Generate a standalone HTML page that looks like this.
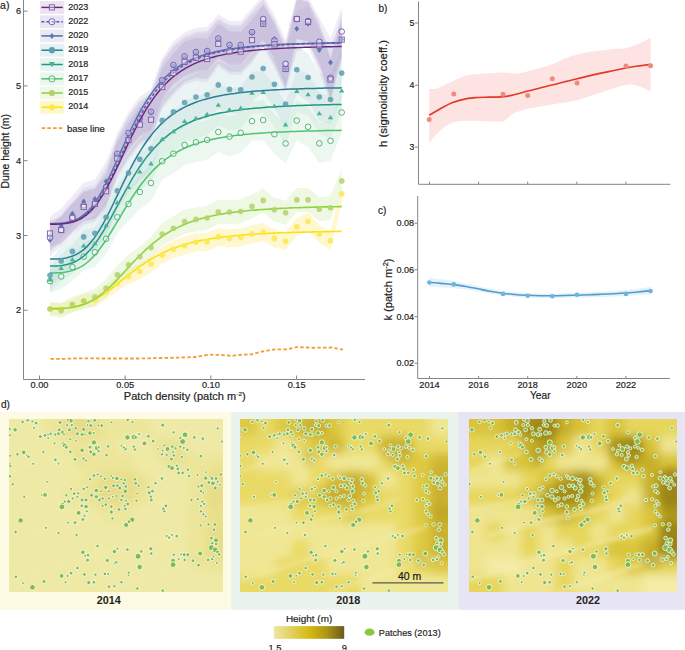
<!DOCTYPE html><html><head><meta charset="utf-8"><style>html,body{margin:0;padding:0;background:#fff;overflow:hidden;}svg{display:block}text{font-family:"Liberation Sans", sans-serif;stroke:#222;stroke-width:0.18px;}</style></head><body>
<svg width="685" height="650" viewBox="0 0 685 650">
<defs><filter id="bl" x="-5%" y="-5%" width="110%" height="110%"><feGaussianBlur stdDeviation="1.2"/></filter></defs>
<path d="M50,216.5 L61.2,208.4 L72.4,195.6 L83.7,182.8 L94.9,179.7 L106.1,161.6 L117.3,133.3 L128.5,111.9 L139.8,96.8 L151,89.5 L162.2,57.5 L173.4,41.6 L184.6,32.4 L195.9,28 L207.1,27 L218.3,14.5 L229.5,21 L240.7,21 L252,8.2 L263.2,-5 L274.4,15 L285.6,39.8 L296.8,-5 L308.1,-3 L319.3,17.8 L330.5,38.6 L341.7,7.6 L341.7,62.6 L330.5,102.5 L319.3,73 L308.1,46.7 L296.8,51.8 L285.6,92 L274.4,67.3 L263.2,46.7 L252,63.1 L240.7,74.7 L229.5,74.5 L218.3,66.8 L207.1,82 L195.9,80.7 L184.6,84.8 L173.4,95.3 L162.2,108.8 L151,140.9 L139.8,145.3 L128.5,160.1 L117.3,178 L106.1,210.1 L94.9,222.1 L83.7,224.8 L72.4,234.9 L61.2,246.6 L50,256Z" fill="#b8a8d0" fill-opacity="0.22"/>
<path d="M50,303 L61.2,302.8 L72.4,299.5 L83.7,294.2 L94.9,293 L106.1,284.8 L117.3,275.9 L128.5,268.6 L139.8,263.5 L151,255.9 L162.2,246.8 L173.4,240.4 L184.6,236.7 L195.9,233.2 L207.1,232.9 L218.3,227.9 L229.5,229.4 L240.7,228.5 L252,225 L263.2,223 L274.4,229.4 L285.6,232.3 L296.8,217.7 L308.1,212.5 L319.3,225 L330.5,231.7 L341.7,184.7 L341.7,202.7 L330.5,249.7 L319.3,243 L308.1,230.5 L296.8,235.7 L285.6,250.3 L274.4,247.4 L263.2,241 L252,243 L240.7,246.5 L229.5,247.4 L218.3,245.9 L207.1,250.9 L195.9,251.2 L184.6,254.7 L173.4,257.9 L162.2,263.8 L151,272.4 L139.8,279.5 L128.5,284.1 L117.3,290.9 L106.1,299.2 L94.9,307 L83.7,307.8 L72.4,312.5 L61.2,315.2 L50,315Z" fill="#fdf0a0" fill-opacity="0.5"/>
<path d="M50,302 L61.2,303.2 L72.4,296.7 L83.7,292.8 L94.9,288.4 L106.1,279.1 L117.3,265.2 L128.5,254.8 L139.8,246.5 L151,236.8 L162.2,222.8 L173.4,216.6 L184.6,209.5 L195.9,207.4 L207.1,206 L218.3,200.1 L229.5,200.1 L240.7,199.5 L252,194.3 L263.2,188.4 L274.4,197.8 L285.6,200.7 L296.8,187.9 L308.1,187.9 L319.3,197.2 L330.5,195.7 L341.7,168.9 L341.7,192.9 L330.5,219.7 L319.3,221.2 L308.1,211.9 L296.8,211.9 L285.6,224.7 L274.4,221.8 L263.2,212.4 L252,218.3 L240.7,223.5 L229.5,224.1 L218.3,224.1 L207.1,230 L195.9,231.4 L184.6,233.5 L173.4,239.8 L162.2,245.2 L151,258.4 L139.8,267.1 L128.5,274.6 L117.3,284.2 L106.1,297.3 L94.9,305.8 L83.7,309.2 L72.4,312.3 L61.2,318 L50,316Z" fill="#d8eeb8" fill-opacity="0.4"/>
<path d="M50,269.2 L61.2,263.7 L72.4,253.8 L83.7,242.6 L94.9,237.6 L106.1,223.5 L117.3,201.2 L128.5,187.3 L139.8,174.7 L151,165 L162.2,142.5 L173.4,134.4 L184.6,125 L195.9,122.3 L207.1,119.9 L218.3,112 L229.5,116.6 L240.7,112.9 L252,101.1 L263.2,100.1 L274.4,114.2 L285.6,123.5 L296.8,100.6 L308.1,106.8 L319.3,123.3 L330.5,120.8 L341.7,92.5 L341.7,132.5 L330.5,160.8 L319.3,163.3 L308.1,146.8 L296.8,140.6 L285.6,163.5 L274.4,154.2 L263.2,140.1 L252,141.1 L240.7,152.9 L229.5,156.6 L218.3,152 L207.1,159.9 L195.9,162.3 L184.6,165 L173.4,173 L162.2,179.9 L151,201 L139.8,209.3 L128.5,220.7 L117.3,233.2 L106.1,254.1 L94.9,267 L83.7,270.6 L72.4,280.4 L61.2,289.1 L50,293.2Z" fill="#b4e4c0" fill-opacity="0.25"/>
<path d="M50,266.4 L61.2,254.3 L72.4,244.8 L83.7,230.5 L94.9,227.4 L106.1,208.9 L117.3,185.3 L128.5,169.2 L139.8,153.2 L151,144.3 L162.2,119.1 L173.4,110.9 L184.6,100 L195.9,97 L207.1,93 L218.3,83.7 L229.5,88.5 L240.7,86.8 L252,71.7 L263.2,71 L274.4,84.8 L285.6,103.3 L296.8,69.8 L308.1,73.2 L319.3,92.2 L330.5,96.2 L341.7,69.4 L341.7,111.4 L330.5,138.2 L319.3,134.2 L308.1,115.2 L296.8,111.8 L285.6,145.3 L274.4,126.8 L263.2,113 L252,113.7 L240.7,128.8 L229.5,130.5 L218.3,125.7 L207.1,135 L195.9,139 L184.6,142 L173.4,151.5 L162.2,158.5 L151,182.3 L139.8,189.8 L128.5,204.6 L117.3,219.3 L106.1,241.5 L94.9,258.8 L83.7,260.5 L72.4,273.4 L61.2,281.7 L50,292.4Z" fill="#9cd4c4" fill-opacity="0.18"/>
<path d="M50,261.2 L61.2,246.1 L72.4,235.7 L83.7,220.4 L94.9,215.9 L106.1,199 L117.3,171.8 L128.5,153.2 L139.8,138.5 L151,127.3 L162.2,98.1 L173.4,88.6 L184.6,78.5 L195.9,73 L207.1,70.7 L218.3,60.9 L229.5,65.4 L240.7,65.7 L252,53 L263.2,44.5 L274.4,60.3 L285.6,80 L296.8,45.7 L308.1,53.5 L319.3,73 L330.5,75.5 L341.7,49.1 L341.7,97.1 L330.5,123.5 L319.3,121 L308.1,101.5 L296.8,93.7 L285.6,128 L274.4,108.3 L263.2,92.5 L252,101 L240.7,113.7 L229.5,113.4 L218.3,108.9 L207.1,118.7 L195.9,121 L184.6,126.5 L173.4,135 L162.2,142.7 L151,170.3 L139.8,179.9 L128.5,192.8 L117.3,209.8 L106.1,235.4 L94.9,250.5 L83.7,253.4 L72.4,267.1 L61.2,275.7 L50,289.2Z" fill="#9cc4cc" fill-opacity="0.2"/>
<path d="M50,228 L61.2,213.5 L72.4,200.8 L83.7,188 L94.9,185 L106.1,167 L117.3,139.3 L128.5,118 L139.8,103 L151,95.8 L162.2,63.8 L173.4,48 L184.6,38.9 L195.9,34.5 L207.1,33.5 L218.3,21 L229.5,27.5 L240.7,27.5 L252,14.7 L263.2,5.7 L274.4,21 L285.6,51 L296.8,10.8 L308.1,5.7 L319.3,32 L330.5,44.6 L341.7,21.6 L341.7,57.6 L330.5,80.6 L319.3,68 L308.1,41.7 L296.8,46.8 L285.6,87 L274.4,57 L263.2,41.7 L252,50.7 L240.7,63.5 L229.5,63.5 L218.3,57 L207.1,69.5 L195.9,70.5 L184.6,74.9 L173.4,83 L162.2,97.8 L151,128.8 L139.8,135 L128.5,149 L117.3,169.3 L106.1,196 L94.9,213 L83.7,215 L72.4,226.8 L61.2,238.5 L50,252Z" fill="#8898c4" fill-opacity="0.12"/>
<path d="M50,224.7 L61.2,216.4 L72.4,203.5 L83.7,190.7 L94.9,188.5 L106.1,171.1 L117.3,137.3 L128.5,115.9 L139.8,100.8 L151,93.5 L162.2,61.5 L173.4,45.6 L184.6,36.4 L195.9,32 L207.1,31 L218.3,18.5 L229.5,25 L240.7,25 L252,12.2 L263.2,-1 L274.4,20.3 L285.6,43.8 L296.8,-1 L308.1,1 L319.3,21.8 L330.5,57.8 L341.7,11.6 L341.7,51.6 L330.5,97.8 L319.3,61.8 L308.1,41 L296.8,39 L285.6,83.8 L274.4,60.3 L263.2,39 L252,52.2 L240.7,65 L229.5,65 L218.3,58.5 L207.1,71 L195.9,72 L184.6,76.4 L173.4,84.4 L162.2,99.1 L151,130.1 L139.8,136.2 L128.5,150.1 L117.3,170.3 L106.1,202.9 L94.9,219.1 L83.7,220.2 L72.4,231.9 L61.2,243.6 L50,250.7Z" fill="#8a78b8" fill-opacity="0.14"/>
<path d="M50,220.5 L61.2,216.4 L72.4,203.5 L83.7,192.2 L94.9,188.5 L106.1,175.3 L117.3,142 L128.5,122.9 L139.8,106.9 L151,101.5 L162.2,68.2 L173.4,53.5 L184.6,41.8 L195.9,37.7 L207.1,39 L218.3,23.8 L229.5,31.5 L240.7,31.7 L252,20.1 L263.2,3.7 L274.4,24.3 L285.6,49 L296.8,-1 L308.1,2 L319.3,25.7 L330.5,59.5 L341.7,19.6 L341.7,59.6 L330.5,99.5 L319.3,65.7 L308.1,42 L296.8,39 L285.6,89 L274.4,64.3 L263.2,43.7 L252,60.1 L240.7,71.7 L229.5,71.5 L218.3,63.8 L207.1,79 L195.9,77.7 L184.6,81.8 L173.4,92.3 L162.2,105.8 L151,137.9 L139.8,142.3 L128.5,157.1 L117.3,175 L106.1,207.1 L94.9,219.1 L83.7,221.8 L72.4,231.9 L61.2,243.6 L50,246.5Z" fill="#8e6aa8" fill-opacity="0.15"/>
<polyline points="50.5,358.9 65,358.8 80,358.3 100,358.5 120,358.5 138,358.5 157,358.1 176,357.7 195,357 204.4,355.4 210,354.7 221.4,355 231,355.8 242.3,354.7 251.8,354.3 263.2,351.3 274.6,349.4 286,349.4 297.3,347.1 312.5,347.8 331.5,347.5 342.9,349.7" fill="none" stroke="#f39b34" stroke-width="1.8" stroke-dasharray="3.5,2.2"/>
<polyline points="50,308.6 52.4,308.5 54.9,308.5 57.3,308.4 59.7,308.3 62.2,308.2 64.6,308 67,307.8 69.4,307.5 71.9,307.2 74.3,306.7 76.7,306.2 79.2,305.6 81.6,305 84,304.2 86.5,303.3 88.9,302.3 91.3,301.2 93.8,300 96.2,298.8 98.6,297.4 101,295.9 103.5,294.3 105.9,292.6 108.3,290.9 110.8,289.1 113.2,287.2 115.6,285.3 118.1,283.4 120.5,281.5 122.9,279.5 125.4,277.6 127.8,275.7 130.2,273.8 132.6,271.9 135.1,270 137.5,268.2 139.9,266.5 142.4,264.8 144.8,263.1 147.2,261.6 149.7,260 152.1,258.6 154.5,257.2 157,255.9 159.4,254.6 161.8,253.4 164.2,252.2 166.7,251.1 169.1,250.1 171.5,249.1 174,248.1 176.4,247.2 178.8,246.4 181.3,245.6 183.7,244.9 186.1,244.1 188.6,243.5 191,242.8 193.4,242.2 195.8,241.6 198.3,241.1 200.7,240.6 203.1,240.1 205.6,239.7 208,239.2 210.4,238.8 212.9,238.4 215.3,238.1 217.7,237.7 220.2,237.4 222.6,237.1 225,236.8 227.5,236.5 229.9,236.2 232.3,236 234.7,235.7 237.2,235.5 239.6,235.3 242,235.1 244.5,234.9 246.9,234.7 249.3,234.5 251.8,234.4 254.2,234.2 256.6,234 259.1,233.9 261.5,233.8 263.9,233.6 266.3,233.5 268.8,233.4 271.2,233.3 273.6,233.1 276.1,233 278.5,232.9 280.9,232.8 283.4,232.8 285.8,232.7 288.2,232.6 290.7,232.5 293.1,232.4 295.5,232.3 297.9,232.3 300.4,232.2 302.8,232.1 305.2,232.1 307.7,232 310.1,232 312.5,231.9 315,231.9 317.4,231.8 319.8,231.7 322.3,231.7 324.7,231.7 327.1,231.6 329.5,231.6 332,231.5 334.4,231.5 336.8,231.5 339.3,231.4 341.7,231.4" fill="none" stroke="#fde10e" stroke-width="1.6"/>
<circle cx="50" cy="309" r="2.8" fill="#fde84c" fill-opacity="0.85"/>
<circle cx="61.2" cy="309" r="2.8" fill="#fde84c" fill-opacity="0.85"/>
<circle cx="72.4" cy="306" r="2.8" fill="#fde84c" fill-opacity="0.85"/>
<circle cx="83.7" cy="301" r="2.8" fill="#fde84c" fill-opacity="0.85"/>
<circle cx="94.9" cy="300" r="2.8" fill="#fde84c" fill-opacity="0.85"/>
<circle cx="106.1" cy="292" r="2.8" fill="#fde84c" fill-opacity="0.85"/>
<circle cx="117.3" cy="283.4" r="2.8" fill="#fde84c" fill-opacity="0.85"/>
<circle cx="128.5" cy="276.4" r="2.8" fill="#fde84c" fill-opacity="0.85"/>
<circle cx="139.8" cy="271.5" r="2.8" fill="#fde84c" fill-opacity="0.85"/>
<circle cx="151" cy="264.1" r="2.8" fill="#fde84c" fill-opacity="0.85"/>
<circle cx="162.2" cy="255.3" r="2.8" fill="#fde84c" fill-opacity="0.85"/>
<circle cx="173.4" cy="249.2" r="2.8" fill="#fde84c" fill-opacity="0.85"/>
<circle cx="184.6" cy="245.7" r="2.8" fill="#fde84c" fill-opacity="0.85"/>
<circle cx="195.9" cy="242.2" r="2.8" fill="#fde84c" fill-opacity="0.85"/>
<circle cx="207.1" cy="241.9" r="2.8" fill="#fde84c" fill-opacity="0.85"/>
<circle cx="218.3" cy="236.9" r="2.8" fill="#fde84c" fill-opacity="0.85"/>
<circle cx="229.5" cy="238.4" r="2.8" fill="#fde84c" fill-opacity="0.85"/>
<circle cx="240.7" cy="237.5" r="2.8" fill="#fde84c" fill-opacity="0.85"/>
<circle cx="252" cy="234" r="2.8" fill="#fde84c" fill-opacity="0.85"/>
<circle cx="263.2" cy="232" r="2.8" fill="#fde84c" fill-opacity="0.85"/>
<circle cx="274.4" cy="238.4" r="2.8" fill="#fde84c" fill-opacity="0.85"/>
<circle cx="285.6" cy="241.3" r="2.8" fill="#fde84c" fill-opacity="0.85"/>
<circle cx="296.8" cy="226.7" r="2.8" fill="#fde84c" fill-opacity="0.85"/>
<circle cx="308.1" cy="221.5" r="2.8" fill="#fde84c" fill-opacity="0.85"/>
<circle cx="319.3" cy="234" r="2.8" fill="#fde84c" fill-opacity="0.85"/>
<circle cx="330.5" cy="240.7" r="2.8" fill="#fde84c" fill-opacity="0.85"/>
<circle cx="341.7" cy="193.7" r="2.8" fill="#fde84c" fill-opacity="0.85"/>
<polyline points="50,308.7 52.4,308.6 54.9,308.6 57.3,308.6 59.7,308.5 62.2,308.3 64.6,308.2 67,308 69.4,307.7 71.9,307.3 74.3,306.9 76.7,306.4 79.2,305.8 81.6,305 84,304.2 86.5,303.2 88.9,302.1 91.3,300.9 93.8,299.5 96.2,298 98.6,296.3 101,294.5 103.5,292.5 105.9,290.5 108.3,288.3 110.8,286 113.2,283.6 115.6,281.1 118.1,278.6 120.5,276 122.9,273.4 125.4,270.8 127.8,268.1 130.2,265.5 132.6,262.9 135.1,260.3 137.5,257.8 139.9,255.4 142.4,253 144.8,250.7 147.2,248.4 149.7,246.3 152.1,244.2 154.5,242.2 157,240.3 159.4,238.5 161.8,236.7 164.2,235.1 166.7,233.5 169.1,232 171.5,230.6 174,229.3 176.4,228.1 178.8,226.9 181.3,225.7 183.7,224.7 186.1,223.7 188.6,222.7 191,221.8 193.4,221 195.8,220.2 198.3,219.4 200.7,218.7 203.1,218.1 205.6,217.4 208,216.8 210.4,216.3 212.9,215.8 215.3,215.3 217.7,214.8 220.2,214.3 222.6,213.9 225,213.5 227.5,213.1 229.9,212.8 232.3,212.5 234.7,212.1 237.2,211.8 239.6,211.5 242,211.3 244.5,211 246.9,210.8 249.3,210.5 251.8,210.3 254.2,210.1 256.6,209.9 259.1,209.7 261.5,209.5 263.9,209.4 266.3,209.2 268.8,209.1 271.2,208.9 273.6,208.8 276.1,208.6 278.5,208.5 280.9,208.4 283.4,208.3 285.8,208.2 288.2,208 290.7,207.9 293.1,207.8 295.5,207.8 297.9,207.7 300.4,207.6 302.8,207.5 305.2,207.4 307.7,207.4 310.1,207.3 312.5,207.2 315,207.1 317.4,207.1 319.8,207 322.3,207 324.7,206.9 327.1,206.9 329.5,206.8 332,206.8 334.4,206.7 336.8,206.7 339.3,206.6 341.7,206.6" fill="none" stroke="#8cd642" stroke-width="1.6"/>
<circle cx="50" cy="309" r="2.8" fill="#b5d16a" fill-opacity="0.85"/>
<circle cx="61.2" cy="310.6" r="2.8" fill="#b5d16a" fill-opacity="0.85"/>
<circle cx="72.4" cy="304.5" r="2.8" fill="#b5d16a" fill-opacity="0.85"/>
<circle cx="83.7" cy="301" r="2.8" fill="#b5d16a" fill-opacity="0.85"/>
<circle cx="94.9" cy="297.1" r="2.8" fill="#b5d16a" fill-opacity="0.85"/>
<circle cx="106.1" cy="288.2" r="2.8" fill="#b5d16a" fill-opacity="0.85"/>
<circle cx="117.3" cy="274.7" r="2.8" fill="#b5d16a" fill-opacity="0.85"/>
<circle cx="128.5" cy="264.7" r="2.8" fill="#b5d16a" fill-opacity="0.85"/>
<circle cx="139.8" cy="256.8" r="2.8" fill="#b5d16a" fill-opacity="0.85"/>
<circle cx="151" cy="247.6" r="2.8" fill="#b5d16a" fill-opacity="0.85"/>
<circle cx="162.2" cy="234" r="2.8" fill="#b5d16a" fill-opacity="0.85"/>
<circle cx="173.4" cy="228.2" r="2.8" fill="#b5d16a" fill-opacity="0.85"/>
<circle cx="184.6" cy="221.5" r="2.8" fill="#b5d16a" fill-opacity="0.85"/>
<circle cx="195.9" cy="219.4" r="2.8" fill="#b5d16a" fill-opacity="0.85"/>
<circle cx="207.1" cy="218" r="2.8" fill="#b5d16a" fill-opacity="0.85"/>
<circle cx="218.3" cy="212.1" r="2.8" fill="#b5d16a" fill-opacity="0.85"/>
<circle cx="229.5" cy="212.1" r="2.8" fill="#b5d16a" fill-opacity="0.85"/>
<circle cx="240.7" cy="211.5" r="2.8" fill="#b5d16a" fill-opacity="0.85"/>
<circle cx="252" cy="206.3" r="2.8" fill="#b5d16a" fill-opacity="0.85"/>
<circle cx="263.2" cy="200.4" r="2.8" fill="#b5d16a" fill-opacity="0.85"/>
<circle cx="274.4" cy="209.8" r="2.8" fill="#b5d16a" fill-opacity="0.85"/>
<circle cx="285.6" cy="212.7" r="2.8" fill="#b5d16a" fill-opacity="0.85"/>
<circle cx="296.8" cy="199.9" r="2.8" fill="#b5d16a" fill-opacity="0.85"/>
<circle cx="308.1" cy="199.9" r="2.8" fill="#b5d16a" fill-opacity="0.85"/>
<circle cx="319.3" cy="209.2" r="2.8" fill="#b5d16a" fill-opacity="0.85"/>
<circle cx="330.5" cy="207.7" r="2.8" fill="#b5d16a" fill-opacity="0.85"/>
<circle cx="341.7" cy="180.9" r="2.8" fill="#b5d16a" fill-opacity="0.85"/>
<polyline points="50,273.1 52.4,273 54.9,272.9 57.3,272.8 59.7,272.7 62.2,272.5 64.6,272.2 67,271.8 69.4,271.3 71.9,270.6 74.3,269.8 76.7,268.9 79.2,267.7 81.6,266.4 84,264.8 86.5,263 88.9,261 91.3,258.7 93.8,256.1 96.2,253.4 98.6,250.4 101,247.1 103.5,243.7 105.9,240.1 108.3,236.4 110.8,232.5 113.2,228.5 115.6,224.4 118.1,220.4 120.5,216.3 122.9,212.2 125.4,208.2 127.8,204.2 130.2,200.3 132.6,196.6 135.1,192.9 137.5,189.4 139.9,186 142.4,182.8 144.8,179.7 147.2,176.8 149.7,174 152.1,171.4 154.5,168.9 157,166.6 159.4,164.4 161.8,162.3 164.2,160.4 166.7,158.5 169.1,156.8 171.5,155.2 174,153.7 176.4,152.3 178.8,151 181.3,149.7 183.7,148.6 186.1,147.5 188.6,146.5 191,145.5 193.4,144.6 195.8,143.8 198.3,143 200.7,142.3 203.1,141.6 205.6,140.9 208,140.3 210.4,139.8 212.9,139.2 215.3,138.7 217.7,138.2 220.2,137.8 222.6,137.4 225,137 227.5,136.6 229.9,136.3 232.3,135.9 234.7,135.6 237.2,135.3 239.6,135 242,134.8 244.5,134.5 246.9,134.3 249.3,134.1 251.8,133.8 254.2,133.6 256.6,133.5 259.1,133.3 261.5,133.1 263.9,132.9 266.3,132.8 268.8,132.6 271.2,132.5 273.6,132.4 276.1,132.2 278.5,132.1 280.9,132 283.4,131.9 285.8,131.8 288.2,131.7 290.7,131.6 293.1,131.5 295.5,131.4 297.9,131.3 300.4,131.3 302.8,131.2 305.2,131.1 307.7,131 310.1,131 312.5,130.9 315,130.9 317.4,130.8 319.8,130.7 322.3,130.7 324.7,130.6 327.1,130.6 329.5,130.5 332,130.5 334.4,130.5 336.8,130.4 339.3,130.4 341.7,130.3" fill="none" stroke="#4dc470" stroke-width="1.5"/>
<circle cx="50" cy="281.2" r="2.8" fill="#fff" fill-opacity="0.4" stroke="#4aaa6a" stroke-width="0.9"/>
<circle cx="61.2" cy="276.4" r="2.8" fill="#fff" fill-opacity="0.4" stroke="#4aaa6a" stroke-width="0.9"/>
<circle cx="72.4" cy="267.1" r="2.8" fill="#fff" fill-opacity="0.4" stroke="#4aaa6a" stroke-width="0.9"/>
<circle cx="83.7" cy="256.6" r="2.8" fill="#fff" fill-opacity="0.4" stroke="#4aaa6a" stroke-width="0.9"/>
<circle cx="94.9" cy="252.3" r="2.8" fill="#fff" fill-opacity="0.4" stroke="#4aaa6a" stroke-width="0.9"/>
<circle cx="106.1" cy="238.8" r="2.8" fill="#fff" fill-opacity="0.4" stroke="#4aaa6a" stroke-width="0.9"/>
<circle cx="117.3" cy="217.2" r="2.8" fill="#fff" fill-opacity="0.4" stroke="#4aaa6a" stroke-width="0.9"/>
<circle cx="128.5" cy="204" r="2.8" fill="#fff" fill-opacity="0.4" stroke="#4aaa6a" stroke-width="0.9"/>
<circle cx="139.8" cy="192" r="2.8" fill="#fff" fill-opacity="0.4" stroke="#4aaa6a" stroke-width="0.9"/>
<circle cx="151" cy="183" r="2.8" fill="#fff" fill-opacity="0.4" stroke="#4aaa6a" stroke-width="0.9"/>
<circle cx="162.2" cy="161.2" r="2.8" fill="#fff" fill-opacity="0.4" stroke="#4aaa6a" stroke-width="0.9"/>
<circle cx="173.4" cy="153.7" r="2.8" fill="#fff" fill-opacity="0.4" stroke="#4aaa6a" stroke-width="0.9"/>
<circle cx="184.6" cy="145" r="2.8" fill="#fff" fill-opacity="0.4" stroke="#4aaa6a" stroke-width="0.9"/>
<circle cx="195.9" cy="142.3" r="2.8" fill="#fff" fill-opacity="0.4" stroke="#4aaa6a" stroke-width="0.9"/>
<circle cx="207.1" cy="139.9" r="2.8" fill="#fff" fill-opacity="0.4" stroke="#4aaa6a" stroke-width="0.9"/>
<circle cx="218.3" cy="132" r="2.8" fill="#fff" fill-opacity="0.4" stroke="#4aaa6a" stroke-width="0.9"/>
<circle cx="229.5" cy="136.6" r="2.8" fill="#fff" fill-opacity="0.4" stroke="#4aaa6a" stroke-width="0.9"/>
<circle cx="240.7" cy="132.9" r="2.8" fill="#fff" fill-opacity="0.4" stroke="#4aaa6a" stroke-width="0.9"/>
<circle cx="252" cy="121.1" r="2.8" fill="#fff" fill-opacity="0.4" stroke="#4aaa6a" stroke-width="0.9"/>
<circle cx="263.2" cy="120.1" r="2.8" fill="#fff" fill-opacity="0.4" stroke="#4aaa6a" stroke-width="0.9"/>
<circle cx="274.4" cy="134.2" r="2.8" fill="#fff" fill-opacity="0.4" stroke="#4aaa6a" stroke-width="0.9"/>
<circle cx="285.6" cy="143.5" r="2.8" fill="#fff" fill-opacity="0.4" stroke="#4aaa6a" stroke-width="0.9"/>
<circle cx="296.8" cy="120.6" r="2.8" fill="#fff" fill-opacity="0.4" stroke="#4aaa6a" stroke-width="0.9"/>
<circle cx="308.1" cy="126.8" r="2.8" fill="#fff" fill-opacity="0.4" stroke="#4aaa6a" stroke-width="0.9"/>
<circle cx="319.3" cy="143.3" r="2.8" fill="#fff" fill-opacity="0.4" stroke="#4aaa6a" stroke-width="0.9"/>
<circle cx="330.5" cy="140.8" r="2.8" fill="#fff" fill-opacity="0.4" stroke="#4aaa6a" stroke-width="0.9"/>
<circle cx="341.7" cy="112.5" r="2.8" fill="#fff" fill-opacity="0.4" stroke="#4aaa6a" stroke-width="0.9"/>
<polyline points="50,266.1 52.4,266.1 54.9,266 57.3,265.9 59.7,265.7 62.2,265.4 64.6,265 67,264.5 69.4,263.8 71.9,263 74.3,262 76.7,260.8 79.2,259.4 81.6,257.7 84,255.8 86.5,253.6 88.9,251.1 91.3,248.4 93.8,245.4 96.2,242.1 98.6,238.6 101,234.9 103.5,230.9 105.9,226.8 108.3,222.5 110.8,218.1 113.2,213.6 115.6,209.1 118.1,204.5 120.5,199.9 122.9,195.4 125.4,190.9 127.8,186.5 130.2,182.3 132.6,178.1 135.1,174.1 137.5,170.2 139.9,166.5 142.4,163 144.8,159.6 147.2,156.4 149.7,153.4 152.1,150.5 154.5,147.8 157,145.2 159.4,142.8 161.8,140.5 164.2,138.3 166.7,136.3 169.1,134.4 171.5,132.6 174,131 176.4,129.4 178.8,127.9 181.3,126.5 183.7,125.2 186.1,124 188.6,122.9 191,121.8 193.4,120.8 195.8,119.9 198.3,119 200.7,118.2 203.1,117.4 205.6,116.7 208,116 210.4,115.3 212.9,114.7 215.3,114.1 217.7,113.6 220.2,113.1 222.6,112.6 225,112.2 227.5,111.7 229.9,111.3 232.3,111 234.7,110.6 237.2,110.3 239.6,109.9 242,109.6 244.5,109.3 246.9,109.1 249.3,108.8 251.8,108.6 254.2,108.3 256.6,108.1 259.1,107.9 261.5,107.7 263.9,107.5 266.3,107.3 268.8,107.1 271.2,107 273.6,106.8 276.1,106.7 278.5,106.5 280.9,106.4 283.4,106.3 285.8,106.2 288.2,106 290.7,105.9 293.1,105.8 295.5,105.7 297.9,105.6 300.4,105.5 302.8,105.4 305.2,105.3 307.7,105.3 310.1,105.2 312.5,105.1 315,105 317.4,105 319.8,104.9 322.3,104.8 324.7,104.8 327.1,104.7 329.5,104.7 332,104.6 334.4,104.6 336.8,104.5 339.3,104.5 341.7,104.4" fill="none" stroke="#1f9a82" stroke-width="1.5"/>
<path d="M47.3,281.5 l5.4,0 l-2.7,-4.3z" fill="#4ab490"/>
<path d="M58.5,270.1 l5.4,0 l-2.7,-4.3z" fill="#4ab490"/>
<path d="M69.7,261.2 l5.4,0 l-2.7,-4.3z" fill="#4ab490"/>
<path d="M81,247.6 l5.4,0 l-2.7,-4.3z" fill="#4ab490"/>
<path d="M92.2,245.2 l5.4,0 l-2.7,-4.3z" fill="#4ab490"/>
<path d="M103.4,227.3 l5.4,0 l-2.7,-4.3z" fill="#4ab490"/>
<path d="M114.6,204.4 l5.4,0 l-2.7,-4.3z" fill="#4ab490"/>
<path d="M125.8,189 l5.4,0 l-2.7,-4.3z" fill="#4ab490"/>
<path d="M137.1,173.6 l5.4,0 l-2.7,-4.3z" fill="#4ab490"/>
<path d="M148.3,165.4 l5.4,0 l-2.7,-4.3z" fill="#4ab490"/>
<path d="M159.5,140.9 l5.4,0 l-2.7,-4.3z" fill="#4ab490"/>
<path d="M170.7,133.3 l5.4,0 l-2.7,-4.3z" fill="#4ab490"/>
<path d="M181.9,123.1 l5.4,0 l-2.7,-4.3z" fill="#4ab490"/>
<path d="M193.2,120.1 l5.4,0 l-2.7,-4.3z" fill="#4ab490"/>
<path d="M204.4,116.1 l5.4,0 l-2.7,-4.3z" fill="#4ab490"/>
<path d="M215.6,106.8 l5.4,0 l-2.7,-4.3z" fill="#4ab490"/>
<path d="M226.8,111.6 l5.4,0 l-2.7,-4.3z" fill="#4ab490"/>
<path d="M238,109.9 l5.4,0 l-2.7,-4.3z" fill="#4ab490"/>
<path d="M249.3,94.8 l5.4,0 l-2.7,-4.3z" fill="#4ab490"/>
<path d="M260.5,94.1 l5.4,0 l-2.7,-4.3z" fill="#4ab490"/>
<path d="M271.7,107.9 l5.4,0 l-2.7,-4.3z" fill="#4ab490"/>
<path d="M282.9,126.4 l5.4,0 l-2.7,-4.3z" fill="#4ab490"/>
<path d="M294.1,92.9 l5.4,0 l-2.7,-4.3z" fill="#4ab490"/>
<path d="M305.4,96.3 l5.4,0 l-2.7,-4.3z" fill="#4ab490"/>
<path d="M316.6,115.3 l5.4,0 l-2.7,-4.3z" fill="#4ab490"/>
<path d="M327.8,119.3 l5.4,0 l-2.7,-4.3z" fill="#4ab490"/>
<path d="M339,92.5 l5.4,0 l-2.7,-4.3z" fill="#4ab490"/>
<polyline points="50,259.1 52.4,259.1 54.9,259 57.3,258.9 59.7,258.7 62.2,258.5 64.6,258.2 67,257.7 69.4,257.1 71.9,256.3 74.3,255.4 76.7,254.2 79.2,252.9 81.6,251.2 84,249.3 86.5,247.1 88.9,244.6 91.3,241.7 93.8,238.6 96.2,235.1 98.6,231.4 101,227.3 103.5,223.1 105.9,218.5 108.3,213.8 110.8,208.9 113.2,204 115.6,198.9 118.1,193.8 120.5,188.7 122.9,183.6 125.4,178.6 127.8,173.7 130.2,169 132.6,164.4 135.1,159.9 137.5,155.7 139.9,151.6 142.4,147.7 144.8,144 147.2,140.5 149.7,137.2 152.1,134.1 154.5,131.2 157,128.4 159.4,125.8 161.8,123.4 164.2,121.2 166.7,119 169.1,117.1 171.5,115.2 174,113.5 176.4,111.9 178.8,110.4 181.3,109 183.7,107.7 186.1,106.4 188.6,105.3 191,104.2 193.4,103.2 195.8,102.3 198.3,101.4 200.7,100.6 203.1,99.9 205.6,99.2 208,98.5 210.4,97.9 212.9,97.3 215.3,96.7 217.7,96.2 220.2,95.7 222.6,95.3 225,94.8 227.5,94.4 229.9,94.1 232.3,93.7 234.7,93.4 237.2,93 239.6,92.7 242,92.5 244.5,92.2 246.9,91.9 249.3,91.7 251.8,91.5 254.2,91.3 256.6,91.1 259.1,90.9 261.5,90.7 263.9,90.5 266.3,90.4 268.8,90.2 271.2,90.1 273.6,89.9 276.1,89.8 278.5,89.7 280.9,89.6 283.4,89.4 285.8,89.3 288.2,89.2 290.7,89.1 293.1,89 295.5,88.9 297.9,88.9 300.4,88.8 302.8,88.7 305.2,88.6 307.7,88.6 310.1,88.5 312.5,88.4 315,88.4 317.4,88.3 319.8,88.2 322.3,88.2 324.7,88.1 327.1,88.1 329.5,88 332,88 334.4,88 336.8,87.9 339.3,87.9 341.7,87.8" fill="none" stroke="#2a7f96" stroke-width="1.5"/>
<circle cx="50" cy="275.2" r="2.8" fill="#5a9fae" fill-opacity="0.85"/>
<circle cx="61.2" cy="260.9" r="2.8" fill="#5a9fae" fill-opacity="0.85"/>
<circle cx="72.4" cy="251.4" r="2.8" fill="#5a9fae" fill-opacity="0.85"/>
<circle cx="83.7" cy="236.9" r="2.8" fill="#5a9fae" fill-opacity="0.85"/>
<circle cx="94.9" cy="233.2" r="2.8" fill="#5a9fae" fill-opacity="0.85"/>
<circle cx="106.1" cy="217.2" r="2.8" fill="#5a9fae" fill-opacity="0.85"/>
<circle cx="117.3" cy="190.8" r="2.8" fill="#5a9fae" fill-opacity="0.85"/>
<circle cx="128.5" cy="173" r="2.8" fill="#5a9fae" fill-opacity="0.85"/>
<circle cx="139.8" cy="159.2" r="2.8" fill="#5a9fae" fill-opacity="0.85"/>
<circle cx="151" cy="148.8" r="2.8" fill="#5a9fae" fill-opacity="0.85"/>
<circle cx="162.2" cy="120.4" r="2.8" fill="#5a9fae" fill-opacity="0.85"/>
<circle cx="173.4" cy="111.8" r="2.8" fill="#5a9fae" fill-opacity="0.85"/>
<circle cx="184.6" cy="102.5" r="2.8" fill="#5a9fae" fill-opacity="0.85"/>
<circle cx="195.9" cy="97" r="2.8" fill="#5a9fae" fill-opacity="0.85"/>
<circle cx="207.1" cy="94.7" r="2.8" fill="#5a9fae" fill-opacity="0.85"/>
<circle cx="218.3" cy="84.9" r="2.8" fill="#5a9fae" fill-opacity="0.85"/>
<circle cx="229.5" cy="89.4" r="2.8" fill="#5a9fae" fill-opacity="0.85"/>
<circle cx="240.7" cy="89.7" r="2.8" fill="#5a9fae" fill-opacity="0.85"/>
<circle cx="252" cy="77" r="2.8" fill="#5a9fae" fill-opacity="0.85"/>
<circle cx="263.2" cy="68.5" r="2.8" fill="#5a9fae" fill-opacity="0.85"/>
<circle cx="274.4" cy="84.3" r="2.8" fill="#5a9fae" fill-opacity="0.85"/>
<circle cx="285.6" cy="104" r="2.8" fill="#5a9fae" fill-opacity="0.85"/>
<circle cx="296.8" cy="69.7" r="2.8" fill="#5a9fae" fill-opacity="0.85"/>
<circle cx="308.1" cy="77.5" r="2.8" fill="#5a9fae" fill-opacity="0.85"/>
<circle cx="319.3" cy="97" r="2.8" fill="#5a9fae" fill-opacity="0.85"/>
<circle cx="330.5" cy="99.5" r="2.8" fill="#5a9fae" fill-opacity="0.85"/>
<circle cx="341.7" cy="73.1" r="2.8" fill="#5a9fae" fill-opacity="0.85"/>
<polyline points="50,223.6 52.4,223.6 54.9,223.6 57.3,223.5 59.7,223.3 62.2,223.1 64.6,222.8 67,222.4 69.4,221.9 71.9,221.2 74.3,220.4 76.7,219.3 79.2,218.1 81.6,216.5 84,214.7 86.5,212.6 88.9,210.2 91.3,207.4 93.8,204.3 96.2,200.9 98.6,197.1 101,193 103.5,188.7 105.9,184 108.3,179.1 110.8,174 113.2,168.7 115.6,163.4 118.1,157.9 120.5,152.4 122.9,147 125.4,141.6 127.8,136.2 130.2,131 132.6,126 135.1,121.1 137.5,116.4 139.9,111.9 142.4,107.6 144.8,103.5 147.2,99.7 149.7,96 152.1,92.6 154.5,89.3 157,86.3 159.4,83.5 161.8,80.8 164.2,78.3 166.7,76 169.1,73.8 171.5,71.8 174,69.9 176.4,68.2 178.8,66.5 181.3,65 183.7,63.6 186.1,62.3 188.6,61 191,59.9 193.4,58.8 195.8,57.8 198.3,56.9 200.7,56 203.1,55.2 205.6,54.5 208,53.7 210.4,53.1 212.9,52.5 215.3,51.9 217.7,51.3 220.2,50.8 222.6,50.4 225,49.9 227.5,49.5 229.9,49.1 232.3,48.7 234.7,48.4 237.2,48 239.6,47.7 242,47.4 244.5,47.2 246.9,46.9 249.3,46.7 251.8,46.4 254.2,46.2 256.6,46 259.1,45.8 261.5,45.6 263.9,45.5 266.3,45.3 268.8,45.1 271.2,45 273.6,44.9 276.1,44.7 278.5,44.6 280.9,44.5 283.4,44.4 285.8,44.3 288.2,44.1 290.7,44 293.1,44 295.5,43.9 297.9,43.8 300.4,43.7 302.8,43.6 305.2,43.6 307.7,43.5 310.1,43.4 312.5,43.4 315,43.3 317.4,43.2 319.8,43.2 322.3,43.1 324.7,43.1 327.1,43 329.5,43 332,42.9 334.4,42.9 336.8,42.8 339.3,42.8 341.7,42.8" fill="none" stroke="#5a74ae" stroke-width="1.6"/>
<path d="M50,237 l2.4,3 l-2.4,3 l-2.4,-3z" fill="#5e78b4"/>
<path d="M61.2,223 l2.4,3 l-2.4,3 l-2.4,-3z" fill="#5e78b4"/>
<path d="M72.4,210.8 l2.4,3 l-2.4,3 l-2.4,-3z" fill="#5e78b4"/>
<path d="M83.7,198.5 l2.4,3 l-2.4,3 l-2.4,-3z" fill="#5e78b4"/>
<path d="M94.9,196 l2.4,3 l-2.4,3 l-2.4,-3z" fill="#5e78b4"/>
<path d="M106.1,178.5 l2.4,3 l-2.4,3 l-2.4,-3z" fill="#5e78b4"/>
<path d="M117.3,151.3 l2.4,3 l-2.4,3 l-2.4,-3z" fill="#5e78b4"/>
<path d="M128.5,130.5 l2.4,3 l-2.4,3 l-2.4,-3z" fill="#5e78b4"/>
<path d="M139.8,116 l2.4,3 l-2.4,3 l-2.4,-3z" fill="#5e78b4"/>
<path d="M151,109.3 l2.4,3 l-2.4,3 l-2.4,-3z" fill="#5e78b4"/>
<path d="M162.2,77.8 l2.4,3 l-2.4,3 l-2.4,-3z" fill="#5e78b4"/>
<path d="M173.4,62.5 l2.4,3 l-2.4,3 l-2.4,-3z" fill="#5e78b4"/>
<path d="M184.6,53.9 l2.4,3 l-2.4,3 l-2.4,-3z" fill="#5e78b4"/>
<path d="M195.9,49.5 l2.4,3 l-2.4,3 l-2.4,-3z" fill="#5e78b4"/>
<path d="M207.1,48.5 l2.4,3 l-2.4,3 l-2.4,-3z" fill="#5e78b4"/>
<path d="M218.3,36 l2.4,3 l-2.4,3 l-2.4,-3z" fill="#5e78b4"/>
<path d="M229.5,42.5 l2.4,3 l-2.4,3 l-2.4,-3z" fill="#5e78b4"/>
<path d="M240.7,42.5 l2.4,3 l-2.4,3 l-2.4,-3z" fill="#5e78b4"/>
<path d="M252,29.7 l2.4,3 l-2.4,3 l-2.4,-3z" fill="#5e78b4"/>
<path d="M263.2,20.7 l2.4,3 l-2.4,3 l-2.4,-3z" fill="#5e78b4"/>
<path d="M274.4,36 l2.4,3 l-2.4,3 l-2.4,-3z" fill="#5e78b4"/>
<path d="M285.6,66 l2.4,3 l-2.4,3 l-2.4,-3z" fill="#5e78b4"/>
<path d="M296.8,25.8 l2.4,3 l-2.4,3 l-2.4,-3z" fill="#5e78b4"/>
<path d="M308.1,20.7 l2.4,3 l-2.4,3 l-2.4,-3z" fill="#5e78b4"/>
<path d="M319.3,47 l2.4,3 l-2.4,3 l-2.4,-3z" fill="#5e78b4"/>
<path d="M330.5,59.6 l2.4,3 l-2.4,3 l-2.4,-3z" fill="#5e78b4"/>
<path d="M341.7,36.6 l2.4,3 l-2.4,3 l-2.4,-3z" fill="#5e78b4"/>
<polyline points="50,224.2 52.4,224.2 54.9,224.1 57.3,224 59.7,223.9 62.2,223.7 64.6,223.5 67,223.1 69.4,222.7 71.9,222.1 74.3,221.3 76.7,220.4 79.2,219.2 81.6,217.9 84,216.2 86.5,214.3 88.9,212.1 91.3,209.6 93.8,206.8 96.2,203.6 98.6,200.1 101,196.3 103.5,192.2 105.9,187.8 108.3,183.1 110.8,178.2 113.2,173.2 115.6,167.9 118.1,162.6 120.5,157.2 122.9,151.8 125.4,146.4 127.8,141.1 130.2,135.9 132.6,130.7 135.1,125.8 137.5,121 139.9,116.3 142.4,111.9 144.8,107.7 147.2,103.6 149.7,99.8 152.1,96.2 154.5,92.8 157,89.6 159.4,86.6 161.8,83.8 164.2,81.2 166.7,78.7 169.1,76.4 171.5,74.2 174,72.2 176.4,70.4 178.8,68.6 181.3,67 183.7,65.5 186.1,64 188.6,62.7 191,61.5 193.4,60.3 195.8,59.3 198.3,58.3 200.7,57.3 203.1,56.4 205.6,55.6 208,54.9 210.4,54.1 212.9,53.5 215.3,52.9 217.7,52.3 220.2,51.7 222.6,51.2 225,50.7 227.5,50.3 229.9,49.8 232.3,49.4 234.7,49.1 237.2,48.7 239.6,48.4 242,48.1 244.5,47.8 246.9,47.5 249.3,47.2 251.8,47 254.2,46.8 256.6,46.5 259.1,46.3 261.5,46.1 263.9,45.9 266.3,45.8 268.8,45.6 271.2,45.4 273.6,45.3 276.1,45.1 278.5,45 280.9,44.9 283.4,44.8 285.8,44.6 288.2,44.5 290.7,44.4 293.1,44.3 295.5,44.2 297.9,44.1 300.4,44.1 302.8,44 305.2,43.9 307.7,43.8 310.1,43.7 312.5,43.7 315,43.6 317.4,43.5 319.8,43.5 322.3,43.4 324.7,43.4 327.1,43.3 329.5,43.3 332,43.2 334.4,43.2 336.8,43.1 339.3,43.1 341.7,43.1" fill="none" stroke="#6552aa" stroke-width="1.45" stroke-dasharray="3,2"/>
<circle cx="50" cy="237.7" r="2.8" fill="#fff" fill-opacity="0.4" stroke="#6a50b0" stroke-width="0.9"/>
<circle cx="61.2" cy="230" r="2.8" fill="#fff" fill-opacity="0.4" stroke="#6a50b0" stroke-width="0.9"/>
<circle cx="72.4" cy="217.7" r="2.8" fill="#fff" fill-opacity="0.4" stroke="#6a50b0" stroke-width="0.9"/>
<circle cx="83.7" cy="205.4" r="2.8" fill="#fff" fill-opacity="0.4" stroke="#6a50b0" stroke-width="0.9"/>
<circle cx="94.9" cy="203.8" r="2.8" fill="#fff" fill-opacity="0.4" stroke="#6a50b0" stroke-width="0.9"/>
<circle cx="106.1" cy="187" r="2.8" fill="#fff" fill-opacity="0.4" stroke="#6a50b0" stroke-width="0.9"/>
<circle cx="117.3" cy="153.8" r="2.8" fill="#fff" fill-opacity="0.4" stroke="#6a50b0" stroke-width="0.9"/>
<circle cx="128.5" cy="133" r="2.8" fill="#fff" fill-opacity="0.4" stroke="#6a50b0" stroke-width="0.9"/>
<circle cx="139.8" cy="118.5" r="2.8" fill="#fff" fill-opacity="0.4" stroke="#6a50b0" stroke-width="0.9"/>
<circle cx="151" cy="111.8" r="2.8" fill="#fff" fill-opacity="0.4" stroke="#6a50b0" stroke-width="0.9"/>
<circle cx="162.2" cy="80.3" r="2.8" fill="#fff" fill-opacity="0.4" stroke="#6a50b0" stroke-width="0.9"/>
<circle cx="173.4" cy="65" r="2.8" fill="#fff" fill-opacity="0.4" stroke="#6a50b0" stroke-width="0.9"/>
<circle cx="184.6" cy="56.4" r="2.8" fill="#fff" fill-opacity="0.4" stroke="#6a50b0" stroke-width="0.9"/>
<circle cx="195.9" cy="52" r="2.8" fill="#fff" fill-opacity="0.4" stroke="#6a50b0" stroke-width="0.9"/>
<circle cx="207.1" cy="51" r="2.8" fill="#fff" fill-opacity="0.4" stroke="#6a50b0" stroke-width="0.9"/>
<circle cx="218.3" cy="38.5" r="2.8" fill="#fff" fill-opacity="0.4" stroke="#6a50b0" stroke-width="0.9"/>
<circle cx="229.5" cy="45" r="2.8" fill="#fff" fill-opacity="0.4" stroke="#6a50b0" stroke-width="0.9"/>
<circle cx="240.7" cy="45" r="2.8" fill="#fff" fill-opacity="0.4" stroke="#6a50b0" stroke-width="0.9"/>
<circle cx="252" cy="32.2" r="2.8" fill="#fff" fill-opacity="0.4" stroke="#6a50b0" stroke-width="0.9"/>
<circle cx="263.2" cy="19" r="2.8" fill="#fff" fill-opacity="0.4" stroke="#6a50b0" stroke-width="0.9"/>
<circle cx="274.4" cy="40.3" r="2.8" fill="#fff" fill-opacity="0.4" stroke="#6a50b0" stroke-width="0.9"/>
<circle cx="285.6" cy="63.8" r="2.8" fill="#fff" fill-opacity="0.4" stroke="#6a50b0" stroke-width="0.9"/>
<circle cx="296.8" cy="19" r="2.8" fill="#fff" fill-opacity="0.4" stroke="#6a50b0" stroke-width="0.9"/>
<circle cx="308.1" cy="21" r="2.8" fill="#fff" fill-opacity="0.4" stroke="#6a50b0" stroke-width="0.9"/>
<circle cx="319.3" cy="41.8" r="2.8" fill="#fff" fill-opacity="0.4" stroke="#6a50b0" stroke-width="0.9"/>
<circle cx="330.5" cy="77.8" r="2.8" fill="#fff" fill-opacity="0.4" stroke="#6a50b0" stroke-width="0.9"/>
<circle cx="341.7" cy="31.6" r="2.8" fill="#fff" fill-opacity="0.4" stroke="#6a50b0" stroke-width="0.9"/>
<polyline points="50,224.3 52.4,224.2 54.9,224.2 57.3,224.1 59.7,224 62.2,223.8 64.6,223.6 67,223.3 69.4,222.8 71.9,222.3 74.3,221.5 76.7,220.6 79.2,219.6 81.6,218.3 84,216.7 86.5,214.9 88.9,212.8 91.3,210.4 93.8,207.7 96.2,204.7 98.6,201.4 101,197.7 103.5,193.8 105.9,189.6 108.3,185.1 110.8,180.5 113.2,175.6 115.6,170.6 118.1,165.4 120.5,160.2 122.9,155 125.4,149.7 127.8,144.5 130.2,139.4 132.6,134.4 135.1,129.5 137.5,124.8 139.9,120.2 142.4,115.9 144.8,111.7 147.2,107.7 149.7,103.9 152.1,100.3 154.5,96.9 157,93.7 159.4,90.7 161.8,87.9 164.2,85.2 166.7,82.8 169.1,80.4 171.5,78.3 174,76.2 176.4,74.3 178.8,72.6 181.3,70.9 183.7,69.4 186.1,67.9 188.6,66.6 191,65.3 193.4,64.2 195.8,63.1 198.3,62.1 200.7,61.1 203.1,60.2 205.6,59.4 208,58.6 210.4,57.9 212.9,57.2 215.3,56.5 217.7,55.9 220.2,55.4 222.6,54.9 225,54.4 227.5,53.9 229.9,53.5 232.3,53.1 234.7,52.7 237.2,52.3 239.6,52 242,51.6 244.5,51.3 246.9,51.1 249.3,50.8 251.8,50.5 254.2,50.3 256.6,50.1 259.1,49.8 261.5,49.6 263.9,49.5 266.3,49.3 268.8,49.1 271.2,48.9 273.6,48.8 276.1,48.6 278.5,48.5 280.9,48.4 283.4,48.2 285.8,48.1 288.2,48 290.7,47.9 293.1,47.8 295.5,47.7 297.9,47.6 300.4,47.5 302.8,47.4 305.2,47.3 307.7,47.3 310.1,47.2 312.5,47.1 315,47.1 317.4,47 319.8,46.9 322.3,46.9 324.7,46.8 327.1,46.8 329.5,46.7 332,46.7 334.4,46.6 336.8,46.6 339.3,46.5 341.7,46.5" fill="none" stroke="#67287c" stroke-width="1.45"/>
<rect x="47.4" y="230.9" width="5.2" height="5.2" fill="#fff" fill-opacity="0.35" stroke="#7b5aab" stroke-width="0.9"/>
<rect x="58.6" y="227.4" width="5.2" height="5.2" fill="#fff" fill-opacity="0.35" stroke="#7b5aab" stroke-width="0.9"/>
<rect x="69.8" y="215.1" width="5.2" height="5.2" fill="#fff" fill-opacity="0.35" stroke="#7b5aab" stroke-width="0.9"/>
<rect x="81.1" y="204.4" width="5.2" height="5.2" fill="#fff" fill-opacity="0.35" stroke="#7b5aab" stroke-width="0.9"/>
<rect x="92.3" y="201.2" width="5.2" height="5.2" fill="#fff" fill-opacity="0.35" stroke="#7b5aab" stroke-width="0.9"/>
<rect x="103.5" y="188.6" width="5.2" height="5.2" fill="#fff" fill-opacity="0.35" stroke="#7b5aab" stroke-width="0.9"/>
<rect x="114.7" y="155.9" width="5.2" height="5.2" fill="#fff" fill-opacity="0.35" stroke="#7b5aab" stroke-width="0.9"/>
<rect x="125.9" y="137.4" width="5.2" height="5.2" fill="#fff" fill-opacity="0.35" stroke="#7b5aab" stroke-width="0.9"/>
<rect x="137.2" y="122" width="5.2" height="5.2" fill="#fff" fill-opacity="0.35" stroke="#7b5aab" stroke-width="0.9"/>
<rect x="148.4" y="117.1" width="5.2" height="5.2" fill="#fff" fill-opacity="0.35" stroke="#7b5aab" stroke-width="0.9"/>
<rect x="159.6" y="84.4" width="5.2" height="5.2" fill="#fff" fill-opacity="0.35" stroke="#7b5aab" stroke-width="0.9"/>
<rect x="170.8" y="70.3" width="5.2" height="5.2" fill="#fff" fill-opacity="0.35" stroke="#7b5aab" stroke-width="0.9"/>
<rect x="182" y="59.2" width="5.2" height="5.2" fill="#fff" fill-opacity="0.35" stroke="#7b5aab" stroke-width="0.9"/>
<rect x="193.3" y="55.1" width="5.2" height="5.2" fill="#fff" fill-opacity="0.35" stroke="#7b5aab" stroke-width="0.9"/>
<rect x="204.5" y="56.4" width="5.2" height="5.2" fill="#fff" fill-opacity="0.35" stroke="#7b5aab" stroke-width="0.9"/>
<rect x="215.7" y="41.2" width="5.2" height="5.2" fill="#fff" fill-opacity="0.35" stroke="#7b5aab" stroke-width="0.9"/>
<rect x="226.9" y="48.9" width="5.2" height="5.2" fill="#fff" fill-opacity="0.35" stroke="#7b5aab" stroke-width="0.9"/>
<rect x="238.1" y="49.1" width="5.2" height="5.2" fill="#fff" fill-opacity="0.35" stroke="#7b5aab" stroke-width="0.9"/>
<rect x="249.4" y="37.5" width="5.2" height="5.2" fill="#fff" fill-opacity="0.35" stroke="#7b5aab" stroke-width="0.9"/>
<rect x="260.6" y="21.1" width="5.2" height="5.2" fill="#fff" fill-opacity="0.35" stroke="#7b5aab" stroke-width="0.9"/>
<rect x="271.8" y="41.7" width="5.2" height="5.2" fill="#fff" fill-opacity="0.35" stroke="#7b5aab" stroke-width="0.9"/>
<rect x="283" y="66.4" width="5.2" height="5.2" fill="#fff" fill-opacity="0.35" stroke="#7b5aab" stroke-width="0.9"/>
<rect x="294.2" y="16.4" width="5.2" height="5.2" fill="#fff" fill-opacity="0.35" stroke="#7b5aab" stroke-width="0.9"/>
<rect x="305.5" y="19.4" width="5.2" height="5.2" fill="#fff" fill-opacity="0.35" stroke="#7b5aab" stroke-width="0.9"/>
<rect x="316.7" y="43.1" width="5.2" height="5.2" fill="#fff" fill-opacity="0.35" stroke="#7b5aab" stroke-width="0.9"/>
<rect x="327.9" y="76.9" width="5.2" height="5.2" fill="#fff" fill-opacity="0.35" stroke="#7b5aab" stroke-width="0.9"/>
<rect x="339.1" y="37" width="5.2" height="5.2" fill="#fff" fill-opacity="0.35" stroke="#7b5aab" stroke-width="0.9"/>
<g stroke="#858585" stroke-width="1" fill="none">
<path d="M23.5,0 V379.5 H365"/>
<path d="M23.5,310.3 h4"/>
<path d="M23.5,235.5 h4"/>
<path d="M23.5,160.7 h4"/>
<path d="M23.5,85.9 h4"/>
<path d="M23.5,11.1 h4"/>
<path d="M39.5,379.5 v-4"/>
<path d="M125.2,379.5 v-4"/>
<path d="M210.9,379.5 v-4"/>
<path d="M296.6,379.5 v-4"/>
</g>
<g font-size="9.2" fill="#222" text-anchor="end">
<text x="21" y="313.3">2</text>
<text x="21" y="238.5">3</text>
<text x="21" y="163.7">4</text>
<text x="21" y="88.9">5</text>
<text x="21" y="14.1">6</text>
</g>
<g font-size="9.2" fill="#222" text-anchor="middle">
<text x="39.5" y="387.8">0.00</text>
<text x="125.2" y="387.8">0.05</text>
<text x="210.9" y="387.8">0.10</text>
<text x="296.6" y="387.8">0.15</text>
</g>
<text x="0" y="8.6" font-size="10.6" fill="#222">a)</text>
<text transform="translate(9.4,151.3) rotate(-90)" font-size="10.2" fill="#222" text-anchor="middle" textLength="74.6" lengthAdjust="spacingAndGlyphs">Dune height (m)</text>
<text x="123.8" y="400.2" font-size="10.5" fill="#222" textLength="121.8" lengthAdjust="spacingAndGlyphs">Patch density (patch m<tspan font-size="6" dy="-3.8">-2</tspan><tspan dy="3.8">)</tspan></text>
<rect x="39.9" y="1.1" width="24.2" height="12.7" fill="#ede4ef"/>
<path d="M41.4,7.4 H62.8" stroke="#67287c" stroke-width="1.45"/>
<rect x="49.3" y="4.8" width="5.2" height="5.2" fill="#fff" fill-opacity="0.35" stroke="#7b5aab" stroke-width="0.9"/>
<text x="68.2" y="9.5" font-size="9.1" fill="#222" textLength="20.1" lengthAdjust="spacingAndGlyphs">2023</text>
<rect x="39.9" y="15.4" width="24.2" height="12.7" fill="#e8e6f3"/>
<path d="M41.4,21.7 H62.8" stroke="#6552aa" stroke-width="1.45" stroke-dasharray="3,2"/>
<circle cx="51.9" cy="21.7" r="3.1" fill="#fff" fill-opacity="0.4" stroke="#6a50b0" stroke-width="0.9"/>
<text x="68.2" y="23.8" font-size="9.1" fill="#222" textLength="20.1" lengthAdjust="spacingAndGlyphs">2022</text>
<rect x="39.9" y="29.6" width="24.2" height="12.7" fill="#e9ebf3"/>
<path d="M41.4,35.9 H62.8" stroke="#5a74ae" stroke-width="1.6"/>
<path d="M51.9,32.9 l2.4,3 l-2.4,3 l-2.4,-3z" fill="#5e78b4"/>
<text x="68.2" y="38" font-size="9.1" fill="#222" textLength="20.1" lengthAdjust="spacingAndGlyphs">2020</text>
<rect x="39.9" y="43.9" width="24.2" height="12.7" fill="#e6f1f3"/>
<path d="M41.4,50.2 H62.8" stroke="#2a7f96" stroke-width="1.5"/>
<circle cx="51.9" cy="50.2" r="3.1" fill="#5a9fae" fill-opacity="1.0"/>
<text x="68.2" y="52.3" font-size="9.1" fill="#222" textLength="20.1" lengthAdjust="spacingAndGlyphs">2019</text>
<rect x="39.9" y="58.2" width="24.2" height="12.7" fill="#e6f3f1"/>
<path d="M41.4,64.5 H62.8" stroke="#1f9a82" stroke-width="1.5"/>
<path d="M48.9,62 l6,0 l-3,5.2z" fill="#4ab490"/>
<text x="68.2" y="66.6" font-size="9.1" fill="#222" textLength="20.1" lengthAdjust="spacingAndGlyphs">2018</text>
<rect x="39.9" y="72.5" width="24.2" height="12.7" fill="#ebf6ee"/>
<path d="M41.4,78.8 H62.8" stroke="#4dc470" stroke-width="1.5"/>
<circle cx="51.9" cy="78.8" r="3.1" fill="#fff" fill-opacity="0.4" stroke="#4aaa6a" stroke-width="0.9"/>
<text x="68.2" y="80.8" font-size="9.1" fill="#222" textLength="20.1" lengthAdjust="spacingAndGlyphs">2017</text>
<rect x="39.9" y="86.7" width="24.2" height="12.7" fill="#f2f8e9"/>
<path d="M41.4,93 H62.8" stroke="#8cd642" stroke-width="1.6"/>
<circle cx="51.9" cy="93" r="3.1" fill="#b5d16a" fill-opacity="1.0"/>
<text x="68.2" y="95.1" font-size="9.1" fill="#222" textLength="20.1" lengthAdjust="spacingAndGlyphs">2015</text>
<rect x="39.9" y="101" width="24.2" height="12.7" fill="#fdf8c8"/>
<path d="M41.4,107.3 H62.8" stroke="#fde10e" stroke-width="1.6"/>
<circle cx="51.9" cy="107.3" r="3.1" fill="#fde84c" fill-opacity="1.0"/>
<text x="68.2" y="109.4" font-size="9.1" fill="#222" textLength="20.1" lengthAdjust="spacingAndGlyphs">2014</text>
<path d="M41.7,128.2 H63" stroke="#f39b34" stroke-width="1.8" stroke-dasharray="3.5,2.2"/>
<text x="66.9" y="131.5" font-size="9.3" fill="#222" textLength="37.9" lengthAdjust="spacingAndGlyphs">base line</text>
<path d="M429.2,88.9 C430.5,88.8 433.2,89.6 437,88.4 C440.8,87.2 447.1,83.7 452,81.5 C456.9,79.3 460.6,76.8 466.7,75.4 C472.8,74 482.8,73.7 488.8,73.2 C494.9,72.7 498.4,72.5 503,72.5 C507.6,72.5 512.3,73.7 516.5,73.5 C520.7,73.3 524.1,72.1 528,71.2 C531.9,70.3 536,69.2 540,68 C544,66.8 547.8,65.9 552,64.3 C556.2,62.7 560.8,60.1 565,58.5 C569.2,56.9 573,55.7 577,54.6 C581,53.5 585,52.7 589,52 C593,51.3 596.8,51 601,50.5 C605.2,50 609.8,49.4 614,49 C618.2,48.6 622,49 626,48.2 C630,47.4 633.9,45.7 638,44 C642.1,42.3 648.5,39 650.6,38 L650.6,91.4 C648.5,90.5 642.1,87.1 638,86 C633.9,84.9 632.2,83.9 626,85 C619.8,86.1 609.2,90 601,92.6 C592.8,95.1 585.2,98.3 577,100.3 C568.8,102.3 559,103.3 552,104.5 C545,105.7 539,106.7 535,107.4 C531,108.1 531.7,107.5 528,108.6 C524.3,109.7 516.9,111.7 512.8,113.8 C508.7,115.9 507.6,120 503.6,121.2 C499.6,122.4 495.6,121.3 488.8,121.2 C482,121.1 469.1,120.4 463,120.7 C456.9,121 455.4,121.7 452,123 C448.6,124.3 445.8,126.1 442.7,128.6 C439.6,131.1 435.8,135.5 433.5,137.8 C431.2,140.1 429.9,141.7 429.2,142.5 Z" fill="#fde4e2"/>
<path d="M429.2,115.3 C431,114.2 436.2,111.1 440,109 C443.8,106.9 447.6,104.5 452,102.8 C456.4,101.1 462.4,99.6 466.7,98.7 C471,97.8 474.3,97.8 478,97.5 C481.7,97.2 484.5,97.3 488.8,97.2 C493.1,97.1 499.2,97.2 503.6,96.7 C508,96.2 510.9,95.5 515,94.5 C519.1,93.5 523.8,92.1 528,91 C532.2,89.9 536,89 540,88 C544,87 547.8,86 552,85 C556.2,84 560.8,82.8 565,81.7 C569.2,80.7 573,79.7 577,78.7 C581,77.7 585,76.7 589,75.8 C593,74.9 596.8,74.1 601,73.2 C605.2,72.3 609.8,71.4 614,70.5 C618.2,69.6 622,68.8 626,68 C630,67.2 633.9,66.6 638,66 C642.1,65.4 648.5,64.6 650.6,64.3" fill="none" stroke="#e2392b" stroke-width="1.7"/>
<circle cx="429.2" cy="119.4" r="2.5" fill="#ef8a80"/>
<circle cx="453.8" cy="93.9" r="2.5" fill="#ef8a80"/>
<circle cx="503" cy="94.3" r="2.5" fill="#ef8a80"/>
<circle cx="527.7" cy="95.6" r="2.5" fill="#ef8a80"/>
<circle cx="552.3" cy="78.7" r="2.5" fill="#ef8a80"/>
<circle cx="577" cy="82.9" r="2.5" fill="#ef8a80"/>
<circle cx="626" cy="66" r="2.5" fill="#ef8a80"/>
<circle cx="650.6" cy="65.7" r="2.5" fill="#ef8a80"/>
<g stroke="#858585" stroke-width="1" fill="none"><path d="M418.5,1.5 V184.3 H670.5"/>
<path d="M415,23 h3.5"/>
<path d="M415,85.2 h3.5"/>
<path d="M415,147.1 h3.5"/>
<path d="M429.5,184.3 v-2.6"/>
<path d="M478.6,184.3 v-2.6"/>
<path d="M527.7,184.3 v-2.6"/>
<path d="M576.8,184.3 v-2.6"/>
<path d="M625.9,184.3 v-2.6"/>
</g>
<g font-size="8.8" fill="#222" text-anchor="end">
<text x="414.5" y="26.1">5</text>
<text x="414.5" y="88.3">4</text>
<text x="414.5" y="150.2">3</text>
</g>
<text x="378.5" y="12" font-size="10" fill="#222">b)</text>
<text transform="translate(386.6,93.5) rotate(-90)" font-size="10" fill="#222" text-anchor="middle" textLength="107" lengthAdjust="spacingAndGlyphs">h (sigmoidicity coeff.)</text>
<path d="M429.3,277.9 C431.2,278.1 436.9,278.7 441,279.2 C445.1,279.7 449.6,280.3 453.8,281 C458,281.7 462,282.6 466,283.5 C470,284.4 474,285.3 478,286.2 C482,287.1 485.8,288 490,288.8 C494.2,289.6 498.8,290.3 503,290.9 C507.2,291.5 510.9,291.8 515,292.2 C519.1,292.6 523.5,292.8 527.7,293 C531.9,293.2 535.9,293.3 540,293.4 C544.1,293.5 548.1,293.4 552.3,293.4 C556.5,293.4 560.9,293.3 565,293.2 C569.1,293.1 573,292.9 577,292.8 C581,292.7 585,292.5 589,292.3 C593,292.1 596.8,291.9 601,291.7 C605.2,291.5 609.8,291.2 614,290.9 C618.2,290.6 622,290.4 626,290 C630,289.6 633.9,289.2 638,288.7 C642.1,288.2 648.5,287.3 650.6,287 L650.6,294.2 C648.5,294.4 642.1,295 638,295.3 C633.9,295.6 630,295.8 626,296 C622,296.2 618.2,296.4 614,296.5 C609.8,296.6 605.2,296.8 601,296.9 C596.8,297 593,297.2 589,297.3 C585,297.4 581,297.5 577,297.6 C573,297.7 569.1,297.7 565,297.8 C560.9,297.9 556.5,298 552.3,298 C548.1,298 544.1,298.1 540,298 C535.9,297.9 531.9,297.8 527.7,297.6 C523.5,297.4 519.1,297.2 515,296.8 C510.9,296.4 507.2,296 503,295.5 C498.8,295 494.2,294.3 490,293.6 C485.8,292.9 482,292.1 478,291.4 C474,290.7 470,290 466,289.5 C462,289 458,288.5 453.8,288.2 C449.6,287.9 445.1,287.8 441,287.6 C436.9,287.4 431.2,287.2 429.3,287.1 Z" fill="#e6f1fa"/>
<path d="M429.3,282.5 C431.2,282.6 436.9,283 441,283.4 C445.1,283.8 449.6,284.1 453.8,284.6 C458,285.1 462,285.8 466,286.5 C470,287.2 474,288 478,288.8 C482,289.6 485.8,290.5 490,291.2 C494.2,291.9 498.8,292.6 503,293.2 C507.2,293.8 510.9,294.1 515,294.5 C519.1,294.9 523.5,295.1 527.7,295.3 C531.9,295.5 535.9,295.6 540,295.7 C544.1,295.8 548.1,295.7 552.3,295.7 C556.5,295.7 560.9,295.6 565,295.5 C569.1,295.4 573,295.3 577,295.2 C581,295.1 585,294.9 589,294.8 C593,294.7 596.8,294.5 601,294.3 C605.2,294.1 609.8,293.9 614,293.7 C618.2,293.5 622,293.3 626,293 C630,292.7 633.9,292.4 638,292 C642.1,291.6 648.5,290.8 650.6,290.6" fill="none" stroke="#4f9dcd" stroke-width="1.6"/>
<circle cx="429.3" cy="282.5" r="2.3" fill="#6bb5e0"/>
<circle cx="453.8" cy="284.4" r="2.3" fill="#6bb5e0"/>
<circle cx="503" cy="293.9" r="2.3" fill="#6bb5e0"/>
<circle cx="527.7" cy="295.8" r="2.3" fill="#6bb5e0"/>
<circle cx="552.3" cy="296.3" r="2.3" fill="#6bb5e0"/>
<circle cx="577" cy="294.8" r="2.3" fill="#6bb5e0"/>
<circle cx="626" cy="293.9" r="2.3" fill="#6bb5e0"/>
<circle cx="650.6" cy="291" r="2.3" fill="#6bb5e0"/>
<g stroke="#858585" stroke-width="1" fill="none"><path d="M417.7,196 V378.5 H669.8"/>
<path d="M414.5,223.2 h3.2"/>
<path d="M414.5,269.7 h3.2"/>
<path d="M414.5,316.7 h3.2"/>
<path d="M414.5,363.2 h3.2"/>
<path d="M429.5,378.5 v-2.6"/>
<path d="M478.6,378.5 v-2.6"/>
<path d="M527.7,378.5 v-2.6"/>
<path d="M576.8,378.5 v-2.6"/>
<path d="M625.9,378.5 v-2.6"/>
</g>
<g font-size="9" fill="#222" text-anchor="end">
<text x="414" y="226.4" textLength="17.6" lengthAdjust="spacingAndGlyphs">0.08</text>
<text x="414" y="272.9" textLength="17.6" lengthAdjust="spacingAndGlyphs">0.06</text>
<text x="414" y="319.9" textLength="17.6" lengthAdjust="spacingAndGlyphs">0.04</text>
<text x="414" y="366.4" textLength="17.6" lengthAdjust="spacingAndGlyphs">0.02</text>
</g>
<g font-size="9.2" fill="#222" text-anchor="middle">
<text x="429.5" y="388.2">2014</text>
<text x="478.6" y="388.2">2016</text>
<text x="527.7" y="388.2">2018</text>
<text x="576.8" y="388.2">2020</text>
<text x="625.9" y="388.2">2022</text>
</g>
<text x="540.3" y="399" font-size="10.2" fill="#222" text-anchor="middle">Year</text>
<text x="378" y="213.5" font-size="10" fill="#222">c)</text>
<text transform="translate(391.5,289.6) rotate(-90)" font-size="10" fill="#222" text-anchor="middle" textLength="62" lengthAdjust="spacingAndGlyphs">k (patch m<tspan font-size="6.5" dy="-3.5">-2</tspan><tspan dy="3.5">)</tspan></text>
<rect x="0" y="411.9" width="231.1" height="197.9" fill="#fefbe4"/>
<rect x="231.1" y="411.9" width="227" height="197.9" fill="#eaf3ec"/>
<rect x="458.1" y="411.9" width="226.9" height="197.9" fill="#e7e4f4"/>
<defs><filter id="tb" x="0" y="0" width="1" height="1"><feGaussianBlur stdDeviation="5"/></filter><filter id="sb" x="-10%" y="-10%" width="120%" height="120%"><feGaussianBlur stdDeviation="2.2"/></filter><filter id="db" x="-20%" y="-20%" width="140%" height="140%"><feGaussianBlur stdDeviation="4"/></filter>
<clipPath id="cm14"><rect x="8.9" y="419" width="214.1" height="173"/></clipPath>
<clipPath id="cm18"><rect x="239.9" y="419" width="208.1" height="173"/></clipPath>
<clipPath id="cm22"><rect x="468.9" y="419" width="208.1" height="173"/></clipPath>
</defs>
<g clip-path="url(#cm14)"><g filter="url(#tb)">
<rect x="-26.78" y="384.4" width="18.44" height="17.9" fill="#eeeaa6"/>
<rect x="-8.94" y="384.4" width="18.44" height="17.9" fill="#eeeaa6"/>
<rect x="8.9" y="384.4" width="18.44" height="17.9" fill="#eeeaa6"/>
<rect x="26.74" y="384.4" width="18.44" height="17.9" fill="#eeeaa6"/>
<rect x="44.58" y="384.4" width="18.44" height="17.9" fill="#ece59a"/>
<rect x="62.42" y="384.4" width="18.44" height="17.9" fill="#e9e08c"/>
<rect x="80.27" y="384.4" width="18.44" height="17.9" fill="#e9e08c"/>
<rect x="98.11" y="384.4" width="18.44" height="17.9" fill="#ece59a"/>
<rect x="115.95" y="384.4" width="18.44" height="17.9" fill="#ece59a"/>
<rect x="133.79" y="384.4" width="18.44" height="17.9" fill="#ece59a"/>
<rect x="151.63" y="384.4" width="18.44" height="17.9" fill="#eeeaa6"/>
<rect x="169.47" y="384.4" width="18.44" height="17.9" fill="#eeeaa6"/>
<rect x="187.32" y="384.4" width="18.44" height="17.9" fill="#eeeaa6"/>
<rect x="205.16" y="384.4" width="18.44" height="17.9" fill="#eeeaa6"/>
<rect x="223" y="384.4" width="18.44" height="17.9" fill="#eeeaa6"/>
<rect x="240.84" y="384.4" width="18.44" height="17.9" fill="#eeeaa6"/>
<rect x="-26.78" y="401.7" width="18.44" height="17.9" fill="#eeeaa6"/>
<rect x="-8.94" y="401.7" width="18.44" height="17.9" fill="#eeeaa6"/>
<rect x="8.9" y="401.7" width="18.44" height="17.9" fill="#eeeaa6"/>
<rect x="26.74" y="401.7" width="18.44" height="17.9" fill="#eeeaa6"/>
<rect x="44.58" y="401.7" width="18.44" height="17.9" fill="#ece59a"/>
<rect x="62.42" y="401.7" width="18.44" height="17.9" fill="#e9e08c"/>
<rect x="80.27" y="401.7" width="18.44" height="17.9" fill="#e9e08c"/>
<rect x="98.11" y="401.7" width="18.44" height="17.9" fill="#ece59a"/>
<rect x="115.95" y="401.7" width="18.44" height="17.9" fill="#ece59a"/>
<rect x="133.79" y="401.7" width="18.44" height="17.9" fill="#ece59a"/>
<rect x="151.63" y="401.7" width="18.44" height="17.9" fill="#eeeaa6"/>
<rect x="169.47" y="401.7" width="18.44" height="17.9" fill="#eeeaa6"/>
<rect x="187.32" y="401.7" width="18.44" height="17.9" fill="#eeeaa6"/>
<rect x="205.16" y="401.7" width="18.44" height="17.9" fill="#eeeaa6"/>
<rect x="223" y="401.7" width="18.44" height="17.9" fill="#eeeaa6"/>
<rect x="240.84" y="401.7" width="18.44" height="17.9" fill="#eeeaa6"/>
<rect x="-26.78" y="419" width="18.44" height="17.9" fill="#eeeaa6"/>
<rect x="-8.94" y="419" width="18.44" height="17.9" fill="#eeeaa6"/>
<rect x="8.9" y="419" width="18.44" height="17.9" fill="#eeeaa6"/>
<rect x="26.74" y="419" width="18.44" height="17.9" fill="#eeeaa6"/>
<rect x="44.58" y="419" width="18.44" height="17.9" fill="#ece59a"/>
<rect x="62.42" y="419" width="18.44" height="17.9" fill="#e9e08c"/>
<rect x="80.27" y="419" width="18.44" height="17.9" fill="#e9e08c"/>
<rect x="98.11" y="419" width="18.44" height="17.9" fill="#ece59a"/>
<rect x="115.95" y="419" width="18.44" height="17.9" fill="#ece59a"/>
<rect x="133.79" y="419" width="18.44" height="17.9" fill="#ece59a"/>
<rect x="151.63" y="419" width="18.44" height="17.9" fill="#eeeaa6"/>
<rect x="169.47" y="419" width="18.44" height="17.9" fill="#eeeaa6"/>
<rect x="187.32" y="419" width="18.44" height="17.9" fill="#eeeaa6"/>
<rect x="205.16" y="419" width="18.44" height="17.9" fill="#eeeaa6"/>
<rect x="223" y="419" width="18.44" height="17.9" fill="#eeeaa6"/>
<rect x="240.84" y="419" width="18.44" height="17.9" fill="#eeeaa6"/>
<rect x="-26.78" y="436.3" width="18.44" height="17.9" fill="#eeeaa6"/>
<rect x="-8.94" y="436.3" width="18.44" height="17.9" fill="#eeeaa6"/>
<rect x="8.9" y="436.3" width="18.44" height="17.9" fill="#eeeaa6"/>
<rect x="26.74" y="436.3" width="18.44" height="17.9" fill="#eeeaa6"/>
<rect x="44.58" y="436.3" width="18.44" height="17.9" fill="#eeeaa6"/>
<rect x="62.42" y="436.3" width="18.44" height="17.9" fill="#ece59a"/>
<rect x="80.27" y="436.3" width="18.44" height="17.9" fill="#ece59a"/>
<rect x="98.11" y="436.3" width="18.44" height="17.9" fill="#ece59a"/>
<rect x="115.95" y="436.3" width="18.44" height="17.9" fill="#eeeaa6"/>
<rect x="133.79" y="436.3" width="18.44" height="17.9" fill="#eeeaa6"/>
<rect x="151.63" y="436.3" width="18.44" height="17.9" fill="#ece59a"/>
<rect x="169.47" y="436.3" width="18.44" height="17.9" fill="#ece59a"/>
<rect x="187.32" y="436.3" width="18.44" height="17.9" fill="#eeeaa6"/>
<rect x="205.16" y="436.3" width="18.44" height="17.9" fill="#eeeaa6"/>
<rect x="223" y="436.3" width="18.44" height="17.9" fill="#eeeaa6"/>
<rect x="240.84" y="436.3" width="18.44" height="17.9" fill="#eeeaa6"/>
<rect x="-26.78" y="453.6" width="18.44" height="17.9" fill="#eeeaa6"/>
<rect x="-8.94" y="453.6" width="18.44" height="17.9" fill="#eeeaa6"/>
<rect x="8.9" y="453.6" width="18.44" height="17.9" fill="#eeeaa6"/>
<rect x="26.74" y="453.6" width="18.44" height="17.9" fill="#eeeaa6"/>
<rect x="44.58" y="453.6" width="18.44" height="17.9" fill="#eeeaa6"/>
<rect x="62.42" y="453.6" width="18.44" height="17.9" fill="#eeeaa6"/>
<rect x="80.27" y="453.6" width="18.44" height="17.9" fill="#ece59a"/>
<rect x="98.11" y="453.6" width="18.44" height="17.9" fill="#ece59a"/>
<rect x="115.95" y="453.6" width="18.44" height="17.9" fill="#ece59a"/>
<rect x="133.79" y="453.6" width="18.44" height="17.9" fill="#eeeaa6"/>
<rect x="151.63" y="453.6" width="18.44" height="17.9" fill="#eeeaa6"/>
<rect x="169.47" y="453.6" width="18.44" height="17.9" fill="#ece59a"/>
<rect x="187.32" y="453.6" width="18.44" height="17.9" fill="#ece59a"/>
<rect x="205.16" y="453.6" width="18.44" height="17.9" fill="#ece59a"/>
<rect x="223" y="453.6" width="18.44" height="17.9" fill="#ece59a"/>
<rect x="240.84" y="453.6" width="18.44" height="17.9" fill="#ece59a"/>
<rect x="-26.78" y="470.9" width="18.44" height="17.9" fill="#eeeaa6"/>
<rect x="-8.94" y="470.9" width="18.44" height="17.9" fill="#eeeaa6"/>
<rect x="8.9" y="470.9" width="18.44" height="17.9" fill="#eeeaa6"/>
<rect x="26.74" y="470.9" width="18.44" height="17.9" fill="#eeeaa6"/>
<rect x="44.58" y="470.9" width="18.44" height="17.9" fill="#eeeaa6"/>
<rect x="62.42" y="470.9" width="18.44" height="17.9" fill="#eeeaa6"/>
<rect x="80.27" y="470.9" width="18.44" height="17.9" fill="#ece59a"/>
<rect x="98.11" y="470.9" width="18.44" height="17.9" fill="#e9e08c"/>
<rect x="115.95" y="470.9" width="18.44" height="17.9" fill="#e9e08c"/>
<rect x="133.79" y="470.9" width="18.44" height="17.9" fill="#ece59a"/>
<rect x="151.63" y="470.9" width="18.44" height="17.9" fill="#eeeaa6"/>
<rect x="169.47" y="470.9" width="18.44" height="17.9" fill="#eeeaa6"/>
<rect x="187.32" y="470.9" width="18.44" height="17.9" fill="#ece59a"/>
<rect x="205.16" y="470.9" width="18.44" height="17.9" fill="#e9e08c"/>
<rect x="223" y="470.9" width="18.44" height="17.9" fill="#e9e08c"/>
<rect x="240.84" y="470.9" width="18.44" height="17.9" fill="#e9e08c"/>
<rect x="-26.78" y="488.2" width="18.44" height="17.9" fill="#eeeaa6"/>
<rect x="-8.94" y="488.2" width="18.44" height="17.9" fill="#eeeaa6"/>
<rect x="8.9" y="488.2" width="18.44" height="17.9" fill="#eeeaa6"/>
<rect x="26.74" y="488.2" width="18.44" height="17.9" fill="#eeeaa6"/>
<rect x="44.58" y="488.2" width="18.44" height="17.9" fill="#eeeaa6"/>
<rect x="62.42" y="488.2" width="18.44" height="17.9" fill="#ece59a"/>
<rect x="80.27" y="488.2" width="18.44" height="17.9" fill="#ece59a"/>
<rect x="98.11" y="488.2" width="18.44" height="17.9" fill="#e9e08c"/>
<rect x="115.95" y="488.2" width="18.44" height="17.9" fill="#e9e08c"/>
<rect x="133.79" y="488.2" width="18.44" height="17.9" fill="#ece59a"/>
<rect x="151.63" y="488.2" width="18.44" height="17.9" fill="#eeeaa6"/>
<rect x="169.47" y="488.2" width="18.44" height="17.9" fill="#eeeaa6"/>
<rect x="187.32" y="488.2" width="18.44" height="17.9" fill="#ece59a"/>
<rect x="205.16" y="488.2" width="18.44" height="17.9" fill="#e9e08c"/>
<rect x="223" y="488.2" width="18.44" height="17.9" fill="#e9e08c"/>
<rect x="240.84" y="488.2" width="18.44" height="17.9" fill="#e9e08c"/>
<rect x="-26.78" y="505.5" width="18.44" height="17.9" fill="#eeeaa6"/>
<rect x="-8.94" y="505.5" width="18.44" height="17.9" fill="#eeeaa6"/>
<rect x="8.9" y="505.5" width="18.44" height="17.9" fill="#eeeaa6"/>
<rect x="26.74" y="505.5" width="18.44" height="17.9" fill="#eeeaa6"/>
<rect x="44.58" y="505.5" width="18.44" height="17.9" fill="#eeeaa6"/>
<rect x="62.42" y="505.5" width="18.44" height="17.9" fill="#eeeaa6"/>
<rect x="80.27" y="505.5" width="18.44" height="17.9" fill="#eeeaa6"/>
<rect x="98.11" y="505.5" width="18.44" height="17.9" fill="#ece59a"/>
<rect x="115.95" y="505.5" width="18.44" height="17.9" fill="#ece59a"/>
<rect x="133.79" y="505.5" width="18.44" height="17.9" fill="#eeeaa6"/>
<rect x="151.63" y="505.5" width="18.44" height="17.9" fill="#eeeaa6"/>
<rect x="169.47" y="505.5" width="18.44" height="17.9" fill="#eeeaa6"/>
<rect x="187.32" y="505.5" width="18.44" height="17.9" fill="#ece59a"/>
<rect x="205.16" y="505.5" width="18.44" height="17.9" fill="#e9e08c"/>
<rect x="223" y="505.5" width="18.44" height="17.9" fill="#e9e08c"/>
<rect x="240.84" y="505.5" width="18.44" height="17.9" fill="#e9e08c"/>
<rect x="-26.78" y="522.8" width="18.44" height="17.9" fill="#eeeaa6"/>
<rect x="-8.94" y="522.8" width="18.44" height="17.9" fill="#eeeaa6"/>
<rect x="8.9" y="522.8" width="18.44" height="17.9" fill="#eeeaa6"/>
<rect x="26.74" y="522.8" width="18.44" height="17.9" fill="#eeeaa6"/>
<rect x="44.58" y="522.8" width="18.44" height="17.9" fill="#eeeaa6"/>
<rect x="62.42" y="522.8" width="18.44" height="17.9" fill="#eeeaa6"/>
<rect x="80.27" y="522.8" width="18.44" height="17.9" fill="#eeeaa6"/>
<rect x="98.11" y="522.8" width="18.44" height="17.9" fill="#eeeaa6"/>
<rect x="115.95" y="522.8" width="18.44" height="17.9" fill="#eeeaa6"/>
<rect x="133.79" y="522.8" width="18.44" height="17.9" fill="#eeeaa6"/>
<rect x="151.63" y="522.8" width="18.44" height="17.9" fill="#eeeaa6"/>
<rect x="169.47" y="522.8" width="18.44" height="17.9" fill="#eeeaa6"/>
<rect x="187.32" y="522.8" width="18.44" height="17.9" fill="#ece59a"/>
<rect x="205.16" y="522.8" width="18.44" height="17.9" fill="#e9e08c"/>
<rect x="223" y="522.8" width="18.44" height="17.9" fill="#e9e08c"/>
<rect x="240.84" y="522.8" width="18.44" height="17.9" fill="#e9e08c"/>
<rect x="-26.78" y="540.1" width="18.44" height="17.9" fill="#eeeaa6"/>
<rect x="-8.94" y="540.1" width="18.44" height="17.9" fill="#eeeaa6"/>
<rect x="8.9" y="540.1" width="18.44" height="17.9" fill="#eeeaa6"/>
<rect x="26.74" y="540.1" width="18.44" height="17.9" fill="#eeeaa6"/>
<rect x="44.58" y="540.1" width="18.44" height="17.9" fill="#eeeaa6"/>
<rect x="62.42" y="540.1" width="18.44" height="17.9" fill="#eeeaa6"/>
<rect x="80.27" y="540.1" width="18.44" height="17.9" fill="#eeeaa6"/>
<rect x="98.11" y="540.1" width="18.44" height="17.9" fill="#eeeaa6"/>
<rect x="115.95" y="540.1" width="18.44" height="17.9" fill="#eeeaa6"/>
<rect x="133.79" y="540.1" width="18.44" height="17.9" fill="#eeeaa6"/>
<rect x="151.63" y="540.1" width="18.44" height="17.9" fill="#eeeaa6"/>
<rect x="169.47" y="540.1" width="18.44" height="17.9" fill="#eeeaa6"/>
<rect x="187.32" y="540.1" width="18.44" height="17.9" fill="#ece59a"/>
<rect x="205.16" y="540.1" width="18.44" height="17.9" fill="#e9e08c"/>
<rect x="223" y="540.1" width="18.44" height="17.9" fill="#e9e08c"/>
<rect x="240.84" y="540.1" width="18.44" height="17.9" fill="#e9e08c"/>
<rect x="-26.78" y="557.4" width="18.44" height="17.9" fill="#eeeaa6"/>
<rect x="-8.94" y="557.4" width="18.44" height="17.9" fill="#eeeaa6"/>
<rect x="8.9" y="557.4" width="18.44" height="17.9" fill="#eeeaa6"/>
<rect x="26.74" y="557.4" width="18.44" height="17.9" fill="#eeeaa6"/>
<rect x="44.58" y="557.4" width="18.44" height="17.9" fill="#eeeaa6"/>
<rect x="62.42" y="557.4" width="18.44" height="17.9" fill="#eeeaa6"/>
<rect x="80.27" y="557.4" width="18.44" height="17.9" fill="#eeeaa6"/>
<rect x="98.11" y="557.4" width="18.44" height="17.9" fill="#eeeaa6"/>
<rect x="115.95" y="557.4" width="18.44" height="17.9" fill="#eeeaa6"/>
<rect x="133.79" y="557.4" width="18.44" height="17.9" fill="#eeeaa6"/>
<rect x="151.63" y="557.4" width="18.44" height="17.9" fill="#eeeaa6"/>
<rect x="169.47" y="557.4" width="18.44" height="17.9" fill="#eeeaa6"/>
<rect x="187.32" y="557.4" width="18.44" height="17.9" fill="#eeeaa6"/>
<rect x="205.16" y="557.4" width="18.44" height="17.9" fill="#ece59a"/>
<rect x="223" y="557.4" width="18.44" height="17.9" fill="#ece59a"/>
<rect x="240.84" y="557.4" width="18.44" height="17.9" fill="#ece59a"/>
<rect x="-26.78" y="574.7" width="18.44" height="17.9" fill="#eeeaa6"/>
<rect x="-8.94" y="574.7" width="18.44" height="17.9" fill="#eeeaa6"/>
<rect x="8.9" y="574.7" width="18.44" height="17.9" fill="#eeeaa6"/>
<rect x="26.74" y="574.7" width="18.44" height="17.9" fill="#eeeaa6"/>
<rect x="44.58" y="574.7" width="18.44" height="17.9" fill="#eeeaa6"/>
<rect x="62.42" y="574.7" width="18.44" height="17.9" fill="#eeeaa6"/>
<rect x="80.27" y="574.7" width="18.44" height="17.9" fill="#eeeaa6"/>
<rect x="98.11" y="574.7" width="18.44" height="17.9" fill="#eeeaa6"/>
<rect x="115.95" y="574.7" width="18.44" height="17.9" fill="#eeeaa6"/>
<rect x="133.79" y="574.7" width="18.44" height="17.9" fill="#eeeaa6"/>
<rect x="151.63" y="574.7" width="18.44" height="17.9" fill="#eeeaa6"/>
<rect x="169.47" y="574.7" width="18.44" height="17.9" fill="#eeeaa6"/>
<rect x="187.32" y="574.7" width="18.44" height="17.9" fill="#eeeaa6"/>
<rect x="205.16" y="574.7" width="18.44" height="17.9" fill="#eeeaa6"/>
<rect x="223" y="574.7" width="18.44" height="17.9" fill="#eeeaa6"/>
<rect x="240.84" y="574.7" width="18.44" height="17.9" fill="#eeeaa6"/>
<rect x="-26.78" y="592" width="18.44" height="17.9" fill="#eeeaa6"/>
<rect x="-8.94" y="592" width="18.44" height="17.9" fill="#eeeaa6"/>
<rect x="8.9" y="592" width="18.44" height="17.9" fill="#eeeaa6"/>
<rect x="26.74" y="592" width="18.44" height="17.9" fill="#eeeaa6"/>
<rect x="44.58" y="592" width="18.44" height="17.9" fill="#eeeaa6"/>
<rect x="62.42" y="592" width="18.44" height="17.9" fill="#eeeaa6"/>
<rect x="80.27" y="592" width="18.44" height="17.9" fill="#eeeaa6"/>
<rect x="98.11" y="592" width="18.44" height="17.9" fill="#eeeaa6"/>
<rect x="115.95" y="592" width="18.44" height="17.9" fill="#eeeaa6"/>
<rect x="133.79" y="592" width="18.44" height="17.9" fill="#eeeaa6"/>
<rect x="151.63" y="592" width="18.44" height="17.9" fill="#eeeaa6"/>
<rect x="169.47" y="592" width="18.44" height="17.9" fill="#eeeaa6"/>
<rect x="187.32" y="592" width="18.44" height="17.9" fill="#eeeaa6"/>
<rect x="205.16" y="592" width="18.44" height="17.9" fill="#eeeaa6"/>
<rect x="223" y="592" width="18.44" height="17.9" fill="#eeeaa6"/>
<rect x="240.84" y="592" width="18.44" height="17.9" fill="#eeeaa6"/>
<rect x="-26.78" y="609.3" width="18.44" height="17.9" fill="#eeeaa6"/>
<rect x="-8.94" y="609.3" width="18.44" height="17.9" fill="#eeeaa6"/>
<rect x="8.9" y="609.3" width="18.44" height="17.9" fill="#eeeaa6"/>
<rect x="26.74" y="609.3" width="18.44" height="17.9" fill="#eeeaa6"/>
<rect x="44.58" y="609.3" width="18.44" height="17.9" fill="#eeeaa6"/>
<rect x="62.42" y="609.3" width="18.44" height="17.9" fill="#eeeaa6"/>
<rect x="80.27" y="609.3" width="18.44" height="17.9" fill="#eeeaa6"/>
<rect x="98.11" y="609.3" width="18.44" height="17.9" fill="#eeeaa6"/>
<rect x="115.95" y="609.3" width="18.44" height="17.9" fill="#eeeaa6"/>
<rect x="133.79" y="609.3" width="18.44" height="17.9" fill="#eeeaa6"/>
<rect x="151.63" y="609.3" width="18.44" height="17.9" fill="#eeeaa6"/>
<rect x="169.47" y="609.3" width="18.44" height="17.9" fill="#eeeaa6"/>
<rect x="187.32" y="609.3" width="18.44" height="17.9" fill="#eeeaa6"/>
<rect x="205.16" y="609.3" width="18.44" height="17.9" fill="#eeeaa6"/>
<rect x="223" y="609.3" width="18.44" height="17.9" fill="#eeeaa6"/>
<rect x="240.84" y="609.3" width="18.44" height="17.9" fill="#eeeaa6"/>
</g>
<g filter="url(#sb)" fill="none" stroke="#f4eca8" stroke-linecap="round" stroke-opacity="0.2">
<path d="M8.9,510.34 C13.18,509.54 26.74,507 34.59,505.5 C42.44,504 47.26,503.57 56,501.35 C64.74,499.13 81.87,493.71 87.05,492.18" stroke-width="4"/>
<path d="M30.31,534.91 C36.13,533.35 52.72,528.6 65.21,525.57 C77.7,522.54 92.76,519.37 105.25,516.75 C117.73,514.12 129.12,512.91 140.14,509.82 C151.17,506.74 166.19,500.17 171.4,498.23" stroke-width="5"/>
<path d="M8.9,579.89 C14.15,578.42 29.67,574.24 40.37,571.07 C51.08,567.9 62.75,563.89 73.13,560.86 C83.51,557.83 89.94,556.28 102.68,552.9 C115.41,549.53 133.93,544.68 149.56,540.62 C165.19,536.55 188.64,530.53 196.45,528.51" stroke-width="5"/>
<path d="M102.68,592 C108.46,589.98 126.94,583.38 137.36,579.89 C147.78,576.4 152.7,575.07 165.19,571.07 C177.68,567.06 204.44,558.38 212.29,555.84" stroke-width="5"/>
<path d="M13.18,470.9 C16.75,469.46 26.38,465.13 34.59,462.25 C42.8,459.37 57.79,455.04 62.42,453.6" stroke-width="3.5"/>
</g>
<g filter="url(#db)" fill="#e2d478" fill-opacity="0.35">
<ellipse cx="81.69" cy="427.65" rx="19.27" ry="10.38" transform="rotate(0 81.69 427.65)"/>
<ellipse cx="171.62" cy="453.6" rx="14.99" ry="12.11" transform="rotate(0 171.62 453.6)"/>
<ellipse cx="118.09" cy="489.93" rx="27.83" ry="12.97" transform="rotate(-15 118.09 489.93)"/>
<ellipse cx="216.58" cy="488.2" rx="8.56" ry="22.49" transform="rotate(0 216.58 488.2)"/>
<ellipse cx="216.58" cy="543.56" rx="8.56" ry="19.03" transform="rotate(0 216.58 543.56)"/>
<ellipse cx="79.55" cy="457.06" rx="6.42" ry="8.65" transform="rotate(0 79.55 457.06)"/>
<ellipse cx="197.31" cy="560.86" rx="10.71" ry="6.92" transform="rotate(0 197.31 560.86)"/>
</g>
<circle cx="22.66" cy="421.94" r="1.73" fill="#84ba4a" stroke="#fff" stroke-width="0.75"/>
<circle cx="27.71" cy="420.36" r="1.76" fill="#84ba4a" stroke="#fff" stroke-width="0.75"/>
<circle cx="32.44" cy="421.47" r="1.44" fill="#84ba4a" stroke="#fff" stroke-width="0.75"/>
<circle cx="36.06" cy="423.04" r="1.9" fill="#84ba4a" stroke="#fff" stroke-width="0.75"/>
<circle cx="34.01" cy="427.77" r="1.54" fill="#84ba4a" stroke="#fff" stroke-width="0.75"/>
<circle cx="15.09" cy="429.82" r="2.24" fill="#84ba4a" stroke="#fff" stroke-width="0.75"/>
<circle cx="9.58" cy="429.04" r="1.69" fill="#84ba4a" stroke="#fff" stroke-width="0.75"/>
<circle cx="9.89" cy="435.34" r="1.49" fill="#84ba4a" stroke="#fff" stroke-width="0.75"/>
<circle cx="40.32" cy="436.6" r="1.92" fill="#84ba4a" stroke="#fff" stroke-width="0.75"/>
<circle cx="45.05" cy="435.34" r="1.84" fill="#84ba4a" stroke="#fff" stroke-width="0.75"/>
<circle cx="48.2" cy="434.55" r="1.44" fill="#84ba4a" stroke="#fff" stroke-width="0.75"/>
<circle cx="50.57" cy="433.77" r="1.75" fill="#84ba4a" stroke="#fff" stroke-width="0.75"/>
<circle cx="48.2" cy="438.18" r="1.42" fill="#84ba4a" stroke="#fff" stroke-width="0.75"/>
<circle cx="55.3" cy="434.55" r="1.68" fill="#84ba4a" stroke="#fff" stroke-width="0.75"/>
<circle cx="58.45" cy="433.77" r="1.93" fill="#84ba4a" stroke="#fff" stroke-width="0.75"/>
<circle cx="60.03" cy="422.41" r="1.95" fill="#84ba4a" stroke="#fff" stroke-width="0.75"/>
<circle cx="59.24" cy="429.82" r="1.88" fill="#84ba4a" stroke="#fff" stroke-width="0.75"/>
<circle cx="62.39" cy="432.19" r="1.96" fill="#84ba4a" stroke="#fff" stroke-width="0.75"/>
<circle cx="63.97" cy="434.55" r="1.46" fill="#84ba4a" stroke="#fff" stroke-width="0.75"/>
<circle cx="67.91" cy="419.89" r="1.53" fill="#84ba4a" stroke="#fff" stroke-width="0.75"/>
<circle cx="71.06" cy="420.84" r="2.22" fill="#84ba4a" stroke="#fff" stroke-width="0.75"/>
<circle cx="67.12" cy="425.09" r="1.58" fill="#84ba4a" stroke="#fff" stroke-width="0.75"/>
<circle cx="71.85" cy="425.09" r="1.63" fill="#84ba4a" stroke="#fff" stroke-width="0.75"/>
<circle cx="75.79" cy="428.25" r="1.75" fill="#84ba4a" stroke="#fff" stroke-width="0.75"/>
<circle cx="69.49" cy="429.82" r="1.94" fill="#84ba4a" stroke="#fff" stroke-width="0.75"/>
<circle cx="77.37" cy="433.77" r="1.96" fill="#84ba4a" stroke="#fff" stroke-width="0.75"/>
<circle cx="83.67" cy="429.35" r="1.99" fill="#84ba4a" stroke="#fff" stroke-width="0.75"/>
<circle cx="84.46" cy="434.55" r="1.5" fill="#84ba4a" stroke="#fff" stroke-width="0.75"/>
<circle cx="82.1" cy="434.55" r="1.98" fill="#84ba4a" stroke="#fff" stroke-width="0.75"/>
<circle cx="89.98" cy="432.98" r="2.28" fill="#84ba4a" stroke="#fff" stroke-width="0.75"/>
<circle cx="93.92" cy="432.98" r="1.53" fill="#84ba4a" stroke="#fff" stroke-width="0.75"/>
<circle cx="88.4" cy="421.15" r="1.74" fill="#84ba4a" stroke="#fff" stroke-width="0.75"/>
<circle cx="87.62" cy="425.09" r="1.44" fill="#84ba4a" stroke="#fff" stroke-width="0.75"/>
<circle cx="90.77" cy="425.57" r="1.99" fill="#84ba4a" stroke="#fff" stroke-width="0.75"/>
<circle cx="94.71" cy="420.36" r="1.88" fill="#84ba4a" stroke="#fff" stroke-width="0.75"/>
<circle cx="98.65" cy="425.57" r="1.49" fill="#84ba4a" stroke="#fff" stroke-width="0.75"/>
<circle cx="101.8" cy="425.57" r="1.86" fill="#84ba4a" stroke="#fff" stroke-width="0.75"/>
<circle cx="111.26" cy="422.41" r="1.43" fill="#84ba4a" stroke="#fff" stroke-width="0.75"/>
<circle cx="54.51" cy="443.22" r="1.43" fill="#84ba4a" stroke="#fff" stroke-width="0.75"/>
<circle cx="63.18" cy="443.22" r="1.6" fill="#84ba4a" stroke="#fff" stroke-width="0.75"/>
<circle cx="64.76" cy="445.59" r="2.49" fill="#84ba4a" stroke="#fff" stroke-width="0.75"/>
<circle cx="66.33" cy="447.17" r="2" fill="#84ba4a" stroke="#fff" stroke-width="0.75"/>
<circle cx="70.27" cy="439.28" r="1.45" fill="#84ba4a" stroke="#fff" stroke-width="0.75"/>
<circle cx="75.79" cy="440.86" r="1.42" fill="#84ba4a" stroke="#fff" stroke-width="0.75"/>
<circle cx="93.92" cy="442.44" r="2.6" fill="#84ba4a" stroke="#fff" stroke-width="0.75"/>
<circle cx="97.07" cy="447.95" r="2.7" fill="#84ba4a" stroke="#fff" stroke-width="0.75"/>
<circle cx="98.65" cy="447.17" r="1.49" fill="#84ba4a" stroke="#fff" stroke-width="0.75"/>
<circle cx="89.98" cy="447.17" r="1.92" fill="#84ba4a" stroke="#fff" stroke-width="0.75"/>
<circle cx="90.77" cy="451.9" r="1.98" fill="#84ba4a" stroke="#fff" stroke-width="0.75"/>
<circle cx="93.92" cy="454.26" r="2.19" fill="#84ba4a" stroke="#fff" stroke-width="0.75"/>
<circle cx="98.65" cy="451.11" r="1.71" fill="#84ba4a" stroke="#fff" stroke-width="0.75"/>
<circle cx="108.11" cy="446.38" r="1.76" fill="#84ba4a" stroke="#fff" stroke-width="0.75"/>
<circle cx="106.53" cy="455.05" r="1.77" fill="#84ba4a" stroke="#fff" stroke-width="0.75"/>
<circle cx="82.1" cy="450.32" r="2.25" fill="#84ba4a" stroke="#fff" stroke-width="0.75"/>
<circle cx="70.27" cy="451.9" r="1.83" fill="#84ba4a" stroke="#fff" stroke-width="0.75"/>
<circle cx="43.47" cy="451.9" r="1.58" fill="#84ba4a" stroke="#fff" stroke-width="0.75"/>
<circle cx="23.77" cy="452.37" r="2.26" fill="#84ba4a" stroke="#fff" stroke-width="0.75"/>
<circle cx="26.92" cy="455.05" r="1.41" fill="#84ba4a" stroke="#fff" stroke-width="0.75"/>
<circle cx="28.5" cy="456.63" r="1.75" fill="#84ba4a" stroke="#fff" stroke-width="0.75"/>
<circle cx="17.46" cy="454.26" r="1.77" fill="#84ba4a" stroke="#fff" stroke-width="0.75"/>
<circle cx="10.36" cy="455.84" r="1.44" fill="#84ba4a" stroke="#fff" stroke-width="0.75"/>
<circle cx="9.89" cy="464.51" r="1.68" fill="#84ba4a" stroke="#fff" stroke-width="0.75"/>
<circle cx="10.36" cy="466.08" r="1.61" fill="#84ba4a" stroke="#fff" stroke-width="0.75"/>
<circle cx="55.3" cy="459.78" r="1.84" fill="#84ba4a" stroke="#fff" stroke-width="0.75"/>
<circle cx="58.45" cy="463.72" r="1.44" fill="#84ba4a" stroke="#fff" stroke-width="0.75"/>
<circle cx="75" cy="459.31" r="1.98" fill="#84ba4a" stroke="#fff" stroke-width="0.75"/>
<circle cx="83.67" cy="458.67" r="1.67" fill="#84ba4a" stroke="#fff" stroke-width="0.75"/>
<circle cx="86.04" cy="460.57" r="1.59" fill="#84ba4a" stroke="#fff" stroke-width="0.75"/>
<circle cx="33.22" cy="463.72" r="1.59" fill="#84ba4a" stroke="#fff" stroke-width="0.75"/>
<circle cx="9.89" cy="476.33" r="1.76" fill="#84ba4a" stroke="#fff" stroke-width="0.75"/>
<circle cx="12.73" cy="484.21" r="1.63" fill="#84ba4a" stroke="#fff" stroke-width="0.75"/>
<circle cx="47.1" cy="481.85" r="1.42" fill="#84ba4a" stroke="#fff" stroke-width="0.75"/>
<circle cx="93.92" cy="475.54" r="1.84" fill="#84ba4a" stroke="#fff" stroke-width="0.75"/>
<circle cx="97.86" cy="474.44" r="1.53" fill="#84ba4a" stroke="#fff" stroke-width="0.75"/>
<circle cx="101.02" cy="476.33" r="1.54" fill="#84ba4a" stroke="#fff" stroke-width="0.75"/>
<circle cx="104.96" cy="478.7" r="1.66" fill="#84ba4a" stroke="#fff" stroke-width="0.75"/>
<circle cx="111.26" cy="476.02" r="1.46" fill="#84ba4a" stroke="#fff" stroke-width="0.75"/>
<circle cx="112.84" cy="477.91" r="1.6" fill="#84ba4a" stroke="#fff" stroke-width="0.75"/>
<circle cx="89.98" cy="479.17" r="1.66" fill="#84ba4a" stroke="#fff" stroke-width="0.75"/>
<circle cx="86.83" cy="487.37" r="1.5" fill="#84ba4a" stroke="#fff" stroke-width="0.75"/>
<circle cx="83.67" cy="488.94" r="1.79" fill="#84ba4a" stroke="#fff" stroke-width="0.75"/>
<circle cx="105.75" cy="487.37" r="2.23" fill="#84ba4a" stroke="#fff" stroke-width="0.75"/>
<circle cx="101.02" cy="491.31" r="1.47" fill="#84ba4a" stroke="#fff" stroke-width="0.75"/>
<circle cx="108.9" cy="491.31" r="1.51" fill="#84ba4a" stroke="#fff" stroke-width="0.75"/>
<circle cx="113.63" cy="485.79" r="1.9" fill="#84ba4a" stroke="#fff" stroke-width="0.75"/>
<circle cx="71.06" cy="488.94" r="1.57" fill="#84ba4a" stroke="#fff" stroke-width="0.75"/>
<circle cx="74.21" cy="493.67" r="1.79" fill="#84ba4a" stroke="#fff" stroke-width="0.75"/>
<circle cx="78.16" cy="493.36" r="1.61" fill="#84ba4a" stroke="#fff" stroke-width="0.75"/>
<circle cx="77.37" cy="496.83" r="1.58" fill="#84ba4a" stroke="#fff" stroke-width="0.75"/>
<circle cx="72.64" cy="498.4" r="1.56" fill="#84ba4a" stroke="#fff" stroke-width="0.75"/>
<circle cx="66.33" cy="495.25" r="1.65" fill="#84ba4a" stroke="#fff" stroke-width="0.75"/>
<circle cx="64.76" cy="501.56" r="1.65" fill="#84ba4a" stroke="#fff" stroke-width="0.75"/>
<circle cx="68.7" cy="501.56" r="2.08" fill="#84ba4a" stroke="#fff" stroke-width="0.75"/>
<circle cx="82.1" cy="499.98" r="1.97" fill="#84ba4a" stroke="#fff" stroke-width="0.75"/>
<circle cx="86.04" cy="499.98" r="1.99" fill="#84ba4a" stroke="#fff" stroke-width="0.75"/>
<circle cx="91.56" cy="495.25" r="1.97" fill="#84ba4a" stroke="#fff" stroke-width="0.75"/>
<circle cx="96.29" cy="496.83" r="2.11" fill="#84ba4a" stroke="#fff" stroke-width="0.75"/>
<circle cx="99.44" cy="499.98" r="1.9" fill="#84ba4a" stroke="#fff" stroke-width="0.75"/>
<circle cx="102.59" cy="498.4" r="1.71" fill="#84ba4a" stroke="#fff" stroke-width="0.75"/>
<circle cx="108.9" cy="498.4" r="1.6" fill="#84ba4a" stroke="#fff" stroke-width="0.75"/>
<circle cx="112.84" cy="496.83" r="1.44" fill="#84ba4a" stroke="#fff" stroke-width="0.75"/>
<circle cx="24.24" cy="496.83" r="1.57" fill="#84ba4a" stroke="#fff" stroke-width="0.75"/>
<circle cx="41.9" cy="494.94" r="1.43" fill="#84ba4a" stroke="#fff" stroke-width="0.75"/>
<circle cx="45.05" cy="494.94" r="2.35" fill="#84ba4a" stroke="#fff" stroke-width="0.75"/>
<circle cx="62.39" cy="504.71" r="2.45" fill="#84ba4a" stroke="#fff" stroke-width="0.75"/>
<circle cx="96.29" cy="490.52" r="2.29" fill="#84ba4a" stroke="#fff" stroke-width="0.75"/>
<circle cx="105.75" cy="504.71" r="1.85" fill="#84ba4a" stroke="#fff" stroke-width="0.75"/>
<circle cx="132.5" cy="421.98" r="1.58" fill="#84ba4a" stroke="#fff" stroke-width="0.75"/>
<circle cx="127.73" cy="419.91" r="1.71" fill="#84ba4a" stroke="#fff" stroke-width="0.75"/>
<circle cx="162.74" cy="425.16" r="1.96" fill="#84ba4a" stroke="#fff" stroke-width="0.75"/>
<circle cx="217.64" cy="428.34" r="1.6" fill="#84ba4a" stroke="#fff" stroke-width="0.75"/>
<circle cx="127.41" cy="437.41" r="2.63" fill="#84ba4a" stroke="#fff" stroke-width="0.75"/>
<circle cx="134.1" cy="437.1" r="2.93" fill="#84ba4a" stroke="#fff" stroke-width="0.75"/>
<circle cx="135.69" cy="437.41" r="1.87" fill="#84ba4a" stroke="#fff" stroke-width="0.75"/>
<circle cx="139.19" cy="433.91" r="1.52" fill="#84ba4a" stroke="#fff" stroke-width="0.75"/>
<circle cx="148.42" cy="436.3" r="1.89" fill="#84ba4a" stroke="#fff" stroke-width="0.75"/>
<circle cx="153.19" cy="441.07" r="1.88" fill="#84ba4a" stroke="#fff" stroke-width="0.75"/>
<circle cx="144.44" cy="443.46" r="2.4" fill="#84ba4a" stroke="#fff" stroke-width="0.75"/>
<circle cx="121.37" cy="445.85" r="1.4" fill="#84ba4a" stroke="#fff" stroke-width="0.75"/>
<circle cx="125.34" cy="449.03" r="1.92" fill="#84ba4a" stroke="#fff" stroke-width="0.75"/>
<circle cx="123.75" cy="447.44" r="1.56" fill="#84ba4a" stroke="#fff" stroke-width="0.75"/>
<circle cx="133.78" cy="446.64" r="1.72" fill="#84ba4a" stroke="#fff" stroke-width="0.75"/>
<circle cx="134.89" cy="449.51" r="1.68" fill="#84ba4a" stroke="#fff" stroke-width="0.75"/>
<circle cx="157.97" cy="449.03" r="1.4" fill="#84ba4a" stroke="#fff" stroke-width="0.75"/>
<circle cx="164.33" cy="445.37" r="1.48" fill="#84ba4a" stroke="#fff" stroke-width="0.75"/>
<circle cx="162.74" cy="450.62" r="1.44" fill="#84ba4a" stroke="#fff" stroke-width="0.75"/>
<circle cx="167.51" cy="449.03" r="2.43" fill="#84ba4a" stroke="#fff" stroke-width="0.75"/>
<circle cx="161.94" cy="454.28" r="1.7" fill="#84ba4a" stroke="#fff" stroke-width="0.75"/>
<circle cx="166.72" cy="454.92" r="1.59" fill="#84ba4a" stroke="#fff" stroke-width="0.75"/>
<circle cx="172.29" cy="446.64" r="1.79" fill="#84ba4a" stroke="#fff" stroke-width="0.75"/>
<circle cx="175.47" cy="448.24" r="1.62" fill="#84ba4a" stroke="#fff" stroke-width="0.75"/>
<circle cx="173.08" cy="452.21" r="1.6" fill="#84ba4a" stroke="#fff" stroke-width="0.75"/>
<circle cx="173.88" cy="455.4" r="1.73" fill="#84ba4a" stroke="#fff" stroke-width="0.75"/>
<circle cx="180.25" cy="446.64" r="1.63" fill="#84ba4a" stroke="#fff" stroke-width="0.75"/>
<circle cx="183.75" cy="447.92" r="1.51" fill="#84ba4a" stroke="#fff" stroke-width="0.75"/>
<circle cx="187.41" cy="449.83" r="1.76" fill="#84ba4a" stroke="#fff" stroke-width="0.75"/>
<circle cx="180.25" cy="437.89" r="1.63" fill="#84ba4a" stroke="#fff" stroke-width="0.75"/>
<circle cx="182.63" cy="441.55" r="2.9" fill="#84ba4a" stroke="#fff" stroke-width="0.75"/>
<circle cx="185.02" cy="434.71" r="2.81" fill="#84ba4a" stroke="#fff" stroke-width="0.75"/>
<circle cx="173.56" cy="432.32" r="1.62" fill="#84ba4a" stroke="#fff" stroke-width="0.75"/>
<circle cx="194.25" cy="437.41" r="1.82" fill="#84ba4a" stroke="#fff" stroke-width="0.75"/>
<circle cx="202.84" cy="438.69" r="1.82" fill="#84ba4a" stroke="#fff" stroke-width="0.75"/>
<circle cx="221.94" cy="441.55" r="1.55" fill="#84ba4a" stroke="#fff" stroke-width="0.75"/>
<circle cx="200.93" cy="456.19" r="1.82" fill="#84ba4a" stroke="#fff" stroke-width="0.75"/>
<circle cx="181.84" cy="456.99" r="1.65" fill="#84ba4a" stroke="#fff" stroke-width="0.75"/>
<circle cx="171.49" cy="459.06" r="1.93" fill="#84ba4a" stroke="#fff" stroke-width="0.75"/>
<circle cx="169.11" cy="466.54" r="2.19" fill="#84ba4a" stroke="#fff" stroke-width="0.75"/>
<circle cx="171.97" cy="468.13" r="2.4" fill="#84ba4a" stroke="#fff" stroke-width="0.75"/>
<circle cx="177.06" cy="465.74" r="1.68" fill="#84ba4a" stroke="#fff" stroke-width="0.75"/>
<circle cx="177.86" cy="468.92" r="1.89" fill="#84ba4a" stroke="#fff" stroke-width="0.75"/>
<circle cx="178.65" cy="472.9" r="1.93" fill="#84ba4a" stroke="#fff" stroke-width="0.75"/>
<circle cx="182.63" cy="472.9" r="1.8" fill="#84ba4a" stroke="#fff" stroke-width="0.75"/>
<circle cx="187.88" cy="469.72" r="1.74" fill="#84ba4a" stroke="#fff" stroke-width="0.75"/>
<circle cx="189" cy="476.08" r="1.75" fill="#84ba4a" stroke="#fff" stroke-width="0.75"/>
<circle cx="197.43" cy="474.97" r="1.49" fill="#84ba4a" stroke="#fff" stroke-width="0.75"/>
<circle cx="206.02" cy="472.11" r="1.43" fill="#84ba4a" stroke="#fff" stroke-width="0.75"/>
<circle cx="210.48" cy="476.88" r="1.46" fill="#84ba4a" stroke="#fff" stroke-width="0.75"/>
<circle cx="205.71" cy="478.15" r="2.09" fill="#84ba4a" stroke="#fff" stroke-width="0.75"/>
<circle cx="212.07" cy="478.47" r="1.9" fill="#84ba4a" stroke="#fff" stroke-width="0.75"/>
<circle cx="216.05" cy="478.47" r="1.91" fill="#84ba4a" stroke="#fff" stroke-width="0.75"/>
<circle cx="208.89" cy="482.45" r="1.9" fill="#84ba4a" stroke="#fff" stroke-width="0.75"/>
<circle cx="212.87" cy="483.25" r="2.29" fill="#84ba4a" stroke="#fff" stroke-width="0.75"/>
<circle cx="217.64" cy="481.65" r="1.42" fill="#84ba4a" stroke="#fff" stroke-width="0.75"/>
<circle cx="220.82" cy="474.49" r="1.71" fill="#84ba4a" stroke="#fff" stroke-width="0.75"/>
<circle cx="220.03" cy="484.84" r="1.46" fill="#84ba4a" stroke="#fff" stroke-width="0.75"/>
<circle cx="215.25" cy="488.02" r="1.96" fill="#84ba4a" stroke="#fff" stroke-width="0.75"/>
<circle cx="198.55" cy="486.43" r="1.59" fill="#84ba4a" stroke="#fff" stroke-width="0.75"/>
<circle cx="201.73" cy="485.63" r="1.9" fill="#84ba4a" stroke="#fff" stroke-width="0.75"/>
<circle cx="203.32" cy="492.79" r="1.51" fill="#84ba4a" stroke="#fff" stroke-width="0.75"/>
<circle cx="200.93" cy="491.2" r="1.77" fill="#84ba4a" stroke="#fff" stroke-width="0.75"/>
<circle cx="197.75" cy="499.16" r="1.64" fill="#84ba4a" stroke="#fff" stroke-width="0.75"/>
<circle cx="202.21" cy="501.55" r="1.64" fill="#84ba4a" stroke="#fff" stroke-width="0.75"/>
<circle cx="204.12" cy="503.93" r="1.65" fill="#84ba4a" stroke="#fff" stroke-width="0.75"/>
<circle cx="191.38" cy="499.95" r="1.7" fill="#84ba4a" stroke="#fff" stroke-width="0.75"/>
<circle cx="116.91" cy="478.47" r="2.21" fill="#84ba4a" stroke="#fff" stroke-width="0.75"/>
<circle cx="121.37" cy="479.27" r="1.5" fill="#84ba4a" stroke="#fff" stroke-width="0.75"/>
<circle cx="124.87" cy="480.06" r="1.85" fill="#84ba4a" stroke="#fff" stroke-width="0.75"/>
<circle cx="123.75" cy="483.25" r="1.71" fill="#84ba4a" stroke="#fff" stroke-width="0.75"/>
<circle cx="117.39" cy="485.63" r="1.79" fill="#84ba4a" stroke="#fff" stroke-width="0.75"/>
<circle cx="119.77" cy="488.02" r="2.07" fill="#84ba4a" stroke="#fff" stroke-width="0.75"/>
<circle cx="125.82" cy="486.43" r="1.85" fill="#84ba4a" stroke="#fff" stroke-width="0.75"/>
<circle cx="125.34" cy="491.2" r="2.26" fill="#84ba4a" stroke="#fff" stroke-width="0.75"/>
<circle cx="122.64" cy="495.98" r="1.83" fill="#84ba4a" stroke="#fff" stroke-width="0.75"/>
<circle cx="116.59" cy="495.98" r="1.56" fill="#84ba4a" stroke="#fff" stroke-width="0.75"/>
<circle cx="121.37" cy="499.95" r="1.75" fill="#84ba4a" stroke="#fff" stroke-width="0.75"/>
<circle cx="126.14" cy="500.75" r="1.54" fill="#84ba4a" stroke="#fff" stroke-width="0.75"/>
<circle cx="127.73" cy="503.93" r="1.97" fill="#84ba4a" stroke="#fff" stroke-width="0.75"/>
<circle cx="134.89" cy="479.27" r="1.82" fill="#84ba4a" stroke="#fff" stroke-width="0.75"/>
<circle cx="135.69" cy="483.25" r="1.91" fill="#84ba4a" stroke="#fff" stroke-width="0.75"/>
<circle cx="138.55" cy="485.63" r="1.56" fill="#84ba4a" stroke="#fff" stroke-width="0.75"/>
<circle cx="137.28" cy="493.59" r="1.41" fill="#84ba4a" stroke="#fff" stroke-width="0.75"/>
<circle cx="136.48" cy="500.75" r="1.63" fill="#84ba4a" stroke="#fff" stroke-width="0.75"/>
<circle cx="148.42" cy="487.22" r="1.62" fill="#84ba4a" stroke="#fff" stroke-width="0.75"/>
<circle cx="152.4" cy="491.2" r="1.86" fill="#84ba4a" stroke="#fff" stroke-width="0.75"/>
<circle cx="149.21" cy="492.79" r="1.99" fill="#84ba4a" stroke="#fff" stroke-width="0.75"/>
<circle cx="150.81" cy="496.77" r="1.76" fill="#84ba4a" stroke="#fff" stroke-width="0.75"/>
<circle cx="151.28" cy="499.95" r="1.9" fill="#84ba4a" stroke="#fff" stroke-width="0.75"/>
<circle cx="155.58" cy="483.25" r="1.73" fill="#84ba4a" stroke="#fff" stroke-width="0.75"/>
<circle cx="161.94" cy="478.47" r="1.83" fill="#84ba4a" stroke="#fff" stroke-width="0.75"/>
<circle cx="61.92" cy="506.89" r="2.93" fill="#84ba4a" stroke="#fff" stroke-width="0.75"/>
<circle cx="81.78" cy="505.79" r="1.84" fill="#84ba4a" stroke="#fff" stroke-width="0.75"/>
<circle cx="86.04" cy="506.58" r="2.23" fill="#84ba4a" stroke="#fff" stroke-width="0.75"/>
<circle cx="102.59" cy="505.79" r="1.54" fill="#84ba4a" stroke="#fff" stroke-width="0.75"/>
<circle cx="111.26" cy="506.58" r="1.81" fill="#84ba4a" stroke="#fff" stroke-width="0.75"/>
<circle cx="78.63" cy="512.88" r="2.43" fill="#84ba4a" stroke="#fff" stroke-width="0.75"/>
<circle cx="84.46" cy="515.72" r="1.51" fill="#84ba4a" stroke="#fff" stroke-width="0.75"/>
<circle cx="86.83" cy="511.31" r="1.51" fill="#84ba4a" stroke="#fff" stroke-width="0.75"/>
<circle cx="82.89" cy="519.5" r="1.92" fill="#84ba4a" stroke="#fff" stroke-width="0.75"/>
<circle cx="111.26" cy="512.09" r="2.13" fill="#84ba4a" stroke="#fff" stroke-width="0.75"/>
<circle cx="112.37" cy="518.4" r="1.59" fill="#84ba4a" stroke="#fff" stroke-width="0.75"/>
<circle cx="20.61" cy="520.45" r="2.71" fill="#84ba4a" stroke="#fff" stroke-width="0.75"/>
<circle cx="67.91" cy="522.66" r="1.45" fill="#84ba4a" stroke="#fff" stroke-width="0.75"/>
<circle cx="75" cy="522.66" r="1.9" fill="#84ba4a" stroke="#fff" stroke-width="0.75"/>
<circle cx="45.84" cy="527.86" r="1.61" fill="#84ba4a" stroke="#fff" stroke-width="0.75"/>
<circle cx="15.57" cy="532.12" r="1.81" fill="#84ba4a" stroke="#fff" stroke-width="0.75"/>
<circle cx="58.45" cy="532.9" r="1.6" fill="#84ba4a" stroke="#fff" stroke-width="0.75"/>
<circle cx="76.58" cy="534.95" r="1.69" fill="#84ba4a" stroke="#fff" stroke-width="0.75"/>
<circle cx="97.55" cy="545.99" r="1.75" fill="#84ba4a" stroke="#fff" stroke-width="0.75"/>
<circle cx="82.89" cy="552.3" r="2.2" fill="#84ba4a" stroke="#fff" stroke-width="0.75"/>
<circle cx="85.25" cy="555.76" r="1.47" fill="#84ba4a" stroke="#fff" stroke-width="0.75"/>
<circle cx="88.09" cy="555.13" r="1.8" fill="#84ba4a" stroke="#fff" stroke-width="0.75"/>
<circle cx="87.62" cy="560.18" r="1.93" fill="#84ba4a" stroke="#fff" stroke-width="0.75"/>
<circle cx="107.32" cy="560.49" r="2.05" fill="#84ba4a" stroke="#fff" stroke-width="0.75"/>
<circle cx="114.42" cy="551.51" r="2.19" fill="#84ba4a" stroke="#fff" stroke-width="0.75"/>
<circle cx="114.89" cy="563.02" r="1.85" fill="#84ba4a" stroke="#fff" stroke-width="0.75"/>
<circle cx="77.37" cy="568.06" r="1.81" fill="#84ba4a" stroke="#fff" stroke-width="0.75"/>
<circle cx="71.06" cy="573.11" r="1.88" fill="#84ba4a" stroke="#fff" stroke-width="0.75"/>
<circle cx="84.46" cy="574.37" r="1.85" fill="#84ba4a" stroke="#fff" stroke-width="0.75"/>
<circle cx="61.6" cy="575.94" r="2.34" fill="#84ba4a" stroke="#fff" stroke-width="0.75"/>
<circle cx="67.59" cy="575.94" r="1.47" fill="#84ba4a" stroke="#fff" stroke-width="0.75"/>
<circle cx="95.5" cy="574.68" r="1.61" fill="#84ba4a" stroke="#fff" stroke-width="0.75"/>
<circle cx="104.96" cy="573.89" r="1.81" fill="#84ba4a" stroke="#fff" stroke-width="0.75"/>
<circle cx="108.11" cy="574.05" r="1.51" fill="#84ba4a" stroke="#fff" stroke-width="0.75"/>
<circle cx="15.88" cy="576.73" r="1.78" fill="#84ba4a" stroke="#fff" stroke-width="0.75"/>
<circle cx="43.95" cy="581.46" r="1.93" fill="#84ba4a" stroke="#fff" stroke-width="0.75"/>
<circle cx="22.98" cy="583.04" r="1.47" fill="#84ba4a" stroke="#fff" stroke-width="0.75"/>
<circle cx="88.72" cy="582.57" r="2.07" fill="#84ba4a" stroke="#fff" stroke-width="0.75"/>
<circle cx="93.92" cy="582.25" r="1.83" fill="#84ba4a" stroke="#fff" stroke-width="0.75"/>
<circle cx="32.44" cy="587.3" r="2.8" fill="#84ba4a" stroke="#fff" stroke-width="0.75"/>
<circle cx="108.9" cy="586.66" r="1.79" fill="#84ba4a" stroke="#fff" stroke-width="0.75"/>
<circle cx="114.42" cy="586.19" r="1.59" fill="#84ba4a" stroke="#fff" stroke-width="0.75"/>
<circle cx="65.54" cy="582.25" r="1.44" fill="#84ba4a" stroke="#fff" stroke-width="0.75"/>
<circle cx="118.98" cy="509.46" r="1.85" fill="#84ba4a" stroke="#fff" stroke-width="0.75"/>
<circle cx="125.34" cy="508.98" r="1.84" fill="#84ba4a" stroke="#fff" stroke-width="0.75"/>
<circle cx="124.55" cy="505.8" r="1.56" fill="#84ba4a" stroke="#fff" stroke-width="0.75"/>
<circle cx="163.54" cy="508.98" r="1.92" fill="#84ba4a" stroke="#fff" stroke-width="0.75"/>
<circle cx="164.33" cy="511.37" r="1.7" fill="#84ba4a" stroke="#fff" stroke-width="0.75"/>
<circle cx="165.92" cy="505.8" r="1.86" fill="#84ba4a" stroke="#fff" stroke-width="0.75"/>
<circle cx="200.93" cy="505.8" r="1.6" fill="#84ba4a" stroke="#fff" stroke-width="0.75"/>
<circle cx="200.93" cy="511.37" r="1.72" fill="#84ba4a" stroke="#fff" stroke-width="0.75"/>
<circle cx="203.32" cy="514.23" r="1.61" fill="#84ba4a" stroke="#fff" stroke-width="0.75"/>
<circle cx="205.71" cy="516.46" r="1.47" fill="#84ba4a" stroke="#fff" stroke-width="0.75"/>
<circle cx="132.19" cy="519.64" r="2.64" fill="#84ba4a" stroke="#fff" stroke-width="0.75"/>
<circle cx="126.14" cy="524.89" r="2.55" fill="#84ba4a" stroke="#fff" stroke-width="0.75"/>
<circle cx="129" cy="521.71" r="1.87" fill="#84ba4a" stroke="#fff" stroke-width="0.75"/>
<circle cx="200.61" cy="525.37" r="1.51" fill="#84ba4a" stroke="#fff" stroke-width="0.75"/>
<circle cx="208.57" cy="524.41" r="1.65" fill="#84ba4a" stroke="#fff" stroke-width="0.75"/>
<circle cx="214.94" cy="524.41" r="1.89" fill="#84ba4a" stroke="#fff" stroke-width="0.75"/>
<circle cx="213.98" cy="529.67" r="1.76" fill="#84ba4a" stroke="#fff" stroke-width="0.75"/>
<circle cx="166.72" cy="536.03" r="1.64" fill="#84ba4a" stroke="#fff" stroke-width="0.75"/>
<circle cx="169.11" cy="537.62" r="1.72" fill="#84ba4a" stroke="#fff" stroke-width="0.75"/>
<circle cx="171.97" cy="534.92" r="1.52" fill="#84ba4a" stroke="#fff" stroke-width="0.75"/>
<circle cx="176.74" cy="536.03" r="1.87" fill="#84ba4a" stroke="#fff" stroke-width="0.75"/>
<circle cx="211.28" cy="538.1" r="1.88" fill="#84ba4a" stroke="#fff" stroke-width="0.75"/>
<circle cx="216.05" cy="540.33" r="2.47" fill="#84ba4a" stroke="#fff" stroke-width="0.75"/>
<circle cx="212.39" cy="543.19" r="1.73" fill="#84ba4a" stroke="#fff" stroke-width="0.75"/>
<circle cx="216.05" cy="543.99" r="1.78" fill="#84ba4a" stroke="#fff" stroke-width="0.75"/>
<circle cx="211.28" cy="547.65" r="2.99" fill="#84ba4a" stroke="#fff" stroke-width="0.75"/>
<circle cx="215.25" cy="549.88" r="2.84" fill="#84ba4a" stroke="#fff" stroke-width="0.75"/>
<circle cx="217.64" cy="551.94" r="1.92" fill="#84ba4a" stroke="#fff" stroke-width="0.75"/>
<circle cx="219.23" cy="554.33" r="1.76" fill="#84ba4a" stroke="#fff" stroke-width="0.75"/>
<circle cx="213.66" cy="556.72" r="1.4" fill="#84ba4a" stroke="#fff" stroke-width="0.75"/>
<circle cx="208.09" cy="559.9" r="1.8" fill="#84ba4a" stroke="#fff" stroke-width="0.75"/>
<circle cx="212.07" cy="559.11" r="1.71" fill="#84ba4a" stroke="#fff" stroke-width="0.75"/>
<circle cx="216.85" cy="563.08" r="1.52" fill="#84ba4a" stroke="#fff" stroke-width="0.75"/>
<circle cx="117.39" cy="548.76" r="1.42" fill="#84ba4a" stroke="#fff" stroke-width="0.75"/>
<circle cx="127.41" cy="549.56" r="1.79" fill="#84ba4a" stroke="#fff" stroke-width="0.75"/>
<circle cx="141.26" cy="551.47" r="1.74" fill="#84ba4a" stroke="#fff" stroke-width="0.75"/>
<circle cx="138.07" cy="556.24" r="2.98" fill="#84ba4a" stroke="#fff" stroke-width="0.75"/>
<circle cx="150.81" cy="548.76" r="2.07" fill="#84ba4a" stroke="#fff" stroke-width="0.75"/>
<circle cx="151.28" cy="553.54" r="1.77" fill="#84ba4a" stroke="#fff" stroke-width="0.75"/>
<circle cx="173.88" cy="554.65" r="1.62" fill="#84ba4a" stroke="#fff" stroke-width="0.75"/>
<circle cx="181.04" cy="554.33" r="1.45" fill="#84ba4a" stroke="#fff" stroke-width="0.75"/>
<circle cx="184.22" cy="554.65" r="1.96" fill="#84ba4a" stroke="#fff" stroke-width="0.75"/>
<circle cx="187.88" cy="554.65" r="1.92" fill="#84ba4a" stroke="#fff" stroke-width="0.75"/>
<circle cx="178.65" cy="559.11" r="1.48" fill="#84ba4a" stroke="#fff" stroke-width="0.75"/>
<circle cx="184.7" cy="559.9" r="1.76" fill="#84ba4a" stroke="#fff" stroke-width="0.75"/>
<circle cx="173.08" cy="560.7" r="2.36" fill="#84ba4a" stroke="#fff" stroke-width="0.75"/>
<circle cx="173.08" cy="564.68" r="2.87" fill="#84ba4a" stroke="#fff" stroke-width="0.75"/>
<circle cx="192.98" cy="560.7" r="1.88" fill="#84ba4a" stroke="#fff" stroke-width="0.75"/>
<circle cx="200.14" cy="553.54" r="2.43" fill="#84ba4a" stroke="#fff" stroke-width="0.75"/>
<circle cx="198.55" cy="565.15" r="1.85" fill="#84ba4a" stroke="#fff" stroke-width="0.75"/>
<circle cx="139.67" cy="567.06" r="2.74" fill="#84ba4a" stroke="#fff" stroke-width="0.75"/>
<circle cx="128.53" cy="575.02" r="1.43" fill="#84ba4a" stroke="#fff" stroke-width="0.75"/>
<circle cx="129" cy="572.63" r="1.52" fill="#84ba4a" stroke="#fff" stroke-width="0.75"/>
<circle cx="121.37" cy="582.18" r="1.7" fill="#84ba4a" stroke="#fff" stroke-width="0.75"/>
<circle cx="137.28" cy="588.55" r="1.72" fill="#84ba4a" stroke="#fff" stroke-width="0.75"/>
<circle cx="162.74" cy="590.61" r="1.79" fill="#84ba4a" stroke="#fff" stroke-width="0.75"/>
<circle cx="116.27" cy="562.29" r="1.68" fill="#84ba4a" stroke="#fff" stroke-width="0.75"/>
</g>
<g clip-path="url(#cm18)"><g filter="url(#tb)">
<rect x="205.22" y="384.4" width="17.94" height="17.9" fill="#dec942"/>
<rect x="222.56" y="384.4" width="17.94" height="17.9" fill="#dec942"/>
<rect x="239.9" y="384.4" width="17.94" height="17.9" fill="#dec942"/>
<rect x="257.24" y="384.4" width="17.94" height="17.9" fill="#e9da66"/>
<rect x="274.58" y="384.4" width="17.94" height="17.9" fill="#dec942"/>
<rect x="291.93" y="384.4" width="17.94" height="17.9" fill="#dec942"/>
<rect x="309.27" y="384.4" width="17.94" height="17.9" fill="#d0b830"/>
<rect x="326.61" y="384.4" width="17.94" height="17.9" fill="#dec942"/>
<rect x="343.95" y="384.4" width="17.94" height="17.9" fill="#e9da66"/>
<rect x="361.29" y="384.4" width="17.94" height="17.9" fill="#e9da66"/>
<rect x="378.63" y="384.4" width="17.94" height="17.9" fill="#e9da66"/>
<rect x="395.98" y="384.4" width="17.94" height="17.9" fill="#e9da66"/>
<rect x="413.32" y="384.4" width="17.94" height="17.9" fill="#e9da66"/>
<rect x="430.66" y="384.4" width="17.94" height="17.9" fill="#f0e794"/>
<rect x="448" y="384.4" width="17.94" height="17.9" fill="#f0e794"/>
<rect x="465.34" y="384.4" width="17.94" height="17.9" fill="#f0e794"/>
<rect x="205.22" y="401.7" width="17.94" height="17.9" fill="#dec942"/>
<rect x="222.56" y="401.7" width="17.94" height="17.9" fill="#dec942"/>
<rect x="239.9" y="401.7" width="17.94" height="17.9" fill="#dec942"/>
<rect x="257.24" y="401.7" width="17.94" height="17.9" fill="#e9da66"/>
<rect x="274.58" y="401.7" width="17.94" height="17.9" fill="#dec942"/>
<rect x="291.93" y="401.7" width="17.94" height="17.9" fill="#dec942"/>
<rect x="309.27" y="401.7" width="17.94" height="17.9" fill="#d0b830"/>
<rect x="326.61" y="401.7" width="17.94" height="17.9" fill="#dec942"/>
<rect x="343.95" y="401.7" width="17.94" height="17.9" fill="#e9da66"/>
<rect x="361.29" y="401.7" width="17.94" height="17.9" fill="#e9da66"/>
<rect x="378.63" y="401.7" width="17.94" height="17.9" fill="#e9da66"/>
<rect x="395.98" y="401.7" width="17.94" height="17.9" fill="#e9da66"/>
<rect x="413.32" y="401.7" width="17.94" height="17.9" fill="#e9da66"/>
<rect x="430.66" y="401.7" width="17.94" height="17.9" fill="#f0e794"/>
<rect x="448" y="401.7" width="17.94" height="17.9" fill="#f0e794"/>
<rect x="465.34" y="401.7" width="17.94" height="17.9" fill="#f0e794"/>
<rect x="205.22" y="419" width="17.94" height="17.9" fill="#dec942"/>
<rect x="222.56" y="419" width="17.94" height="17.9" fill="#dec942"/>
<rect x="239.9" y="419" width="17.94" height="17.9" fill="#dec942"/>
<rect x="257.24" y="419" width="17.94" height="17.9" fill="#e9da66"/>
<rect x="274.58" y="419" width="17.94" height="17.9" fill="#dec942"/>
<rect x="291.93" y="419" width="17.94" height="17.9" fill="#dec942"/>
<rect x="309.27" y="419" width="17.94" height="17.9" fill="#d0b830"/>
<rect x="326.61" y="419" width="17.94" height="17.9" fill="#dec942"/>
<rect x="343.95" y="419" width="17.94" height="17.9" fill="#e9da66"/>
<rect x="361.29" y="419" width="17.94" height="17.9" fill="#e9da66"/>
<rect x="378.63" y="419" width="17.94" height="17.9" fill="#e9da66"/>
<rect x="395.98" y="419" width="17.94" height="17.9" fill="#e9da66"/>
<rect x="413.32" y="419" width="17.94" height="17.9" fill="#e9da66"/>
<rect x="430.66" y="419" width="17.94" height="17.9" fill="#f0e794"/>
<rect x="448" y="419" width="17.94" height="17.9" fill="#f0e794"/>
<rect x="465.34" y="419" width="17.94" height="17.9" fill="#f0e794"/>
<rect x="205.22" y="436.3" width="17.94" height="17.9" fill="#e9da66"/>
<rect x="222.56" y="436.3" width="17.94" height="17.9" fill="#e9da66"/>
<rect x="239.9" y="436.3" width="17.94" height="17.9" fill="#e9da66"/>
<rect x="257.24" y="436.3" width="17.94" height="17.9" fill="#e9da66"/>
<rect x="274.58" y="436.3" width="17.94" height="17.9" fill="#f0e794"/>
<rect x="291.93" y="436.3" width="17.94" height="17.9" fill="#e9da66"/>
<rect x="309.27" y="436.3" width="17.94" height="17.9" fill="#dec942"/>
<rect x="326.61" y="436.3" width="17.94" height="17.9" fill="#d0b830"/>
<rect x="343.95" y="436.3" width="17.94" height="17.9" fill="#e9da66"/>
<rect x="361.29" y="436.3" width="17.94" height="17.9" fill="#e9da66"/>
<rect x="378.63" y="436.3" width="17.94" height="17.9" fill="#d0b830"/>
<rect x="395.98" y="436.3" width="17.94" height="17.9" fill="#d0b830"/>
<rect x="413.32" y="436.3" width="17.94" height="17.9" fill="#e9da66"/>
<rect x="430.66" y="436.3" width="17.94" height="17.9" fill="#e9da66"/>
<rect x="448" y="436.3" width="17.94" height="17.9" fill="#e9da66"/>
<rect x="465.34" y="436.3" width="17.94" height="17.9" fill="#e9da66"/>
<rect x="205.22" y="453.6" width="17.94" height="17.9" fill="#e9da66"/>
<rect x="222.56" y="453.6" width="17.94" height="17.9" fill="#e9da66"/>
<rect x="239.9" y="453.6" width="17.94" height="17.9" fill="#e9da66"/>
<rect x="257.24" y="453.6" width="17.94" height="17.9" fill="#f0e794"/>
<rect x="274.58" y="453.6" width="17.94" height="17.9" fill="#f0e794"/>
<rect x="291.93" y="453.6" width="17.94" height="17.9" fill="#f0e794"/>
<rect x="309.27" y="453.6" width="17.94" height="17.9" fill="#e9da66"/>
<rect x="326.61" y="453.6" width="17.94" height="17.9" fill="#f0e794"/>
<rect x="343.95" y="453.6" width="17.94" height="17.9" fill="#f0e794"/>
<rect x="361.29" y="453.6" width="17.94" height="17.9" fill="#f0e794"/>
<rect x="378.63" y="453.6" width="17.94" height="17.9" fill="#e9da66"/>
<rect x="395.98" y="453.6" width="17.94" height="17.9" fill="#dec942"/>
<rect x="413.32" y="453.6" width="17.94" height="17.9" fill="#dec942"/>
<rect x="430.66" y="453.6" width="17.94" height="17.9" fill="#d0b830"/>
<rect x="448" y="453.6" width="17.94" height="17.9" fill="#d0b830"/>
<rect x="465.34" y="453.6" width="17.94" height="17.9" fill="#d0b830"/>
<rect x="205.22" y="470.9" width="17.94" height="17.9" fill="#e9da66"/>
<rect x="222.56" y="470.9" width="17.94" height="17.9" fill="#e9da66"/>
<rect x="239.9" y="470.9" width="17.94" height="17.9" fill="#e9da66"/>
<rect x="257.24" y="470.9" width="17.94" height="17.9" fill="#e9da66"/>
<rect x="274.58" y="470.9" width="17.94" height="17.9" fill="#e9da66"/>
<rect x="291.93" y="470.9" width="17.94" height="17.9" fill="#f0e794"/>
<rect x="309.27" y="470.9" width="17.94" height="17.9" fill="#e9da66"/>
<rect x="326.61" y="470.9" width="17.94" height="17.9" fill="#dec942"/>
<rect x="343.95" y="470.9" width="17.94" height="17.9" fill="#d0b830"/>
<rect x="361.29" y="470.9" width="17.94" height="17.9" fill="#dec942"/>
<rect x="378.63" y="470.9" width="17.94" height="17.9" fill="#f0e794"/>
<rect x="395.98" y="470.9" width="17.94" height="17.9" fill="#e9da66"/>
<rect x="413.32" y="470.9" width="17.94" height="17.9" fill="#dec942"/>
<rect x="430.66" y="470.9" width="17.94" height="17.9" fill="#d0b830"/>
<rect x="448" y="470.9" width="17.94" height="17.9" fill="#d0b830"/>
<rect x="465.34" y="470.9" width="17.94" height="17.9" fill="#d0b830"/>
<rect x="205.22" y="488.2" width="17.94" height="17.9" fill="#e9da66"/>
<rect x="222.56" y="488.2" width="17.94" height="17.9" fill="#e9da66"/>
<rect x="239.9" y="488.2" width="17.94" height="17.9" fill="#e9da66"/>
<rect x="257.24" y="488.2" width="17.94" height="17.9" fill="#e9da66"/>
<rect x="274.58" y="488.2" width="17.94" height="17.9" fill="#e9da66"/>
<rect x="291.93" y="488.2" width="17.94" height="17.9" fill="#dec942"/>
<rect x="309.27" y="488.2" width="17.94" height="17.9" fill="#dec942"/>
<rect x="326.61" y="488.2" width="17.94" height="17.9" fill="#d0b830"/>
<rect x="343.95" y="488.2" width="17.94" height="17.9" fill="#d0b830"/>
<rect x="361.29" y="488.2" width="17.94" height="17.9" fill="#dec942"/>
<rect x="378.63" y="488.2" width="17.94" height="17.9" fill="#e9da66"/>
<rect x="395.98" y="488.2" width="17.94" height="17.9" fill="#e9da66"/>
<rect x="413.32" y="488.2" width="17.94" height="17.9" fill="#dec942"/>
<rect x="430.66" y="488.2" width="17.94" height="17.9" fill="#d0b830"/>
<rect x="448" y="488.2" width="17.94" height="17.9" fill="#d0b830"/>
<rect x="465.34" y="488.2" width="17.94" height="17.9" fill="#d0b830"/>
<rect x="205.22" y="505.5" width="17.94" height="17.9" fill="#f0e794"/>
<rect x="222.56" y="505.5" width="17.94" height="17.9" fill="#f0e794"/>
<rect x="239.9" y="505.5" width="17.94" height="17.9" fill="#f0e794"/>
<rect x="257.24" y="505.5" width="17.94" height="17.9" fill="#f0e794"/>
<rect x="274.58" y="505.5" width="17.94" height="17.9" fill="#f0e794"/>
<rect x="291.93" y="505.5" width="17.94" height="17.9" fill="#e9da66"/>
<rect x="309.27" y="505.5" width="17.94" height="17.9" fill="#e9da66"/>
<rect x="326.61" y="505.5" width="17.94" height="17.9" fill="#e9da66"/>
<rect x="343.95" y="505.5" width="17.94" height="17.9" fill="#dec942"/>
<rect x="361.29" y="505.5" width="17.94" height="17.9" fill="#e9da66"/>
<rect x="378.63" y="505.5" width="17.94" height="17.9" fill="#e9da66"/>
<rect x="395.98" y="505.5" width="17.94" height="17.9" fill="#e9da66"/>
<rect x="413.32" y="505.5" width="17.94" height="17.9" fill="#dec942"/>
<rect x="430.66" y="505.5" width="17.94" height="17.9" fill="#c0a826"/>
<rect x="448" y="505.5" width="17.94" height="17.9" fill="#c0a826"/>
<rect x="465.34" y="505.5" width="17.94" height="17.9" fill="#c0a826"/>
<rect x="205.22" y="522.8" width="17.94" height="17.9" fill="#f0e794"/>
<rect x="222.56" y="522.8" width="17.94" height="17.9" fill="#f0e794"/>
<rect x="239.9" y="522.8" width="17.94" height="17.9" fill="#f0e794"/>
<rect x="257.24" y="522.8" width="17.94" height="17.9" fill="#f0e794"/>
<rect x="274.58" y="522.8" width="17.94" height="17.9" fill="#f0e794"/>
<rect x="291.93" y="522.8" width="17.94" height="17.9" fill="#f0e794"/>
<rect x="309.27" y="522.8" width="17.94" height="17.9" fill="#f0e794"/>
<rect x="326.61" y="522.8" width="17.94" height="17.9" fill="#f0e794"/>
<rect x="343.95" y="522.8" width="17.94" height="17.9" fill="#f0e794"/>
<rect x="361.29" y="522.8" width="17.94" height="17.9" fill="#f0e794"/>
<rect x="378.63" y="522.8" width="17.94" height="17.9" fill="#f0e794"/>
<rect x="395.98" y="522.8" width="17.94" height="17.9" fill="#e9da66"/>
<rect x="413.32" y="522.8" width="17.94" height="17.9" fill="#dec942"/>
<rect x="430.66" y="522.8" width="17.94" height="17.9" fill="#d0b830"/>
<rect x="448" y="522.8" width="17.94" height="17.9" fill="#d0b830"/>
<rect x="465.34" y="522.8" width="17.94" height="17.9" fill="#d0b830"/>
<rect x="205.22" y="540.1" width="17.94" height="17.9" fill="#f0e794"/>
<rect x="222.56" y="540.1" width="17.94" height="17.9" fill="#f0e794"/>
<rect x="239.9" y="540.1" width="17.94" height="17.9" fill="#f0e794"/>
<rect x="257.24" y="540.1" width="17.94" height="17.9" fill="#f0e794"/>
<rect x="274.58" y="540.1" width="17.94" height="17.9" fill="#f0e794"/>
<rect x="291.93" y="540.1" width="17.94" height="17.9" fill="#e9da66"/>
<rect x="309.27" y="540.1" width="17.94" height="17.9" fill="#f0e794"/>
<rect x="326.61" y="540.1" width="17.94" height="17.9" fill="#f0e794"/>
<rect x="343.95" y="540.1" width="17.94" height="17.9" fill="#f0e794"/>
<rect x="361.29" y="540.1" width="17.94" height="17.9" fill="#f0e794"/>
<rect x="378.63" y="540.1" width="17.94" height="17.9" fill="#f0e794"/>
<rect x="395.98" y="540.1" width="17.94" height="17.9" fill="#e9da66"/>
<rect x="413.32" y="540.1" width="17.94" height="17.9" fill="#dec942"/>
<rect x="430.66" y="540.1" width="17.94" height="17.9" fill="#d0b830"/>
<rect x="448" y="540.1" width="17.94" height="17.9" fill="#d0b830"/>
<rect x="465.34" y="540.1" width="17.94" height="17.9" fill="#d0b830"/>
<rect x="205.22" y="557.4" width="17.94" height="17.9" fill="#f0e794"/>
<rect x="222.56" y="557.4" width="17.94" height="17.9" fill="#f0e794"/>
<rect x="239.9" y="557.4" width="17.94" height="17.9" fill="#f0e794"/>
<rect x="257.24" y="557.4" width="17.94" height="17.9" fill="#f0e794"/>
<rect x="274.58" y="557.4" width="17.94" height="17.9" fill="#e9da66"/>
<rect x="291.93" y="557.4" width="17.94" height="17.9" fill="#e9da66"/>
<rect x="309.27" y="557.4" width="17.94" height="17.9" fill="#e9da66"/>
<rect x="326.61" y="557.4" width="17.94" height="17.9" fill="#f0e794"/>
<rect x="343.95" y="557.4" width="17.94" height="17.9" fill="#f0e794"/>
<rect x="361.29" y="557.4" width="17.94" height="17.9" fill="#f0e794"/>
<rect x="378.63" y="557.4" width="17.94" height="17.9" fill="#f0e794"/>
<rect x="395.98" y="557.4" width="17.94" height="17.9" fill="#e9da66"/>
<rect x="413.32" y="557.4" width="17.94" height="17.9" fill="#e9da66"/>
<rect x="430.66" y="557.4" width="17.94" height="17.9" fill="#dec942"/>
<rect x="448" y="557.4" width="17.94" height="17.9" fill="#dec942"/>
<rect x="465.34" y="557.4" width="17.94" height="17.9" fill="#dec942"/>
<rect x="205.22" y="574.7" width="17.94" height="17.9" fill="#e9da66"/>
<rect x="222.56" y="574.7" width="17.94" height="17.9" fill="#e9da66"/>
<rect x="239.9" y="574.7" width="17.94" height="17.9" fill="#e9da66"/>
<rect x="257.24" y="574.7" width="17.94" height="17.9" fill="#e9da66"/>
<rect x="274.58" y="574.7" width="17.94" height="17.9" fill="#e9da66"/>
<rect x="291.93" y="574.7" width="17.94" height="17.9" fill="#e9da66"/>
<rect x="309.27" y="574.7" width="17.94" height="17.9" fill="#e9da66"/>
<rect x="326.61" y="574.7" width="17.94" height="17.9" fill="#e9da66"/>
<rect x="343.95" y="574.7" width="17.94" height="17.9" fill="#e9da66"/>
<rect x="361.29" y="574.7" width="17.94" height="17.9" fill="#f0e794"/>
<rect x="378.63" y="574.7" width="17.94" height="17.9" fill="#f0e794"/>
<rect x="395.98" y="574.7" width="17.94" height="17.9" fill="#f0e794"/>
<rect x="413.32" y="574.7" width="17.94" height="17.9" fill="#f0e794"/>
<rect x="430.66" y="574.7" width="17.94" height="17.9" fill="#f0e794"/>
<rect x="448" y="574.7" width="17.94" height="17.9" fill="#f0e794"/>
<rect x="465.34" y="574.7" width="17.94" height="17.9" fill="#f0e794"/>
<rect x="205.22" y="592" width="17.94" height="17.9" fill="#e9da66"/>
<rect x="222.56" y="592" width="17.94" height="17.9" fill="#e9da66"/>
<rect x="239.9" y="592" width="17.94" height="17.9" fill="#e9da66"/>
<rect x="257.24" y="592" width="17.94" height="17.9" fill="#e9da66"/>
<rect x="274.58" y="592" width="17.94" height="17.9" fill="#e9da66"/>
<rect x="291.93" y="592" width="17.94" height="17.9" fill="#e9da66"/>
<rect x="309.27" y="592" width="17.94" height="17.9" fill="#e9da66"/>
<rect x="326.61" y="592" width="17.94" height="17.9" fill="#e9da66"/>
<rect x="343.95" y="592" width="17.94" height="17.9" fill="#e9da66"/>
<rect x="361.29" y="592" width="17.94" height="17.9" fill="#f0e794"/>
<rect x="378.63" y="592" width="17.94" height="17.9" fill="#f0e794"/>
<rect x="395.98" y="592" width="17.94" height="17.9" fill="#f0e794"/>
<rect x="413.32" y="592" width="17.94" height="17.9" fill="#f0e794"/>
<rect x="430.66" y="592" width="17.94" height="17.9" fill="#f0e794"/>
<rect x="448" y="592" width="17.94" height="17.9" fill="#f0e794"/>
<rect x="465.34" y="592" width="17.94" height="17.9" fill="#f0e794"/>
<rect x="205.22" y="609.3" width="17.94" height="17.9" fill="#e9da66"/>
<rect x="222.56" y="609.3" width="17.94" height="17.9" fill="#e9da66"/>
<rect x="239.9" y="609.3" width="17.94" height="17.9" fill="#e9da66"/>
<rect x="257.24" y="609.3" width="17.94" height="17.9" fill="#e9da66"/>
<rect x="274.58" y="609.3" width="17.94" height="17.9" fill="#e9da66"/>
<rect x="291.93" y="609.3" width="17.94" height="17.9" fill="#e9da66"/>
<rect x="309.27" y="609.3" width="17.94" height="17.9" fill="#e9da66"/>
<rect x="326.61" y="609.3" width="17.94" height="17.9" fill="#e9da66"/>
<rect x="343.95" y="609.3" width="17.94" height="17.9" fill="#e9da66"/>
<rect x="361.29" y="609.3" width="17.94" height="17.9" fill="#f0e794"/>
<rect x="378.63" y="609.3" width="17.94" height="17.9" fill="#f0e794"/>
<rect x="395.98" y="609.3" width="17.94" height="17.9" fill="#f0e794"/>
<rect x="413.32" y="609.3" width="17.94" height="17.9" fill="#f0e794"/>
<rect x="430.66" y="609.3" width="17.94" height="17.9" fill="#f0e794"/>
<rect x="448" y="609.3" width="17.94" height="17.9" fill="#f0e794"/>
<rect x="465.34" y="609.3" width="17.94" height="17.9" fill="#f0e794"/>
</g>
<g filter="url(#sb)" fill="none" stroke="#f4eca8" stroke-linecap="round" stroke-opacity="0.45">
<path d="M239.9,510.34 C244.06,509.54 257.24,507 264.87,505.5 C272.5,504 277.18,503.57 285.68,501.35 C294.18,499.13 310.83,493.71 315.86,492.18" stroke-width="4"/>
<path d="M260.71,534.91 C266.36,533.35 282.49,528.6 294.63,525.57 C306.77,522.54 321.41,519.37 333.55,516.75 C345.68,514.12 356.75,512.91 367.47,509.82 C378.18,506.74 392.78,500.17 397.85,498.23" stroke-width="5"/>
<path d="M239.9,579.89 C245,578.42 260.09,574.24 270.49,571.07 C280.9,567.9 292.24,563.89 302.33,560.86 C312.42,557.83 318.67,556.28 331.05,552.9 C343.43,549.53 361.43,544.68 376.62,540.62 C391.81,536.55 414.6,530.53 422.2,528.51" stroke-width="5"/>
<path d="M331.05,592 C336.67,589.98 354.63,583.38 364.76,579.89 C374.89,576.4 379.67,575.07 391.81,571.07 C403.95,567.06 429.96,558.38 437.6,555.84" stroke-width="5"/>
<path d="M244.06,470.9 C247.53,469.46 256.89,465.13 264.87,462.25 C272.85,459.37 287.42,455.04 291.93,453.6" stroke-width="3.5"/>
</g>
<g filter="url(#db)" fill="#bfa52a" fill-opacity="0.45">
<ellipse cx="310.65" cy="427.65" rx="18.73" ry="10.38" transform="rotate(0 310.65 427.65)"/>
<ellipse cx="398.06" cy="453.6" rx="14.57" ry="12.11" transform="rotate(0 398.06 453.6)"/>
<ellipse cx="346.03" cy="489.93" rx="27.05" ry="12.97" transform="rotate(-15 346.03 489.93)"/>
<ellipse cx="441.76" cy="488.2" rx="8.32" ry="22.49" transform="rotate(0 441.76 488.2)"/>
<ellipse cx="441.76" cy="543.56" rx="8.32" ry="19.03" transform="rotate(0 441.76 543.56)"/>
<ellipse cx="308.57" cy="457.06" rx="6.24" ry="8.65" transform="rotate(0 308.57 457.06)"/>
<ellipse cx="423.03" cy="560.86" rx="10.41" ry="6.92" transform="rotate(0 423.03 560.86)"/>
</g>
<circle cx="252.41" cy="421.94" r="1.73" fill="#84ba4a" stroke="#fff" stroke-width="0.75"/>
<circle cx="257.32" cy="420.36" r="1.76" fill="#84ba4a" stroke="#fff" stroke-width="0.75"/>
<circle cx="261.93" cy="421.47" r="1.44" fill="#84ba4a" stroke="#fff" stroke-width="0.75"/>
<circle cx="265.46" cy="423.04" r="1.9" fill="#84ba4a" stroke="#fff" stroke-width="0.75"/>
<circle cx="263.47" cy="427.77" r="1.54" fill="#84ba4a" stroke="#fff" stroke-width="0.75"/>
<circle cx="245.04" cy="429.82" r="2.24" fill="#84ba4a" stroke="#fff" stroke-width="0.75"/>
<circle cx="239.66" cy="429.04" r="1.69" fill="#84ba4a" stroke="#fff" stroke-width="0.75"/>
<circle cx="239.97" cy="435.34" r="1.49" fill="#84ba4a" stroke="#fff" stroke-width="0.75"/>
<circle cx="269.61" cy="436.6" r="1.92" fill="#84ba4a" stroke="#fff" stroke-width="0.75"/>
<circle cx="274.22" cy="435.34" r="1.84" fill="#84ba4a" stroke="#fff" stroke-width="0.75"/>
<circle cx="277.29" cy="434.55" r="1.44" fill="#84ba4a" stroke="#fff" stroke-width="0.75"/>
<circle cx="279.6" cy="433.77" r="1.75" fill="#84ba4a" stroke="#fff" stroke-width="0.75"/>
<circle cx="277.29" cy="438.18" r="1.42" fill="#84ba4a" stroke="#fff" stroke-width="0.75"/>
<circle cx="284.2" cy="434.55" r="1.68" fill="#84ba4a" stroke="#fff" stroke-width="0.75"/>
<circle cx="287.28" cy="433.77" r="1.93" fill="#84ba4a" stroke="#fff" stroke-width="0.75"/>
<circle cx="288.81" cy="422.41" r="1.95" fill="#84ba4a" stroke="#fff" stroke-width="0.75"/>
<circle cx="288.04" cy="429.82" r="1.88" fill="#84ba4a" stroke="#fff" stroke-width="0.75"/>
<circle cx="291.12" cy="432.19" r="1.96" fill="#84ba4a" stroke="#fff" stroke-width="0.75"/>
<circle cx="292.65" cy="434.55" r="1.46" fill="#84ba4a" stroke="#fff" stroke-width="0.75"/>
<circle cx="296.49" cy="419.89" r="1.53" fill="#84ba4a" stroke="#fff" stroke-width="0.75"/>
<circle cx="299.56" cy="420.84" r="2.22" fill="#84ba4a" stroke="#fff" stroke-width="0.75"/>
<circle cx="295.72" cy="425.09" r="1.58" fill="#84ba4a" stroke="#fff" stroke-width="0.75"/>
<circle cx="300.33" cy="425.09" r="1.63" fill="#84ba4a" stroke="#fff" stroke-width="0.75"/>
<circle cx="304.17" cy="428.25" r="1.75" fill="#84ba4a" stroke="#fff" stroke-width="0.75"/>
<circle cx="298.03" cy="429.82" r="1.94" fill="#84ba4a" stroke="#fff" stroke-width="0.75"/>
<circle cx="305.71" cy="433.77" r="1.96" fill="#84ba4a" stroke="#fff" stroke-width="0.75"/>
<circle cx="311.85" cy="429.35" r="1.99" fill="#84ba4a" stroke="#fff" stroke-width="0.75"/>
<circle cx="312.62" cy="434.55" r="1.5" fill="#84ba4a" stroke="#fff" stroke-width="0.75"/>
<circle cx="310.32" cy="434.55" r="1.98" fill="#84ba4a" stroke="#fff" stroke-width="0.75"/>
<circle cx="318" cy="432.98" r="2.28" fill="#84ba4a" stroke="#fff" stroke-width="0.75"/>
<circle cx="321.84" cy="432.98" r="1.53" fill="#84ba4a" stroke="#fff" stroke-width="0.75"/>
<circle cx="316.46" cy="421.15" r="1.74" fill="#84ba4a" stroke="#fff" stroke-width="0.75"/>
<circle cx="315.69" cy="425.09" r="1.44" fill="#84ba4a" stroke="#fff" stroke-width="0.75"/>
<circle cx="318.77" cy="425.57" r="1.99" fill="#84ba4a" stroke="#fff" stroke-width="0.75"/>
<circle cx="322.61" cy="420.36" r="1.88" fill="#84ba4a" stroke="#fff" stroke-width="0.75"/>
<circle cx="326.45" cy="425.57" r="1.49" fill="#84ba4a" stroke="#fff" stroke-width="0.75"/>
<circle cx="329.52" cy="425.57" r="1.86" fill="#84ba4a" stroke="#fff" stroke-width="0.75"/>
<circle cx="338.73" cy="422.41" r="1.43" fill="#84ba4a" stroke="#fff" stroke-width="0.75"/>
<circle cx="283.44" cy="443.22" r="1.43" fill="#84ba4a" stroke="#fff" stroke-width="0.75"/>
<circle cx="291.88" cy="443.22" r="1.6" fill="#84ba4a" stroke="#fff" stroke-width="0.75"/>
<circle cx="293.42" cy="445.59" r="2.49" fill="#84ba4a" stroke="#fff" stroke-width="0.75"/>
<circle cx="294.96" cy="447.17" r="2" fill="#84ba4a" stroke="#fff" stroke-width="0.75"/>
<circle cx="298.8" cy="439.28" r="1.45" fill="#84ba4a" stroke="#fff" stroke-width="0.75"/>
<circle cx="304.17" cy="440.86" r="1.42" fill="#84ba4a" stroke="#fff" stroke-width="0.75"/>
<circle cx="321.84" cy="442.44" r="2.6" fill="#84ba4a" stroke="#fff" stroke-width="0.75"/>
<circle cx="324.91" cy="447.95" r="2.7" fill="#84ba4a" stroke="#fff" stroke-width="0.75"/>
<circle cx="326.45" cy="447.17" r="1.49" fill="#84ba4a" stroke="#fff" stroke-width="0.75"/>
<circle cx="318" cy="447.17" r="1.92" fill="#84ba4a" stroke="#fff" stroke-width="0.75"/>
<circle cx="318.77" cy="451.9" r="1.98" fill="#84ba4a" stroke="#fff" stroke-width="0.75"/>
<circle cx="321.84" cy="454.26" r="2.19" fill="#84ba4a" stroke="#fff" stroke-width="0.75"/>
<circle cx="326.45" cy="451.11" r="1.71" fill="#84ba4a" stroke="#fff" stroke-width="0.75"/>
<circle cx="335.66" cy="446.38" r="1.76" fill="#84ba4a" stroke="#fff" stroke-width="0.75"/>
<circle cx="334.13" cy="455.05" r="1.77" fill="#84ba4a" stroke="#fff" stroke-width="0.75"/>
<circle cx="310.32" cy="450.32" r="2.25" fill="#84ba4a" stroke="#fff" stroke-width="0.75"/>
<circle cx="298.8" cy="451.9" r="1.83" fill="#84ba4a" stroke="#fff" stroke-width="0.75"/>
<circle cx="272.68" cy="451.9" r="1.58" fill="#84ba4a" stroke="#fff" stroke-width="0.75"/>
<circle cx="253.48" cy="452.37" r="2.26" fill="#84ba4a" stroke="#fff" stroke-width="0.75"/>
<circle cx="256.56" cy="455.05" r="1.41" fill="#84ba4a" stroke="#fff" stroke-width="0.75"/>
<circle cx="258.09" cy="456.63" r="1.75" fill="#84ba4a" stroke="#fff" stroke-width="0.75"/>
<circle cx="247.34" cy="454.26" r="1.77" fill="#84ba4a" stroke="#fff" stroke-width="0.75"/>
<circle cx="240.43" cy="455.84" r="1.44" fill="#84ba4a" stroke="#fff" stroke-width="0.75"/>
<circle cx="239.97" cy="464.51" r="1.68" fill="#84ba4a" stroke="#fff" stroke-width="0.75"/>
<circle cx="240.43" cy="466.08" r="1.61" fill="#84ba4a" stroke="#fff" stroke-width="0.75"/>
<circle cx="284.2" cy="459.78" r="1.84" fill="#84ba4a" stroke="#fff" stroke-width="0.75"/>
<circle cx="287.28" cy="463.72" r="1.44" fill="#84ba4a" stroke="#fff" stroke-width="0.75"/>
<circle cx="303.4" cy="459.31" r="1.98" fill="#84ba4a" stroke="#fff" stroke-width="0.75"/>
<circle cx="311.85" cy="458.67" r="1.67" fill="#84ba4a" stroke="#fff" stroke-width="0.75"/>
<circle cx="314.16" cy="460.57" r="1.59" fill="#84ba4a" stroke="#fff" stroke-width="0.75"/>
<circle cx="262.7" cy="463.72" r="1.59" fill="#84ba4a" stroke="#fff" stroke-width="0.75"/>
<circle cx="239.97" cy="476.33" r="1.76" fill="#84ba4a" stroke="#fff" stroke-width="0.75"/>
<circle cx="242.73" cy="484.21" r="1.63" fill="#84ba4a" stroke="#fff" stroke-width="0.75"/>
<circle cx="276.22" cy="481.85" r="1.42" fill="#84ba4a" stroke="#fff" stroke-width="0.75"/>
<circle cx="321.84" cy="475.54" r="1.84" fill="#84ba4a" stroke="#fff" stroke-width="0.75"/>
<circle cx="325.68" cy="474.44" r="1.53" fill="#84ba4a" stroke="#fff" stroke-width="0.75"/>
<circle cx="328.75" cy="476.33" r="1.54" fill="#84ba4a" stroke="#fff" stroke-width="0.75"/>
<circle cx="332.59" cy="478.7" r="1.66" fill="#84ba4a" stroke="#fff" stroke-width="0.75"/>
<circle cx="338.73" cy="476.02" r="1.46" fill="#84ba4a" stroke="#fff" stroke-width="0.75"/>
<circle cx="340.27" cy="477.91" r="1.6" fill="#84ba4a" stroke="#fff" stroke-width="0.75"/>
<circle cx="318" cy="479.17" r="1.66" fill="#84ba4a" stroke="#fff" stroke-width="0.75"/>
<circle cx="314.93" cy="487.37" r="1.5" fill="#84ba4a" stroke="#fff" stroke-width="0.75"/>
<circle cx="311.85" cy="488.94" r="1.79" fill="#84ba4a" stroke="#fff" stroke-width="0.75"/>
<circle cx="333.36" cy="487.37" r="2.23" fill="#84ba4a" stroke="#fff" stroke-width="0.75"/>
<circle cx="328.75" cy="491.31" r="1.47" fill="#84ba4a" stroke="#fff" stroke-width="0.75"/>
<circle cx="336.43" cy="491.31" r="1.51" fill="#84ba4a" stroke="#fff" stroke-width="0.75"/>
<circle cx="341.04" cy="485.79" r="1.9" fill="#84ba4a" stroke="#fff" stroke-width="0.75"/>
<circle cx="299.56" cy="488.94" r="1.57" fill="#84ba4a" stroke="#fff" stroke-width="0.75"/>
<circle cx="302.64" cy="493.67" r="1.79" fill="#84ba4a" stroke="#fff" stroke-width="0.75"/>
<circle cx="306.48" cy="493.36" r="1.61" fill="#84ba4a" stroke="#fff" stroke-width="0.75"/>
<circle cx="305.71" cy="496.83" r="1.58" fill="#84ba4a" stroke="#fff" stroke-width="0.75"/>
<circle cx="301.1" cy="498.4" r="1.56" fill="#84ba4a" stroke="#fff" stroke-width="0.75"/>
<circle cx="294.96" cy="495.25" r="1.65" fill="#84ba4a" stroke="#fff" stroke-width="0.75"/>
<circle cx="293.42" cy="501.56" r="1.65" fill="#84ba4a" stroke="#fff" stroke-width="0.75"/>
<circle cx="297.26" cy="501.56" r="2.08" fill="#84ba4a" stroke="#fff" stroke-width="0.75"/>
<circle cx="310.32" cy="499.98" r="1.97" fill="#84ba4a" stroke="#fff" stroke-width="0.75"/>
<circle cx="314.16" cy="499.98" r="1.99" fill="#84ba4a" stroke="#fff" stroke-width="0.75"/>
<circle cx="319.53" cy="495.25" r="1.97" fill="#84ba4a" stroke="#fff" stroke-width="0.75"/>
<circle cx="324.14" cy="496.83" r="2.11" fill="#84ba4a" stroke="#fff" stroke-width="0.75"/>
<circle cx="327.21" cy="499.98" r="1.9" fill="#84ba4a" stroke="#fff" stroke-width="0.75"/>
<circle cx="330.29" cy="498.4" r="1.71" fill="#84ba4a" stroke="#fff" stroke-width="0.75"/>
<circle cx="336.43" cy="498.4" r="1.6" fill="#84ba4a" stroke="#fff" stroke-width="0.75"/>
<circle cx="340.27" cy="496.83" r="1.44" fill="#84ba4a" stroke="#fff" stroke-width="0.75"/>
<circle cx="253.94" cy="496.83" r="1.57" fill="#84ba4a" stroke="#fff" stroke-width="0.75"/>
<circle cx="271.15" cy="494.94" r="1.43" fill="#84ba4a" stroke="#fff" stroke-width="0.75"/>
<circle cx="274.22" cy="494.94" r="2.35" fill="#84ba4a" stroke="#fff" stroke-width="0.75"/>
<circle cx="291.12" cy="504.71" r="2.45" fill="#84ba4a" stroke="#fff" stroke-width="0.75"/>
<circle cx="324.14" cy="490.52" r="2.29" fill="#84ba4a" stroke="#fff" stroke-width="0.75"/>
<circle cx="333.36" cy="504.71" r="1.85" fill="#84ba4a" stroke="#fff" stroke-width="0.75"/>
<circle cx="359.43" cy="421.98" r="1.58" fill="#84ba4a" stroke="#fff" stroke-width="0.75"/>
<circle cx="354.78" cy="419.91" r="1.71" fill="#84ba4a" stroke="#fff" stroke-width="0.75"/>
<circle cx="388.89" cy="425.16" r="1.96" fill="#84ba4a" stroke="#fff" stroke-width="0.75"/>
<circle cx="442.38" cy="428.34" r="1.6" fill="#84ba4a" stroke="#fff" stroke-width="0.75"/>
<circle cx="354.47" cy="437.41" r="2.63" fill="#84ba4a" stroke="#fff" stroke-width="0.75"/>
<circle cx="360.98" cy="437.1" r="2.93" fill="#84ba4a" stroke="#fff" stroke-width="0.75"/>
<circle cx="362.53" cy="437.41" r="1.87" fill="#84ba4a" stroke="#fff" stroke-width="0.75"/>
<circle cx="365.94" cy="433.91" r="1.52" fill="#84ba4a" stroke="#fff" stroke-width="0.75"/>
<circle cx="374.93" cy="436.3" r="1.89" fill="#84ba4a" stroke="#fff" stroke-width="0.75"/>
<circle cx="379.59" cy="441.07" r="1.88" fill="#84ba4a" stroke="#fff" stroke-width="0.75"/>
<circle cx="371.06" cy="443.46" r="2.4" fill="#84ba4a" stroke="#fff" stroke-width="0.75"/>
<circle cx="348.58" cy="445.85" r="1.4" fill="#84ba4a" stroke="#fff" stroke-width="0.75"/>
<circle cx="352.45" cy="449.03" r="1.92" fill="#84ba4a" stroke="#fff" stroke-width="0.75"/>
<circle cx="350.9" cy="447.44" r="1.56" fill="#84ba4a" stroke="#fff" stroke-width="0.75"/>
<circle cx="360.67" cy="446.64" r="1.72" fill="#84ba4a" stroke="#fff" stroke-width="0.75"/>
<circle cx="361.76" cy="449.51" r="1.68" fill="#84ba4a" stroke="#fff" stroke-width="0.75"/>
<circle cx="384.24" cy="449.03" r="1.4" fill="#84ba4a" stroke="#fff" stroke-width="0.75"/>
<circle cx="390.44" cy="445.37" r="1.48" fill="#84ba4a" stroke="#fff" stroke-width="0.75"/>
<circle cx="388.89" cy="450.62" r="1.44" fill="#84ba4a" stroke="#fff" stroke-width="0.75"/>
<circle cx="393.54" cy="449.03" r="2.43" fill="#84ba4a" stroke="#fff" stroke-width="0.75"/>
<circle cx="388.11" cy="454.28" r="1.7" fill="#84ba4a" stroke="#fff" stroke-width="0.75"/>
<circle cx="392.76" cy="454.92" r="1.59" fill="#84ba4a" stroke="#fff" stroke-width="0.75"/>
<circle cx="398.19" cy="446.64" r="1.79" fill="#84ba4a" stroke="#fff" stroke-width="0.75"/>
<circle cx="401.29" cy="448.24" r="1.62" fill="#84ba4a" stroke="#fff" stroke-width="0.75"/>
<circle cx="398.97" cy="452.21" r="1.6" fill="#84ba4a" stroke="#fff" stroke-width="0.75"/>
<circle cx="399.74" cy="455.4" r="1.73" fill="#84ba4a" stroke="#fff" stroke-width="0.75"/>
<circle cx="405.94" cy="446.64" r="1.63" fill="#84ba4a" stroke="#fff" stroke-width="0.75"/>
<circle cx="409.35" cy="447.92" r="1.51" fill="#84ba4a" stroke="#fff" stroke-width="0.75"/>
<circle cx="412.92" cy="449.83" r="1.76" fill="#84ba4a" stroke="#fff" stroke-width="0.75"/>
<circle cx="405.94" cy="437.89" r="1.63" fill="#84ba4a" stroke="#fff" stroke-width="0.75"/>
<circle cx="408.27" cy="441.55" r="2.9" fill="#84ba4a" stroke="#fff" stroke-width="0.75"/>
<circle cx="410.59" cy="434.71" r="2.81" fill="#84ba4a" stroke="#fff" stroke-width="0.75"/>
<circle cx="399.43" cy="432.32" r="1.62" fill="#84ba4a" stroke="#fff" stroke-width="0.75"/>
<circle cx="419.59" cy="437.41" r="1.82" fill="#84ba4a" stroke="#fff" stroke-width="0.75"/>
<circle cx="427.96" cy="438.69" r="1.82" fill="#84ba4a" stroke="#fff" stroke-width="0.75"/>
<circle cx="446.57" cy="441.55" r="1.55" fill="#84ba4a" stroke="#fff" stroke-width="0.75"/>
<circle cx="426.1" cy="456.19" r="1.82" fill="#84ba4a" stroke="#fff" stroke-width="0.75"/>
<circle cx="407.49" cy="456.99" r="1.65" fill="#84ba4a" stroke="#fff" stroke-width="0.75"/>
<circle cx="397.42" cy="459.06" r="1.93" fill="#84ba4a" stroke="#fff" stroke-width="0.75"/>
<circle cx="395.09" cy="466.54" r="2.19" fill="#84ba4a" stroke="#fff" stroke-width="0.75"/>
<circle cx="397.88" cy="468.13" r="2.4" fill="#84ba4a" stroke="#fff" stroke-width="0.75"/>
<circle cx="402.84" cy="465.74" r="1.68" fill="#84ba4a" stroke="#fff" stroke-width="0.75"/>
<circle cx="403.62" cy="468.92" r="1.89" fill="#84ba4a" stroke="#fff" stroke-width="0.75"/>
<circle cx="404.39" cy="472.9" r="1.93" fill="#84ba4a" stroke="#fff" stroke-width="0.75"/>
<circle cx="408.27" cy="472.9" r="1.8" fill="#84ba4a" stroke="#fff" stroke-width="0.75"/>
<circle cx="413.39" cy="469.72" r="1.74" fill="#84ba4a" stroke="#fff" stroke-width="0.75"/>
<circle cx="414.47" cy="476.08" r="1.75" fill="#84ba4a" stroke="#fff" stroke-width="0.75"/>
<circle cx="422.69" cy="474.97" r="1.49" fill="#84ba4a" stroke="#fff" stroke-width="0.75"/>
<circle cx="431.06" cy="472.11" r="1.43" fill="#84ba4a" stroke="#fff" stroke-width="0.75"/>
<circle cx="435.4" cy="476.88" r="1.46" fill="#84ba4a" stroke="#fff" stroke-width="0.75"/>
<circle cx="430.75" cy="478.15" r="2.09" fill="#84ba4a" stroke="#fff" stroke-width="0.75"/>
<circle cx="436.95" cy="478.47" r="1.9" fill="#84ba4a" stroke="#fff" stroke-width="0.75"/>
<circle cx="440.83" cy="478.47" r="1.91" fill="#84ba4a" stroke="#fff" stroke-width="0.75"/>
<circle cx="433.85" cy="482.45" r="1.9" fill="#84ba4a" stroke="#fff" stroke-width="0.75"/>
<circle cx="437.73" cy="483.25" r="2.29" fill="#84ba4a" stroke="#fff" stroke-width="0.75"/>
<circle cx="442.38" cy="481.65" r="1.42" fill="#84ba4a" stroke="#fff" stroke-width="0.75"/>
<circle cx="445.48" cy="474.49" r="1.71" fill="#84ba4a" stroke="#fff" stroke-width="0.75"/>
<circle cx="444.7" cy="484.84" r="1.46" fill="#84ba4a" stroke="#fff" stroke-width="0.75"/>
<circle cx="440.05" cy="488.02" r="1.96" fill="#84ba4a" stroke="#fff" stroke-width="0.75"/>
<circle cx="423.77" cy="486.43" r="1.59" fill="#84ba4a" stroke="#fff" stroke-width="0.75"/>
<circle cx="426.87" cy="485.63" r="1.9" fill="#84ba4a" stroke="#fff" stroke-width="0.75"/>
<circle cx="428.43" cy="492.79" r="1.51" fill="#84ba4a" stroke="#fff" stroke-width="0.75"/>
<circle cx="426.1" cy="491.2" r="1.77" fill="#84ba4a" stroke="#fff" stroke-width="0.75"/>
<circle cx="423" cy="499.16" r="1.64" fill="#84ba4a" stroke="#fff" stroke-width="0.75"/>
<circle cx="427.34" cy="501.55" r="1.64" fill="#84ba4a" stroke="#fff" stroke-width="0.75"/>
<circle cx="429.2" cy="503.93" r="1.65" fill="#84ba4a" stroke="#fff" stroke-width="0.75"/>
<circle cx="416.8" cy="499.95" r="1.7" fill="#84ba4a" stroke="#fff" stroke-width="0.75"/>
<circle cx="344.23" cy="478.47" r="2.21" fill="#84ba4a" stroke="#fff" stroke-width="0.75"/>
<circle cx="348.58" cy="479.27" r="1.5" fill="#84ba4a" stroke="#fff" stroke-width="0.75"/>
<circle cx="351.99" cy="480.06" r="1.85" fill="#84ba4a" stroke="#fff" stroke-width="0.75"/>
<circle cx="350.9" cy="483.25" r="1.71" fill="#84ba4a" stroke="#fff" stroke-width="0.75"/>
<circle cx="344.7" cy="485.63" r="1.79" fill="#84ba4a" stroke="#fff" stroke-width="0.75"/>
<circle cx="347.03" cy="488.02" r="2.07" fill="#84ba4a" stroke="#fff" stroke-width="0.75"/>
<circle cx="352.92" cy="486.43" r="1.85" fill="#84ba4a" stroke="#fff" stroke-width="0.75"/>
<circle cx="352.45" cy="491.2" r="2.26" fill="#84ba4a" stroke="#fff" stroke-width="0.75"/>
<circle cx="349.82" cy="495.98" r="1.83" fill="#84ba4a" stroke="#fff" stroke-width="0.75"/>
<circle cx="343.92" cy="495.98" r="1.56" fill="#84ba4a" stroke="#fff" stroke-width="0.75"/>
<circle cx="348.58" cy="499.95" r="1.75" fill="#84ba4a" stroke="#fff" stroke-width="0.75"/>
<circle cx="353.23" cy="500.75" r="1.54" fill="#84ba4a" stroke="#fff" stroke-width="0.75"/>
<circle cx="354.78" cy="503.93" r="1.97" fill="#84ba4a" stroke="#fff" stroke-width="0.75"/>
<circle cx="361.76" cy="479.27" r="1.82" fill="#84ba4a" stroke="#fff" stroke-width="0.75"/>
<circle cx="362.53" cy="483.25" r="1.91" fill="#84ba4a" stroke="#fff" stroke-width="0.75"/>
<circle cx="365.32" cy="485.63" r="1.56" fill="#84ba4a" stroke="#fff" stroke-width="0.75"/>
<circle cx="364.08" cy="493.59" r="1.41" fill="#84ba4a" stroke="#fff" stroke-width="0.75"/>
<circle cx="363.31" cy="500.75" r="1.63" fill="#84ba4a" stroke="#fff" stroke-width="0.75"/>
<circle cx="374.93" cy="487.22" r="1.62" fill="#84ba4a" stroke="#fff" stroke-width="0.75"/>
<circle cx="378.81" cy="491.2" r="1.86" fill="#84ba4a" stroke="#fff" stroke-width="0.75"/>
<circle cx="375.71" cy="492.79" r="1.99" fill="#84ba4a" stroke="#fff" stroke-width="0.75"/>
<circle cx="377.26" cy="496.77" r="1.76" fill="#84ba4a" stroke="#fff" stroke-width="0.75"/>
<circle cx="377.72" cy="499.95" r="1.9" fill="#84ba4a" stroke="#fff" stroke-width="0.75"/>
<circle cx="381.91" cy="483.25" r="1.73" fill="#84ba4a" stroke="#fff" stroke-width="0.75"/>
<circle cx="388.11" cy="478.47" r="1.83" fill="#84ba4a" stroke="#fff" stroke-width="0.75"/>
<circle cx="290.66" cy="506.89" r="2.93" fill="#84ba4a" stroke="#fff" stroke-width="0.75"/>
<circle cx="310.01" cy="505.79" r="1.84" fill="#84ba4a" stroke="#fff" stroke-width="0.75"/>
<circle cx="314.16" cy="506.58" r="2.23" fill="#84ba4a" stroke="#fff" stroke-width="0.75"/>
<circle cx="330.29" cy="505.79" r="1.54" fill="#84ba4a" stroke="#fff" stroke-width="0.75"/>
<circle cx="338.73" cy="506.58" r="1.81" fill="#84ba4a" stroke="#fff" stroke-width="0.75"/>
<circle cx="306.94" cy="512.88" r="2.43" fill="#84ba4a" stroke="#fff" stroke-width="0.75"/>
<circle cx="312.62" cy="515.72" r="1.51" fill="#84ba4a" stroke="#fff" stroke-width="0.75"/>
<circle cx="314.93" cy="511.31" r="1.51" fill="#84ba4a" stroke="#fff" stroke-width="0.75"/>
<circle cx="311.09" cy="519.5" r="1.92" fill="#84ba4a" stroke="#fff" stroke-width="0.75"/>
<circle cx="338.73" cy="512.09" r="2.13" fill="#84ba4a" stroke="#fff" stroke-width="0.75"/>
<circle cx="339.81" cy="518.4" r="1.59" fill="#84ba4a" stroke="#fff" stroke-width="0.75"/>
<circle cx="250.41" cy="520.45" r="2.71" fill="#84ba4a" stroke="#fff" stroke-width="0.75"/>
<circle cx="296.49" cy="522.66" r="1.45" fill="#84ba4a" stroke="#fff" stroke-width="0.75"/>
<circle cx="303.4" cy="522.66" r="1.9" fill="#84ba4a" stroke="#fff" stroke-width="0.75"/>
<circle cx="274.99" cy="527.86" r="1.61" fill="#84ba4a" stroke="#fff" stroke-width="0.75"/>
<circle cx="245.5" cy="532.12" r="1.81" fill="#84ba4a" stroke="#fff" stroke-width="0.75"/>
<circle cx="287.28" cy="532.9" r="1.6" fill="#84ba4a" stroke="#fff" stroke-width="0.75"/>
<circle cx="304.94" cy="534.95" r="1.69" fill="#84ba4a" stroke="#fff" stroke-width="0.75"/>
<circle cx="325.37" cy="545.99" r="1.75" fill="#84ba4a" stroke="#fff" stroke-width="0.75"/>
<circle cx="311.09" cy="552.3" r="2.2" fill="#84ba4a" stroke="#fff" stroke-width="0.75"/>
<circle cx="313.39" cy="555.76" r="1.47" fill="#84ba4a" stroke="#fff" stroke-width="0.75"/>
<circle cx="316.15" cy="555.13" r="1.8" fill="#84ba4a" stroke="#fff" stroke-width="0.75"/>
<circle cx="315.69" cy="560.18" r="1.93" fill="#84ba4a" stroke="#fff" stroke-width="0.75"/>
<circle cx="334.89" cy="560.49" r="2.05" fill="#84ba4a" stroke="#fff" stroke-width="0.75"/>
<circle cx="341.81" cy="551.51" r="2.19" fill="#84ba4a" stroke="#fff" stroke-width="0.75"/>
<circle cx="342.27" cy="563.02" r="1.85" fill="#84ba4a" stroke="#fff" stroke-width="0.75"/>
<circle cx="305.71" cy="568.06" r="1.81" fill="#84ba4a" stroke="#fff" stroke-width="0.75"/>
<circle cx="299.56" cy="573.11" r="1.88" fill="#84ba4a" stroke="#fff" stroke-width="0.75"/>
<circle cx="312.62" cy="574.37" r="1.85" fill="#84ba4a" stroke="#fff" stroke-width="0.75"/>
<circle cx="290.35" cy="575.94" r="2.34" fill="#84ba4a" stroke="#fff" stroke-width="0.75"/>
<circle cx="296.19" cy="575.94" r="1.47" fill="#84ba4a" stroke="#fff" stroke-width="0.75"/>
<circle cx="323.37" cy="574.68" r="1.61" fill="#84ba4a" stroke="#fff" stroke-width="0.75"/>
<circle cx="332.59" cy="573.89" r="1.81" fill="#84ba4a" stroke="#fff" stroke-width="0.75"/>
<circle cx="335.66" cy="574.05" r="1.51" fill="#84ba4a" stroke="#fff" stroke-width="0.75"/>
<circle cx="245.8" cy="576.73" r="1.78" fill="#84ba4a" stroke="#fff" stroke-width="0.75"/>
<circle cx="273.14" cy="581.46" r="1.93" fill="#84ba4a" stroke="#fff" stroke-width="0.75"/>
<circle cx="252.72" cy="583.04" r="1.47" fill="#84ba4a" stroke="#fff" stroke-width="0.75"/>
<circle cx="316.77" cy="582.57" r="2.07" fill="#84ba4a" stroke="#fff" stroke-width="0.75"/>
<circle cx="321.84" cy="582.25" r="1.83" fill="#84ba4a" stroke="#fff" stroke-width="0.75"/>
<circle cx="261.93" cy="587.3" r="2.8" fill="#84ba4a" stroke="#fff" stroke-width="0.75"/>
<circle cx="336.43" cy="586.66" r="1.79" fill="#84ba4a" stroke="#fff" stroke-width="0.75"/>
<circle cx="341.81" cy="586.19" r="1.59" fill="#84ba4a" stroke="#fff" stroke-width="0.75"/>
<circle cx="294.19" cy="582.25" r="1.44" fill="#84ba4a" stroke="#fff" stroke-width="0.75"/>
<circle cx="346.25" cy="509.46" r="1.85" fill="#84ba4a" stroke="#fff" stroke-width="0.75"/>
<circle cx="352.45" cy="508.98" r="1.84" fill="#84ba4a" stroke="#fff" stroke-width="0.75"/>
<circle cx="351.68" cy="505.8" r="1.56" fill="#84ba4a" stroke="#fff" stroke-width="0.75"/>
<circle cx="389.66" cy="508.98" r="1.92" fill="#84ba4a" stroke="#fff" stroke-width="0.75"/>
<circle cx="390.44" cy="511.37" r="1.7" fill="#84ba4a" stroke="#fff" stroke-width="0.75"/>
<circle cx="391.99" cy="505.8" r="1.86" fill="#84ba4a" stroke="#fff" stroke-width="0.75"/>
<circle cx="426.1" cy="505.8" r="1.6" fill="#84ba4a" stroke="#fff" stroke-width="0.75"/>
<circle cx="426.1" cy="511.37" r="1.72" fill="#84ba4a" stroke="#fff" stroke-width="0.75"/>
<circle cx="428.43" cy="514.23" r="1.61" fill="#84ba4a" stroke="#fff" stroke-width="0.75"/>
<circle cx="430.75" cy="516.46" r="1.47" fill="#84ba4a" stroke="#fff" stroke-width="0.75"/>
<circle cx="359.12" cy="519.64" r="2.64" fill="#84ba4a" stroke="#fff" stroke-width="0.75"/>
<circle cx="353.23" cy="524.89" r="2.55" fill="#84ba4a" stroke="#fff" stroke-width="0.75"/>
<circle cx="356.02" cy="521.71" r="1.87" fill="#84ba4a" stroke="#fff" stroke-width="0.75"/>
<circle cx="425.79" cy="525.37" r="1.51" fill="#84ba4a" stroke="#fff" stroke-width="0.75"/>
<circle cx="433.54" cy="524.41" r="1.65" fill="#84ba4a" stroke="#fff" stroke-width="0.75"/>
<circle cx="439.74" cy="524.41" r="1.89" fill="#84ba4a" stroke="#fff" stroke-width="0.75"/>
<circle cx="438.81" cy="529.67" r="1.76" fill="#84ba4a" stroke="#fff" stroke-width="0.75"/>
<circle cx="392.76" cy="536.03" r="1.64" fill="#84ba4a" stroke="#fff" stroke-width="0.75"/>
<circle cx="395.09" cy="537.62" r="1.72" fill="#84ba4a" stroke="#fff" stroke-width="0.75"/>
<circle cx="397.88" cy="534.92" r="1.52" fill="#84ba4a" stroke="#fff" stroke-width="0.75"/>
<circle cx="402.53" cy="536.03" r="1.87" fill="#84ba4a" stroke="#fff" stroke-width="0.75"/>
<circle cx="436.18" cy="538.1" r="1.88" fill="#84ba4a" stroke="#fff" stroke-width="0.75"/>
<circle cx="440.83" cy="540.33" r="2.47" fill="#84ba4a" stroke="#fff" stroke-width="0.75"/>
<circle cx="437.26" cy="543.19" r="1.73" fill="#84ba4a" stroke="#fff" stroke-width="0.75"/>
<circle cx="440.83" cy="543.99" r="1.78" fill="#84ba4a" stroke="#fff" stroke-width="0.75"/>
<circle cx="436.18" cy="547.65" r="2.99" fill="#84ba4a" stroke="#fff" stroke-width="0.75"/>
<circle cx="440.05" cy="549.88" r="2.84" fill="#84ba4a" stroke="#fff" stroke-width="0.75"/>
<circle cx="442.38" cy="551.94" r="1.92" fill="#84ba4a" stroke="#fff" stroke-width="0.75"/>
<circle cx="443.93" cy="554.33" r="1.76" fill="#84ba4a" stroke="#fff" stroke-width="0.75"/>
<circle cx="438.5" cy="556.72" r="1.4" fill="#84ba4a" stroke="#fff" stroke-width="0.75"/>
<circle cx="433.08" cy="559.9" r="1.8" fill="#84ba4a" stroke="#fff" stroke-width="0.75"/>
<circle cx="436.95" cy="559.11" r="1.71" fill="#84ba4a" stroke="#fff" stroke-width="0.75"/>
<circle cx="441.6" cy="563.08" r="1.52" fill="#84ba4a" stroke="#fff" stroke-width="0.75"/>
<circle cx="344.7" cy="548.76" r="1.42" fill="#84ba4a" stroke="#fff" stroke-width="0.75"/>
<circle cx="354.47" cy="549.56" r="1.79" fill="#84ba4a" stroke="#fff" stroke-width="0.75"/>
<circle cx="367.96" cy="551.47" r="1.74" fill="#84ba4a" stroke="#fff" stroke-width="0.75"/>
<circle cx="364.86" cy="556.24" r="2.98" fill="#84ba4a" stroke="#fff" stroke-width="0.75"/>
<circle cx="377.26" cy="548.76" r="2.07" fill="#84ba4a" stroke="#fff" stroke-width="0.75"/>
<circle cx="377.72" cy="553.54" r="1.77" fill="#84ba4a" stroke="#fff" stroke-width="0.75"/>
<circle cx="399.74" cy="554.65" r="1.62" fill="#84ba4a" stroke="#fff" stroke-width="0.75"/>
<circle cx="406.72" cy="554.33" r="1.45" fill="#84ba4a" stroke="#fff" stroke-width="0.75"/>
<circle cx="409.82" cy="554.65" r="1.96" fill="#84ba4a" stroke="#fff" stroke-width="0.75"/>
<circle cx="413.39" cy="554.65" r="1.92" fill="#84ba4a" stroke="#fff" stroke-width="0.75"/>
<circle cx="404.39" cy="559.11" r="1.48" fill="#84ba4a" stroke="#fff" stroke-width="0.75"/>
<circle cx="410.28" cy="559.9" r="1.76" fill="#84ba4a" stroke="#fff" stroke-width="0.75"/>
<circle cx="398.97" cy="560.7" r="2.36" fill="#84ba4a" stroke="#fff" stroke-width="0.75"/>
<circle cx="398.97" cy="564.68" r="2.87" fill="#84ba4a" stroke="#fff" stroke-width="0.75"/>
<circle cx="418.35" cy="560.7" r="1.88" fill="#84ba4a" stroke="#fff" stroke-width="0.75"/>
<circle cx="425.32" cy="553.54" r="2.43" fill="#84ba4a" stroke="#fff" stroke-width="0.75"/>
<circle cx="423.77" cy="565.15" r="1.85" fill="#84ba4a" stroke="#fff" stroke-width="0.75"/>
<circle cx="366.41" cy="567.06" r="2.74" fill="#84ba4a" stroke="#fff" stroke-width="0.75"/>
<circle cx="355.55" cy="575.02" r="1.43" fill="#84ba4a" stroke="#fff" stroke-width="0.75"/>
<circle cx="356.02" cy="572.63" r="1.52" fill="#84ba4a" stroke="#fff" stroke-width="0.75"/>
<circle cx="348.58" cy="582.18" r="1.7" fill="#84ba4a" stroke="#fff" stroke-width="0.75"/>
<circle cx="364.08" cy="588.55" r="1.72" fill="#84ba4a" stroke="#fff" stroke-width="0.75"/>
<circle cx="388.89" cy="590.61" r="1.79" fill="#84ba4a" stroke="#fff" stroke-width="0.75"/>
<circle cx="343.61" cy="562.29" r="1.68" fill="#84ba4a" stroke="#fff" stroke-width="0.75"/>
</g>
<g clip-path="url(#cm22)"><g filter="url(#tb)">
<rect x="434.22" y="384.4" width="17.94" height="17.9" fill="#d9c43a"/>
<rect x="451.56" y="384.4" width="17.94" height="17.9" fill="#d9c43a"/>
<rect x="468.9" y="384.4" width="17.94" height="17.9" fill="#d9c43a"/>
<rect x="486.24" y="384.4" width="17.94" height="17.9" fill="#d9c43a"/>
<rect x="503.58" y="384.4" width="17.94" height="17.9" fill="#c8b02a"/>
<rect x="520.92" y="384.4" width="17.94" height="17.9" fill="#b09a1c"/>
<rect x="538.27" y="384.4" width="17.94" height="17.9" fill="#9a8616"/>
<rect x="555.61" y="384.4" width="17.94" height="17.9" fill="#c8b02a"/>
<rect x="572.95" y="384.4" width="17.94" height="17.9" fill="#d9c43a"/>
<rect x="590.29" y="384.4" width="17.94" height="17.9" fill="#e6d65c"/>
<rect x="607.63" y="384.4" width="17.94" height="17.9" fill="#d9c43a"/>
<rect x="624.98" y="384.4" width="17.94" height="17.9" fill="#e6d65c"/>
<rect x="642.32" y="384.4" width="17.94" height="17.9" fill="#e6d65c"/>
<rect x="659.66" y="384.4" width="17.94" height="17.9" fill="#e6d65c"/>
<rect x="677" y="384.4" width="17.94" height="17.9" fill="#e6d65c"/>
<rect x="694.34" y="384.4" width="17.94" height="17.9" fill="#e6d65c"/>
<rect x="434.22" y="401.7" width="17.94" height="17.9" fill="#d9c43a"/>
<rect x="451.56" y="401.7" width="17.94" height="17.9" fill="#d9c43a"/>
<rect x="468.9" y="401.7" width="17.94" height="17.9" fill="#d9c43a"/>
<rect x="486.24" y="401.7" width="17.94" height="17.9" fill="#d9c43a"/>
<rect x="503.58" y="401.7" width="17.94" height="17.9" fill="#c8b02a"/>
<rect x="520.92" y="401.7" width="17.94" height="17.9" fill="#b09a1c"/>
<rect x="538.27" y="401.7" width="17.94" height="17.9" fill="#9a8616"/>
<rect x="555.61" y="401.7" width="17.94" height="17.9" fill="#c8b02a"/>
<rect x="572.95" y="401.7" width="17.94" height="17.9" fill="#d9c43a"/>
<rect x="590.29" y="401.7" width="17.94" height="17.9" fill="#e6d65c"/>
<rect x="607.63" y="401.7" width="17.94" height="17.9" fill="#d9c43a"/>
<rect x="624.98" y="401.7" width="17.94" height="17.9" fill="#e6d65c"/>
<rect x="642.32" y="401.7" width="17.94" height="17.9" fill="#e6d65c"/>
<rect x="659.66" y="401.7" width="17.94" height="17.9" fill="#e6d65c"/>
<rect x="677" y="401.7" width="17.94" height="17.9" fill="#e6d65c"/>
<rect x="694.34" y="401.7" width="17.94" height="17.9" fill="#e6d65c"/>
<rect x="434.22" y="419" width="17.94" height="17.9" fill="#d9c43a"/>
<rect x="451.56" y="419" width="17.94" height="17.9" fill="#d9c43a"/>
<rect x="468.9" y="419" width="17.94" height="17.9" fill="#d9c43a"/>
<rect x="486.24" y="419" width="17.94" height="17.9" fill="#d9c43a"/>
<rect x="503.58" y="419" width="17.94" height="17.9" fill="#c8b02a"/>
<rect x="520.92" y="419" width="17.94" height="17.9" fill="#b09a1c"/>
<rect x="538.27" y="419" width="17.94" height="17.9" fill="#9a8616"/>
<rect x="555.61" y="419" width="17.94" height="17.9" fill="#c8b02a"/>
<rect x="572.95" y="419" width="17.94" height="17.9" fill="#d9c43a"/>
<rect x="590.29" y="419" width="17.94" height="17.9" fill="#e6d65c"/>
<rect x="607.63" y="419" width="17.94" height="17.9" fill="#d9c43a"/>
<rect x="624.98" y="419" width="17.94" height="17.9" fill="#e6d65c"/>
<rect x="642.32" y="419" width="17.94" height="17.9" fill="#e6d65c"/>
<rect x="659.66" y="419" width="17.94" height="17.9" fill="#e6d65c"/>
<rect x="677" y="419" width="17.94" height="17.9" fill="#e6d65c"/>
<rect x="694.34" y="419" width="17.94" height="17.9" fill="#e6d65c"/>
<rect x="434.22" y="436.3" width="17.94" height="17.9" fill="#e6d65c"/>
<rect x="451.56" y="436.3" width="17.94" height="17.9" fill="#e6d65c"/>
<rect x="468.9" y="436.3" width="17.94" height="17.9" fill="#e6d65c"/>
<rect x="486.24" y="436.3" width="17.94" height="17.9" fill="#e6d65c"/>
<rect x="503.58" y="436.3" width="17.94" height="17.9" fill="#e6d65c"/>
<rect x="520.92" y="436.3" width="17.94" height="17.9" fill="#c8b02a"/>
<rect x="538.27" y="436.3" width="17.94" height="17.9" fill="#b09a1c"/>
<rect x="555.61" y="436.3" width="17.94" height="17.9" fill="#d9c43a"/>
<rect x="572.95" y="436.3" width="17.94" height="17.9" fill="#efe590"/>
<rect x="590.29" y="436.3" width="17.94" height="17.9" fill="#e6d65c"/>
<rect x="607.63" y="436.3" width="17.94" height="17.9" fill="#b09a1c"/>
<rect x="624.98" y="436.3" width="17.94" height="17.9" fill="#9a8616"/>
<rect x="642.32" y="436.3" width="17.94" height="17.9" fill="#d9c43a"/>
<rect x="659.66" y="436.3" width="17.94" height="17.9" fill="#efe590"/>
<rect x="677" y="436.3" width="17.94" height="17.9" fill="#efe590"/>
<rect x="694.34" y="436.3" width="17.94" height="17.9" fill="#efe590"/>
<rect x="434.22" y="453.6" width="17.94" height="17.9" fill="#e6d65c"/>
<rect x="451.56" y="453.6" width="17.94" height="17.9" fill="#e6d65c"/>
<rect x="468.9" y="453.6" width="17.94" height="17.9" fill="#e6d65c"/>
<rect x="486.24" y="453.6" width="17.94" height="17.9" fill="#efe590"/>
<rect x="503.58" y="453.6" width="17.94" height="17.9" fill="#d9c43a"/>
<rect x="520.92" y="453.6" width="17.94" height="17.9" fill="#d9c43a"/>
<rect x="538.27" y="453.6" width="17.94" height="17.9" fill="#e6d65c"/>
<rect x="555.61" y="453.6" width="17.94" height="17.9" fill="#efe590"/>
<rect x="572.95" y="453.6" width="17.94" height="17.9" fill="#efe590"/>
<rect x="590.29" y="453.6" width="17.94" height="17.9" fill="#efe590"/>
<rect x="607.63" y="453.6" width="17.94" height="17.9" fill="#d9c43a"/>
<rect x="624.98" y="453.6" width="17.94" height="17.9" fill="#c8b02a"/>
<rect x="642.32" y="453.6" width="17.94" height="17.9" fill="#c8b02a"/>
<rect x="659.66" y="453.6" width="17.94" height="17.9" fill="#d9c43a"/>
<rect x="677" y="453.6" width="17.94" height="17.9" fill="#d9c43a"/>
<rect x="694.34" y="453.6" width="17.94" height="17.9" fill="#d9c43a"/>
<rect x="434.22" y="470.9" width="17.94" height="17.9" fill="#efe590"/>
<rect x="451.56" y="470.9" width="17.94" height="17.9" fill="#efe590"/>
<rect x="468.9" y="470.9" width="17.94" height="17.9" fill="#efe590"/>
<rect x="486.24" y="470.9" width="17.94" height="17.9" fill="#efe590"/>
<rect x="503.58" y="470.9" width="17.94" height="17.9" fill="#efe590"/>
<rect x="520.92" y="470.9" width="17.94" height="17.9" fill="#e6d65c"/>
<rect x="538.27" y="470.9" width="17.94" height="17.9" fill="#d9c43a"/>
<rect x="555.61" y="470.9" width="17.94" height="17.9" fill="#c8b02a"/>
<rect x="572.95" y="470.9" width="17.94" height="17.9" fill="#b09a1c"/>
<rect x="590.29" y="470.9" width="17.94" height="17.9" fill="#d9c43a"/>
<rect x="607.63" y="470.9" width="17.94" height="17.9" fill="#e6d65c"/>
<rect x="624.98" y="470.9" width="17.94" height="17.9" fill="#e6d65c"/>
<rect x="642.32" y="470.9" width="17.94" height="17.9" fill="#c8b02a"/>
<rect x="659.66" y="470.9" width="17.94" height="17.9" fill="#9a8616"/>
<rect x="677" y="470.9" width="17.94" height="17.9" fill="#9a8616"/>
<rect x="694.34" y="470.9" width="17.94" height="17.9" fill="#9a8616"/>
<rect x="434.22" y="488.2" width="17.94" height="17.9" fill="#e6d65c"/>
<rect x="451.56" y="488.2" width="17.94" height="17.9" fill="#e6d65c"/>
<rect x="468.9" y="488.2" width="17.94" height="17.9" fill="#e6d65c"/>
<rect x="486.24" y="488.2" width="17.94" height="17.9" fill="#e6d65c"/>
<rect x="503.58" y="488.2" width="17.94" height="17.9" fill="#e6d65c"/>
<rect x="520.92" y="488.2" width="17.94" height="17.9" fill="#d9c43a"/>
<rect x="538.27" y="488.2" width="17.94" height="17.9" fill="#b09a1c"/>
<rect x="555.61" y="488.2" width="17.94" height="17.9" fill="#b09a1c"/>
<rect x="572.95" y="488.2" width="17.94" height="17.9" fill="#b09a1c"/>
<rect x="590.29" y="488.2" width="17.94" height="17.9" fill="#d9c43a"/>
<rect x="607.63" y="488.2" width="17.94" height="17.9" fill="#e6d65c"/>
<rect x="624.98" y="488.2" width="17.94" height="17.9" fill="#efe590"/>
<rect x="642.32" y="488.2" width="17.94" height="17.9" fill="#c8b02a"/>
<rect x="659.66" y="488.2" width="17.94" height="17.9" fill="#9a8616"/>
<rect x="677" y="488.2" width="17.94" height="17.9" fill="#9a8616"/>
<rect x="694.34" y="488.2" width="17.94" height="17.9" fill="#9a8616"/>
<rect x="434.22" y="505.5" width="17.94" height="17.9" fill="#efe590"/>
<rect x="451.56" y="505.5" width="17.94" height="17.9" fill="#efe590"/>
<rect x="468.9" y="505.5" width="17.94" height="17.9" fill="#efe590"/>
<rect x="486.24" y="505.5" width="17.94" height="17.9" fill="#efe590"/>
<rect x="503.58" y="505.5" width="17.94" height="17.9" fill="#efe590"/>
<rect x="520.92" y="505.5" width="17.94" height="17.9" fill="#efe590"/>
<rect x="538.27" y="505.5" width="17.94" height="17.9" fill="#d9c43a"/>
<rect x="555.61" y="505.5" width="17.94" height="17.9" fill="#c8b02a"/>
<rect x="572.95" y="505.5" width="17.94" height="17.9" fill="#d9c43a"/>
<rect x="590.29" y="505.5" width="17.94" height="17.9" fill="#e6d65c"/>
<rect x="607.63" y="505.5" width="17.94" height="17.9" fill="#efe590"/>
<rect x="624.98" y="505.5" width="17.94" height="17.9" fill="#e6d65c"/>
<rect x="642.32" y="505.5" width="17.94" height="17.9" fill="#d9c43a"/>
<rect x="659.66" y="505.5" width="17.94" height="17.9" fill="#b09a1c"/>
<rect x="677" y="505.5" width="17.94" height="17.9" fill="#b09a1c"/>
<rect x="694.34" y="505.5" width="17.94" height="17.9" fill="#b09a1c"/>
<rect x="434.22" y="522.8" width="17.94" height="17.9" fill="#efe590"/>
<rect x="451.56" y="522.8" width="17.94" height="17.9" fill="#efe590"/>
<rect x="468.9" y="522.8" width="17.94" height="17.9" fill="#efe590"/>
<rect x="486.24" y="522.8" width="17.94" height="17.9" fill="#e6d65c"/>
<rect x="503.58" y="522.8" width="17.94" height="17.9" fill="#efe590"/>
<rect x="520.92" y="522.8" width="17.94" height="17.9" fill="#e6d65c"/>
<rect x="538.27" y="522.8" width="17.94" height="17.9" fill="#efe590"/>
<rect x="555.61" y="522.8" width="17.94" height="17.9" fill="#e6d65c"/>
<rect x="572.95" y="522.8" width="17.94" height="17.9" fill="#e6d65c"/>
<rect x="590.29" y="522.8" width="17.94" height="17.9" fill="#efe590"/>
<rect x="607.63" y="522.8" width="17.94" height="17.9" fill="#e6d65c"/>
<rect x="624.98" y="522.8" width="17.94" height="17.9" fill="#e6d65c"/>
<rect x="642.32" y="522.8" width="17.94" height="17.9" fill="#d9c43a"/>
<rect x="659.66" y="522.8" width="17.94" height="17.9" fill="#9a8616"/>
<rect x="677" y="522.8" width="17.94" height="17.9" fill="#9a8616"/>
<rect x="694.34" y="522.8" width="17.94" height="17.9" fill="#9a8616"/>
<rect x="434.22" y="540.1" width="17.94" height="17.9" fill="#efe590"/>
<rect x="451.56" y="540.1" width="17.94" height="17.9" fill="#efe590"/>
<rect x="468.9" y="540.1" width="17.94" height="17.9" fill="#efe590"/>
<rect x="486.24" y="540.1" width="17.94" height="17.9" fill="#efe590"/>
<rect x="503.58" y="540.1" width="17.94" height="17.9" fill="#efe590"/>
<rect x="520.92" y="540.1" width="17.94" height="17.9" fill="#e6d65c"/>
<rect x="538.27" y="540.1" width="17.94" height="17.9" fill="#efe590"/>
<rect x="555.61" y="540.1" width="17.94" height="17.9" fill="#efe590"/>
<rect x="572.95" y="540.1" width="17.94" height="17.9" fill="#e6d65c"/>
<rect x="590.29" y="540.1" width="17.94" height="17.9" fill="#e6d65c"/>
<rect x="607.63" y="540.1" width="17.94" height="17.9" fill="#d9c43a"/>
<rect x="624.98" y="540.1" width="17.94" height="17.9" fill="#d9c43a"/>
<rect x="642.32" y="540.1" width="17.94" height="17.9" fill="#c8b02a"/>
<rect x="659.66" y="540.1" width="17.94" height="17.9" fill="#9a8616"/>
<rect x="677" y="540.1" width="17.94" height="17.9" fill="#9a8616"/>
<rect x="694.34" y="540.1" width="17.94" height="17.9" fill="#9a8616"/>
<rect x="434.22" y="557.4" width="17.94" height="17.9" fill="#efe590"/>
<rect x="451.56" y="557.4" width="17.94" height="17.9" fill="#efe590"/>
<rect x="468.9" y="557.4" width="17.94" height="17.9" fill="#efe590"/>
<rect x="486.24" y="557.4" width="17.94" height="17.9" fill="#f4eca8"/>
<rect x="503.58" y="557.4" width="17.94" height="17.9" fill="#f4eca8"/>
<rect x="520.92" y="557.4" width="17.94" height="17.9" fill="#efe590"/>
<rect x="538.27" y="557.4" width="17.94" height="17.9" fill="#efe590"/>
<rect x="555.61" y="557.4" width="17.94" height="17.9" fill="#e6d65c"/>
<rect x="572.95" y="557.4" width="17.94" height="17.9" fill="#efe590"/>
<rect x="590.29" y="557.4" width="17.94" height="17.9" fill="#efe590"/>
<rect x="607.63" y="557.4" width="17.94" height="17.9" fill="#e6d65c"/>
<rect x="624.98" y="557.4" width="17.94" height="17.9" fill="#d9c43a"/>
<rect x="642.32" y="557.4" width="17.94" height="17.9" fill="#e6d65c"/>
<rect x="659.66" y="557.4" width="17.94" height="17.9" fill="#e6d65c"/>
<rect x="677" y="557.4" width="17.94" height="17.9" fill="#e6d65c"/>
<rect x="694.34" y="557.4" width="17.94" height="17.9" fill="#e6d65c"/>
<rect x="434.22" y="574.7" width="17.94" height="17.9" fill="#e6d65c"/>
<rect x="451.56" y="574.7" width="17.94" height="17.9" fill="#e6d65c"/>
<rect x="468.9" y="574.7" width="17.94" height="17.9" fill="#e6d65c"/>
<rect x="486.24" y="574.7" width="17.94" height="17.9" fill="#e6d65c"/>
<rect x="503.58" y="574.7" width="17.94" height="17.9" fill="#efe590"/>
<rect x="520.92" y="574.7" width="17.94" height="17.9" fill="#efe590"/>
<rect x="538.27" y="574.7" width="17.94" height="17.9" fill="#efe590"/>
<rect x="555.61" y="574.7" width="17.94" height="17.9" fill="#e6d65c"/>
<rect x="572.95" y="574.7" width="17.94" height="17.9" fill="#efe590"/>
<rect x="590.29" y="574.7" width="17.94" height="17.9" fill="#efe590"/>
<rect x="607.63" y="574.7" width="17.94" height="17.9" fill="#efe590"/>
<rect x="624.98" y="574.7" width="17.94" height="17.9" fill="#efe590"/>
<rect x="642.32" y="574.7" width="17.94" height="17.9" fill="#f4eca8"/>
<rect x="659.66" y="574.7" width="17.94" height="17.9" fill="#f4eca8"/>
<rect x="677" y="574.7" width="17.94" height="17.9" fill="#f4eca8"/>
<rect x="694.34" y="574.7" width="17.94" height="17.9" fill="#f4eca8"/>
<rect x="434.22" y="592" width="17.94" height="17.9" fill="#e6d65c"/>
<rect x="451.56" y="592" width="17.94" height="17.9" fill="#e6d65c"/>
<rect x="468.9" y="592" width="17.94" height="17.9" fill="#e6d65c"/>
<rect x="486.24" y="592" width="17.94" height="17.9" fill="#e6d65c"/>
<rect x="503.58" y="592" width="17.94" height="17.9" fill="#efe590"/>
<rect x="520.92" y="592" width="17.94" height="17.9" fill="#efe590"/>
<rect x="538.27" y="592" width="17.94" height="17.9" fill="#efe590"/>
<rect x="555.61" y="592" width="17.94" height="17.9" fill="#e6d65c"/>
<rect x="572.95" y="592" width="17.94" height="17.9" fill="#efe590"/>
<rect x="590.29" y="592" width="17.94" height="17.9" fill="#efe590"/>
<rect x="607.63" y="592" width="17.94" height="17.9" fill="#efe590"/>
<rect x="624.98" y="592" width="17.94" height="17.9" fill="#efe590"/>
<rect x="642.32" y="592" width="17.94" height="17.9" fill="#f4eca8"/>
<rect x="659.66" y="592" width="17.94" height="17.9" fill="#f4eca8"/>
<rect x="677" y="592" width="17.94" height="17.9" fill="#f4eca8"/>
<rect x="694.34" y="592" width="17.94" height="17.9" fill="#f4eca8"/>
<rect x="434.22" y="609.3" width="17.94" height="17.9" fill="#e6d65c"/>
<rect x="451.56" y="609.3" width="17.94" height="17.9" fill="#e6d65c"/>
<rect x="468.9" y="609.3" width="17.94" height="17.9" fill="#e6d65c"/>
<rect x="486.24" y="609.3" width="17.94" height="17.9" fill="#e6d65c"/>
<rect x="503.58" y="609.3" width="17.94" height="17.9" fill="#efe590"/>
<rect x="520.92" y="609.3" width="17.94" height="17.9" fill="#efe590"/>
<rect x="538.27" y="609.3" width="17.94" height="17.9" fill="#efe590"/>
<rect x="555.61" y="609.3" width="17.94" height="17.9" fill="#e6d65c"/>
<rect x="572.95" y="609.3" width="17.94" height="17.9" fill="#efe590"/>
<rect x="590.29" y="609.3" width="17.94" height="17.9" fill="#efe590"/>
<rect x="607.63" y="609.3" width="17.94" height="17.9" fill="#efe590"/>
<rect x="624.98" y="609.3" width="17.94" height="17.9" fill="#efe590"/>
<rect x="642.32" y="609.3" width="17.94" height="17.9" fill="#f4eca8"/>
<rect x="659.66" y="609.3" width="17.94" height="17.9" fill="#f4eca8"/>
<rect x="677" y="609.3" width="17.94" height="17.9" fill="#f4eca8"/>
<rect x="694.34" y="609.3" width="17.94" height="17.9" fill="#f4eca8"/>
</g>
<g filter="url(#sb)" fill="none" stroke="#f4eca8" stroke-linecap="round" stroke-opacity="0.55">
<path d="M468.9,510.34 C473.06,509.54 486.24,507 493.87,505.5 C501.5,504 506.18,503.57 514.68,501.35 C523.18,499.13 539.83,493.71 544.86,492.18" stroke-width="4"/>
<path d="M489.71,534.91 C495.36,533.35 511.49,528.6 523.63,525.57 C535.77,522.54 550.41,519.37 562.54,516.75 C574.68,514.12 585.75,512.91 596.47,509.82 C607.18,506.74 621.78,500.17 626.85,498.23" stroke-width="5"/>
<path d="M468.9,579.89 C474,578.42 489.09,574.24 499.49,571.07 C509.9,567.9 521.24,563.89 531.33,560.86 C541.42,557.83 547.67,556.28 560.05,552.9 C572.43,549.53 590.43,544.68 605.62,540.62 C620.81,536.55 643.6,530.53 651.2,528.51" stroke-width="5"/>
<path d="M560.05,592 C565.67,589.98 583.63,583.38 593.76,579.89 C603.89,576.4 608.67,575.07 620.81,571.07 C632.95,567.06 658.96,558.38 666.6,555.84" stroke-width="5"/>
<path d="M473.06,470.9 C476.53,469.46 485.89,465.13 493.87,462.25 C501.85,459.37 516.42,455.04 520.92,453.6" stroke-width="3.5"/>
</g>
<g filter="url(#db)" fill="#9a8418" fill-opacity="0.55">
<ellipse cx="539.65" cy="427.65" rx="18.73" ry="10.38" transform="rotate(0 539.65 427.65)"/>
<ellipse cx="627.06" cy="453.6" rx="14.57" ry="12.11" transform="rotate(0 627.06 453.6)"/>
<ellipse cx="575.03" cy="489.93" rx="27.05" ry="12.97" transform="rotate(-15 575.03 489.93)"/>
<ellipse cx="670.76" cy="488.2" rx="8.32" ry="22.49" transform="rotate(0 670.76 488.2)"/>
<ellipse cx="670.76" cy="543.56" rx="8.32" ry="19.03" transform="rotate(0 670.76 543.56)"/>
<ellipse cx="537.57" cy="457.06" rx="6.24" ry="8.65" transform="rotate(0 537.57 457.06)"/>
<ellipse cx="652.03" cy="560.86" rx="10.41" ry="6.92" transform="rotate(0 652.03 560.86)"/>
</g>
<circle cx="479.39" cy="421.94" r="1.73" fill="#84ba4a" stroke="#fff" stroke-width="0.75"/>
<circle cx="484.37" cy="420.36" r="1.76" fill="#84ba4a" stroke="#fff" stroke-width="0.75"/>
<circle cx="489.04" cy="421.47" r="1.44" fill="#84ba4a" stroke="#fff" stroke-width="0.75"/>
<circle cx="492.62" cy="423.04" r="1.9" fill="#84ba4a" stroke="#fff" stroke-width="0.75"/>
<circle cx="490.6" cy="427.77" r="1.54" fill="#84ba4a" stroke="#fff" stroke-width="0.75"/>
<circle cx="471.92" cy="429.82" r="2.24" fill="#84ba4a" stroke="#fff" stroke-width="0.75"/>
<circle cx="466.47" cy="429.04" r="1.69" fill="#84ba4a" stroke="#fff" stroke-width="0.75"/>
<circle cx="466.78" cy="435.34" r="1.49" fill="#84ba4a" stroke="#fff" stroke-width="0.75"/>
<circle cx="496.82" cy="436.6" r="1.92" fill="#84ba4a" stroke="#fff" stroke-width="0.75"/>
<circle cx="501.49" cy="435.34" r="1.84" fill="#84ba4a" stroke="#fff" stroke-width="0.75"/>
<circle cx="504.61" cy="434.55" r="1.44" fill="#84ba4a" stroke="#fff" stroke-width="0.75"/>
<circle cx="506.94" cy="433.77" r="1.75" fill="#84ba4a" stroke="#fff" stroke-width="0.75"/>
<circle cx="504.61" cy="438.18" r="1.42" fill="#84ba4a" stroke="#fff" stroke-width="0.75"/>
<circle cx="511.61" cy="434.55" r="1.68" fill="#84ba4a" stroke="#fff" stroke-width="0.75"/>
<circle cx="514.72" cy="433.77" r="1.93" fill="#84ba4a" stroke="#fff" stroke-width="0.75"/>
<circle cx="516.28" cy="422.41" r="1.95" fill="#84ba4a" stroke="#fff" stroke-width="0.75"/>
<circle cx="515.5" cy="429.82" r="1.88" fill="#84ba4a" stroke="#fff" stroke-width="0.75"/>
<circle cx="518.62" cy="432.19" r="1.96" fill="#84ba4a" stroke="#fff" stroke-width="0.75"/>
<circle cx="520.17" cy="434.55" r="1.46" fill="#84ba4a" stroke="#fff" stroke-width="0.75"/>
<circle cx="524.06" cy="419.89" r="1.53" fill="#84ba4a" stroke="#fff" stroke-width="0.75"/>
<circle cx="527.18" cy="420.84" r="2.22" fill="#84ba4a" stroke="#fff" stroke-width="0.75"/>
<circle cx="523.29" cy="425.09" r="1.58" fill="#84ba4a" stroke="#fff" stroke-width="0.75"/>
<circle cx="527.96" cy="425.09" r="1.63" fill="#84ba4a" stroke="#fff" stroke-width="0.75"/>
<circle cx="531.85" cy="428.25" r="1.75" fill="#84ba4a" stroke="#fff" stroke-width="0.75"/>
<circle cx="525.62" cy="429.82" r="1.94" fill="#84ba4a" stroke="#fff" stroke-width="0.75"/>
<circle cx="533.4" cy="433.77" r="1.96" fill="#84ba4a" stroke="#fff" stroke-width="0.75"/>
<circle cx="539.63" cy="429.35" r="1.99" fill="#84ba4a" stroke="#fff" stroke-width="0.75"/>
<circle cx="540.41" cy="434.55" r="1.5" fill="#84ba4a" stroke="#fff" stroke-width="0.75"/>
<circle cx="538.07" cy="434.55" r="1.98" fill="#84ba4a" stroke="#fff" stroke-width="0.75"/>
<circle cx="545.86" cy="432.98" r="2.28" fill="#84ba4a" stroke="#fff" stroke-width="0.75"/>
<circle cx="549.75" cy="432.98" r="1.53" fill="#84ba4a" stroke="#fff" stroke-width="0.75"/>
<circle cx="544.3" cy="421.15" r="1.74" fill="#84ba4a" stroke="#fff" stroke-width="0.75"/>
<circle cx="543.52" cy="425.09" r="1.44" fill="#84ba4a" stroke="#fff" stroke-width="0.75"/>
<circle cx="546.64" cy="425.57" r="1.99" fill="#84ba4a" stroke="#fff" stroke-width="0.75"/>
<circle cx="550.53" cy="420.36" r="1.88" fill="#84ba4a" stroke="#fff" stroke-width="0.75"/>
<circle cx="554.42" cy="425.57" r="1.49" fill="#84ba4a" stroke="#fff" stroke-width="0.75"/>
<circle cx="557.53" cy="425.57" r="1.86" fill="#84ba4a" stroke="#fff" stroke-width="0.75"/>
<circle cx="566.87" cy="422.41" r="1.43" fill="#84ba4a" stroke="#fff" stroke-width="0.75"/>
<circle cx="510.83" cy="443.22" r="1.43" fill="#84ba4a" stroke="#fff" stroke-width="0.75"/>
<circle cx="519.39" cy="443.22" r="1.6" fill="#84ba4a" stroke="#fff" stroke-width="0.75"/>
<circle cx="520.95" cy="445.59" r="2.49" fill="#84ba4a" stroke="#fff" stroke-width="0.75"/>
<circle cx="522.51" cy="447.17" r="2" fill="#84ba4a" stroke="#fff" stroke-width="0.75"/>
<circle cx="526.4" cy="439.28" r="1.45" fill="#84ba4a" stroke="#fff" stroke-width="0.75"/>
<circle cx="531.85" cy="440.86" r="1.42" fill="#84ba4a" stroke="#fff" stroke-width="0.75"/>
<circle cx="549.75" cy="442.44" r="2.6" fill="#84ba4a" stroke="#fff" stroke-width="0.75"/>
<circle cx="552.86" cy="447.95" r="2.7" fill="#84ba4a" stroke="#fff" stroke-width="0.75"/>
<circle cx="554.42" cy="447.17" r="1.49" fill="#84ba4a" stroke="#fff" stroke-width="0.75"/>
<circle cx="545.86" cy="447.17" r="1.92" fill="#84ba4a" stroke="#fff" stroke-width="0.75"/>
<circle cx="546.64" cy="451.9" r="1.98" fill="#84ba4a" stroke="#fff" stroke-width="0.75"/>
<circle cx="549.75" cy="454.26" r="2.19" fill="#84ba4a" stroke="#fff" stroke-width="0.75"/>
<circle cx="554.42" cy="451.11" r="1.71" fill="#84ba4a" stroke="#fff" stroke-width="0.75"/>
<circle cx="563.76" cy="446.38" r="1.76" fill="#84ba4a" stroke="#fff" stroke-width="0.75"/>
<circle cx="562.2" cy="455.05" r="1.77" fill="#84ba4a" stroke="#fff" stroke-width="0.75"/>
<circle cx="538.07" cy="450.32" r="2.25" fill="#84ba4a" stroke="#fff" stroke-width="0.75"/>
<circle cx="526.4" cy="451.9" r="1.83" fill="#84ba4a" stroke="#fff" stroke-width="0.75"/>
<circle cx="499.94" cy="451.9" r="1.58" fill="#84ba4a" stroke="#fff" stroke-width="0.75"/>
<circle cx="480.48" cy="452.37" r="2.26" fill="#84ba4a" stroke="#fff" stroke-width="0.75"/>
<circle cx="483.59" cy="455.05" r="1.41" fill="#84ba4a" stroke="#fff" stroke-width="0.75"/>
<circle cx="485.15" cy="456.63" r="1.75" fill="#84ba4a" stroke="#fff" stroke-width="0.75"/>
<circle cx="474.25" cy="454.26" r="1.77" fill="#84ba4a" stroke="#fff" stroke-width="0.75"/>
<circle cx="467.25" cy="455.84" r="1.44" fill="#84ba4a" stroke="#fff" stroke-width="0.75"/>
<circle cx="466.78" cy="464.51" r="1.68" fill="#84ba4a" stroke="#fff" stroke-width="0.75"/>
<circle cx="467.25" cy="466.08" r="1.61" fill="#84ba4a" stroke="#fff" stroke-width="0.75"/>
<circle cx="511.61" cy="459.78" r="1.84" fill="#84ba4a" stroke="#fff" stroke-width="0.75"/>
<circle cx="514.72" cy="463.72" r="1.44" fill="#84ba4a" stroke="#fff" stroke-width="0.75"/>
<circle cx="531.07" cy="459.31" r="1.98" fill="#84ba4a" stroke="#fff" stroke-width="0.75"/>
<circle cx="539.63" cy="458.67" r="1.67" fill="#84ba4a" stroke="#fff" stroke-width="0.75"/>
<circle cx="541.97" cy="460.57" r="1.59" fill="#84ba4a" stroke="#fff" stroke-width="0.75"/>
<circle cx="489.82" cy="463.72" r="1.59" fill="#84ba4a" stroke="#fff" stroke-width="0.75"/>
<circle cx="466.78" cy="476.33" r="1.76" fill="#84ba4a" stroke="#fff" stroke-width="0.75"/>
<circle cx="469.58" cy="484.21" r="1.63" fill="#84ba4a" stroke="#fff" stroke-width="0.75"/>
<circle cx="503.52" cy="481.85" r="1.42" fill="#84ba4a" stroke="#fff" stroke-width="0.75"/>
<circle cx="549.75" cy="475.54" r="1.84" fill="#84ba4a" stroke="#fff" stroke-width="0.75"/>
<circle cx="553.64" cy="474.44" r="1.53" fill="#84ba4a" stroke="#fff" stroke-width="0.75"/>
<circle cx="556.75" cy="476.33" r="1.54" fill="#84ba4a" stroke="#fff" stroke-width="0.75"/>
<circle cx="560.65" cy="478.7" r="1.66" fill="#84ba4a" stroke="#fff" stroke-width="0.75"/>
<circle cx="566.87" cy="476.02" r="1.46" fill="#84ba4a" stroke="#fff" stroke-width="0.75"/>
<circle cx="568.43" cy="477.91" r="1.6" fill="#84ba4a" stroke="#fff" stroke-width="0.75"/>
<circle cx="545.86" cy="479.17" r="1.66" fill="#84ba4a" stroke="#fff" stroke-width="0.75"/>
<circle cx="542.74" cy="487.37" r="1.5" fill="#84ba4a" stroke="#fff" stroke-width="0.75"/>
<circle cx="539.63" cy="488.94" r="1.79" fill="#84ba4a" stroke="#fff" stroke-width="0.75"/>
<circle cx="561.42" cy="487.37" r="2.23" fill="#84ba4a" stroke="#fff" stroke-width="0.75"/>
<circle cx="556.75" cy="491.31" r="1.47" fill="#84ba4a" stroke="#fff" stroke-width="0.75"/>
<circle cx="564.54" cy="491.31" r="1.51" fill="#84ba4a" stroke="#fff" stroke-width="0.75"/>
<circle cx="569.21" cy="485.79" r="1.9" fill="#84ba4a" stroke="#fff" stroke-width="0.75"/>
<circle cx="527.18" cy="488.94" r="1.57" fill="#84ba4a" stroke="#fff" stroke-width="0.75"/>
<circle cx="530.29" cy="493.67" r="1.79" fill="#84ba4a" stroke="#fff" stroke-width="0.75"/>
<circle cx="534.18" cy="493.36" r="1.61" fill="#84ba4a" stroke="#fff" stroke-width="0.75"/>
<circle cx="533.4" cy="496.83" r="1.58" fill="#84ba4a" stroke="#fff" stroke-width="0.75"/>
<circle cx="528.73" cy="498.4" r="1.56" fill="#84ba4a" stroke="#fff" stroke-width="0.75"/>
<circle cx="522.51" cy="495.25" r="1.65" fill="#84ba4a" stroke="#fff" stroke-width="0.75"/>
<circle cx="520.95" cy="501.56" r="1.65" fill="#84ba4a" stroke="#fff" stroke-width="0.75"/>
<circle cx="524.84" cy="501.56" r="2.08" fill="#84ba4a" stroke="#fff" stroke-width="0.75"/>
<circle cx="538.07" cy="499.98" r="1.97" fill="#84ba4a" stroke="#fff" stroke-width="0.75"/>
<circle cx="541.97" cy="499.98" r="1.99" fill="#84ba4a" stroke="#fff" stroke-width="0.75"/>
<circle cx="547.41" cy="495.25" r="1.97" fill="#84ba4a" stroke="#fff" stroke-width="0.75"/>
<circle cx="552.08" cy="496.83" r="2.11" fill="#84ba4a" stroke="#fff" stroke-width="0.75"/>
<circle cx="555.2" cy="499.98" r="1.9" fill="#84ba4a" stroke="#fff" stroke-width="0.75"/>
<circle cx="558.31" cy="498.4" r="1.71" fill="#84ba4a" stroke="#fff" stroke-width="0.75"/>
<circle cx="564.54" cy="498.4" r="1.6" fill="#84ba4a" stroke="#fff" stroke-width="0.75"/>
<circle cx="568.43" cy="496.83" r="1.44" fill="#84ba4a" stroke="#fff" stroke-width="0.75"/>
<circle cx="480.94" cy="496.83" r="1.57" fill="#84ba4a" stroke="#fff" stroke-width="0.75"/>
<circle cx="498.38" cy="494.94" r="1.43" fill="#84ba4a" stroke="#fff" stroke-width="0.75"/>
<circle cx="501.49" cy="494.94" r="2.35" fill="#84ba4a" stroke="#fff" stroke-width="0.75"/>
<circle cx="518.62" cy="504.71" r="2.45" fill="#84ba4a" stroke="#fff" stroke-width="0.75"/>
<circle cx="552.08" cy="490.52" r="2.29" fill="#84ba4a" stroke="#fff" stroke-width="0.75"/>
<circle cx="561.42" cy="504.71" r="1.85" fill="#84ba4a" stroke="#fff" stroke-width="0.75"/>
<circle cx="587.85" cy="421.98" r="1.58" fill="#84ba4a" stroke="#fff" stroke-width="0.75"/>
<circle cx="583.13" cy="419.91" r="1.71" fill="#84ba4a" stroke="#fff" stroke-width="0.75"/>
<circle cx="617.7" cy="425.16" r="1.96" fill="#84ba4a" stroke="#fff" stroke-width="0.75"/>
<circle cx="671.91" cy="428.34" r="1.6" fill="#84ba4a" stroke="#fff" stroke-width="0.75"/>
<circle cx="582.82" cy="437.41" r="2.63" fill="#84ba4a" stroke="#fff" stroke-width="0.75"/>
<circle cx="589.42" cy="437.1" r="2.93" fill="#84ba4a" stroke="#fff" stroke-width="0.75"/>
<circle cx="590.99" cy="437.41" r="1.87" fill="#84ba4a" stroke="#fff" stroke-width="0.75"/>
<circle cx="594.45" cy="433.91" r="1.52" fill="#84ba4a" stroke="#fff" stroke-width="0.75"/>
<circle cx="603.56" cy="436.3" r="1.89" fill="#84ba4a" stroke="#fff" stroke-width="0.75"/>
<circle cx="608.27" cy="441.07" r="1.88" fill="#84ba4a" stroke="#fff" stroke-width="0.75"/>
<circle cx="599.63" cy="443.46" r="2.4" fill="#84ba4a" stroke="#fff" stroke-width="0.75"/>
<circle cx="576.85" cy="445.85" r="1.4" fill="#84ba4a" stroke="#fff" stroke-width="0.75"/>
<circle cx="580.78" cy="449.03" r="1.92" fill="#84ba4a" stroke="#fff" stroke-width="0.75"/>
<circle cx="579.2" cy="447.44" r="1.56" fill="#84ba4a" stroke="#fff" stroke-width="0.75"/>
<circle cx="589.1" cy="446.64" r="1.72" fill="#84ba4a" stroke="#fff" stroke-width="0.75"/>
<circle cx="590.2" cy="449.51" r="1.68" fill="#84ba4a" stroke="#fff" stroke-width="0.75"/>
<circle cx="612.99" cy="449.03" r="1.4" fill="#84ba4a" stroke="#fff" stroke-width="0.75"/>
<circle cx="619.27" cy="445.37" r="1.48" fill="#84ba4a" stroke="#fff" stroke-width="0.75"/>
<circle cx="617.7" cy="450.62" r="1.44" fill="#84ba4a" stroke="#fff" stroke-width="0.75"/>
<circle cx="622.41" cy="449.03" r="2.43" fill="#84ba4a" stroke="#fff" stroke-width="0.75"/>
<circle cx="616.91" cy="454.28" r="1.7" fill="#84ba4a" stroke="#fff" stroke-width="0.75"/>
<circle cx="621.63" cy="454.92" r="1.59" fill="#84ba4a" stroke="#fff" stroke-width="0.75"/>
<circle cx="627.13" cy="446.64" r="1.79" fill="#84ba4a" stroke="#fff" stroke-width="0.75"/>
<circle cx="630.27" cy="448.24" r="1.62" fill="#84ba4a" stroke="#fff" stroke-width="0.75"/>
<circle cx="627.91" cy="452.21" r="1.6" fill="#84ba4a" stroke="#fff" stroke-width="0.75"/>
<circle cx="628.7" cy="455.4" r="1.73" fill="#84ba4a" stroke="#fff" stroke-width="0.75"/>
<circle cx="634.98" cy="446.64" r="1.63" fill="#84ba4a" stroke="#fff" stroke-width="0.75"/>
<circle cx="638.44" cy="447.92" r="1.51" fill="#84ba4a" stroke="#fff" stroke-width="0.75"/>
<circle cx="642.05" cy="449.83" r="1.76" fill="#84ba4a" stroke="#fff" stroke-width="0.75"/>
<circle cx="634.98" cy="437.89" r="1.63" fill="#84ba4a" stroke="#fff" stroke-width="0.75"/>
<circle cx="637.34" cy="441.55" r="2.9" fill="#84ba4a" stroke="#fff" stroke-width="0.75"/>
<circle cx="639.7" cy="434.71" r="2.81" fill="#84ba4a" stroke="#fff" stroke-width="0.75"/>
<circle cx="628.38" cy="432.32" r="1.62" fill="#84ba4a" stroke="#fff" stroke-width="0.75"/>
<circle cx="648.81" cy="437.41" r="1.82" fill="#84ba4a" stroke="#fff" stroke-width="0.75"/>
<circle cx="657.3" cy="438.69" r="1.82" fill="#84ba4a" stroke="#fff" stroke-width="0.75"/>
<circle cx="676.15" cy="441.55" r="1.55" fill="#84ba4a" stroke="#fff" stroke-width="0.75"/>
<circle cx="655.41" cy="456.19" r="1.82" fill="#84ba4a" stroke="#fff" stroke-width="0.75"/>
<circle cx="636.56" cy="456.99" r="1.65" fill="#84ba4a" stroke="#fff" stroke-width="0.75"/>
<circle cx="626.34" cy="459.06" r="1.93" fill="#84ba4a" stroke="#fff" stroke-width="0.75"/>
<circle cx="623.99" cy="466.54" r="2.19" fill="#84ba4a" stroke="#fff" stroke-width="0.75"/>
<circle cx="626.81" cy="468.13" r="2.4" fill="#84ba4a" stroke="#fff" stroke-width="0.75"/>
<circle cx="631.84" cy="465.74" r="1.68" fill="#84ba4a" stroke="#fff" stroke-width="0.75"/>
<circle cx="632.63" cy="468.92" r="1.89" fill="#84ba4a" stroke="#fff" stroke-width="0.75"/>
<circle cx="633.41" cy="472.9" r="1.93" fill="#84ba4a" stroke="#fff" stroke-width="0.75"/>
<circle cx="637.34" cy="472.9" r="1.8" fill="#84ba4a" stroke="#fff" stroke-width="0.75"/>
<circle cx="642.53" cy="469.72" r="1.74" fill="#84ba4a" stroke="#fff" stroke-width="0.75"/>
<circle cx="643.63" cy="476.08" r="1.75" fill="#84ba4a" stroke="#fff" stroke-width="0.75"/>
<circle cx="651.95" cy="474.97" r="1.49" fill="#84ba4a" stroke="#fff" stroke-width="0.75"/>
<circle cx="660.44" cy="472.11" r="1.43" fill="#84ba4a" stroke="#fff" stroke-width="0.75"/>
<circle cx="664.84" cy="476.88" r="1.46" fill="#84ba4a" stroke="#fff" stroke-width="0.75"/>
<circle cx="660.12" cy="478.15" r="2.09" fill="#84ba4a" stroke="#fff" stroke-width="0.75"/>
<circle cx="666.41" cy="478.47" r="1.9" fill="#84ba4a" stroke="#fff" stroke-width="0.75"/>
<circle cx="670.34" cy="478.47" r="1.91" fill="#84ba4a" stroke="#fff" stroke-width="0.75"/>
<circle cx="663.27" cy="482.45" r="1.9" fill="#84ba4a" stroke="#fff" stroke-width="0.75"/>
<circle cx="667.2" cy="483.25" r="2.29" fill="#84ba4a" stroke="#fff" stroke-width="0.75"/>
<circle cx="671.91" cy="481.65" r="1.42" fill="#84ba4a" stroke="#fff" stroke-width="0.75"/>
<circle cx="675.05" cy="474.49" r="1.71" fill="#84ba4a" stroke="#fff" stroke-width="0.75"/>
<circle cx="674.27" cy="484.84" r="1.46" fill="#84ba4a" stroke="#fff" stroke-width="0.75"/>
<circle cx="669.55" cy="488.02" r="1.96" fill="#84ba4a" stroke="#fff" stroke-width="0.75"/>
<circle cx="653.05" cy="486.43" r="1.59" fill="#84ba4a" stroke="#fff" stroke-width="0.75"/>
<circle cx="656.2" cy="485.63" r="1.9" fill="#84ba4a" stroke="#fff" stroke-width="0.75"/>
<circle cx="657.77" cy="492.79" r="1.51" fill="#84ba4a" stroke="#fff" stroke-width="0.75"/>
<circle cx="655.41" cy="491.2" r="1.77" fill="#84ba4a" stroke="#fff" stroke-width="0.75"/>
<circle cx="652.27" cy="499.16" r="1.64" fill="#84ba4a" stroke="#fff" stroke-width="0.75"/>
<circle cx="656.67" cy="501.55" r="1.64" fill="#84ba4a" stroke="#fff" stroke-width="0.75"/>
<circle cx="658.55" cy="503.93" r="1.65" fill="#84ba4a" stroke="#fff" stroke-width="0.75"/>
<circle cx="645.98" cy="499.95" r="1.7" fill="#84ba4a" stroke="#fff" stroke-width="0.75"/>
<circle cx="572.45" cy="478.47" r="2.21" fill="#84ba4a" stroke="#fff" stroke-width="0.75"/>
<circle cx="576.85" cy="479.27" r="1.5" fill="#84ba4a" stroke="#fff" stroke-width="0.75"/>
<circle cx="580.3" cy="480.06" r="1.85" fill="#84ba4a" stroke="#fff" stroke-width="0.75"/>
<circle cx="579.2" cy="483.25" r="1.71" fill="#84ba4a" stroke="#fff" stroke-width="0.75"/>
<circle cx="572.92" cy="485.63" r="1.79" fill="#84ba4a" stroke="#fff" stroke-width="0.75"/>
<circle cx="575.28" cy="488.02" r="2.07" fill="#84ba4a" stroke="#fff" stroke-width="0.75"/>
<circle cx="581.25" cy="486.43" r="1.85" fill="#84ba4a" stroke="#fff" stroke-width="0.75"/>
<circle cx="580.78" cy="491.2" r="2.26" fill="#84ba4a" stroke="#fff" stroke-width="0.75"/>
<circle cx="578.1" cy="495.98" r="1.83" fill="#84ba4a" stroke="#fff" stroke-width="0.75"/>
<circle cx="572.13" cy="495.98" r="1.56" fill="#84ba4a" stroke="#fff" stroke-width="0.75"/>
<circle cx="576.85" cy="499.95" r="1.75" fill="#84ba4a" stroke="#fff" stroke-width="0.75"/>
<circle cx="581.56" cy="500.75" r="1.54" fill="#84ba4a" stroke="#fff" stroke-width="0.75"/>
<circle cx="583.13" cy="503.93" r="1.97" fill="#84ba4a" stroke="#fff" stroke-width="0.75"/>
<circle cx="590.2" cy="479.27" r="1.82" fill="#84ba4a" stroke="#fff" stroke-width="0.75"/>
<circle cx="590.99" cy="483.25" r="1.91" fill="#84ba4a" stroke="#fff" stroke-width="0.75"/>
<circle cx="593.82" cy="485.63" r="1.56" fill="#84ba4a" stroke="#fff" stroke-width="0.75"/>
<circle cx="592.56" cy="493.59" r="1.41" fill="#84ba4a" stroke="#fff" stroke-width="0.75"/>
<circle cx="591.77" cy="500.75" r="1.63" fill="#84ba4a" stroke="#fff" stroke-width="0.75"/>
<circle cx="603.56" cy="487.22" r="1.62" fill="#84ba4a" stroke="#fff" stroke-width="0.75"/>
<circle cx="607.49" cy="491.2" r="1.86" fill="#84ba4a" stroke="#fff" stroke-width="0.75"/>
<circle cx="604.34" cy="492.79" r="1.99" fill="#84ba4a" stroke="#fff" stroke-width="0.75"/>
<circle cx="605.92" cy="496.77" r="1.76" fill="#84ba4a" stroke="#fff" stroke-width="0.75"/>
<circle cx="606.39" cy="499.95" r="1.9" fill="#84ba4a" stroke="#fff" stroke-width="0.75"/>
<circle cx="610.63" cy="483.25" r="1.73" fill="#84ba4a" stroke="#fff" stroke-width="0.75"/>
<circle cx="616.91" cy="478.47" r="1.83" fill="#84ba4a" stroke="#fff" stroke-width="0.75"/>
<circle cx="518.15" cy="506.89" r="2.93" fill="#84ba4a" stroke="#fff" stroke-width="0.75"/>
<circle cx="537.76" cy="505.79" r="1.84" fill="#84ba4a" stroke="#fff" stroke-width="0.75"/>
<circle cx="541.97" cy="506.58" r="2.23" fill="#84ba4a" stroke="#fff" stroke-width="0.75"/>
<circle cx="558.31" cy="505.79" r="1.54" fill="#84ba4a" stroke="#fff" stroke-width="0.75"/>
<circle cx="566.87" cy="506.58" r="1.81" fill="#84ba4a" stroke="#fff" stroke-width="0.75"/>
<circle cx="534.65" cy="512.88" r="2.43" fill="#84ba4a" stroke="#fff" stroke-width="0.75"/>
<circle cx="540.41" cy="515.72" r="1.51" fill="#84ba4a" stroke="#fff" stroke-width="0.75"/>
<circle cx="542.74" cy="511.31" r="1.51" fill="#84ba4a" stroke="#fff" stroke-width="0.75"/>
<circle cx="538.85" cy="519.5" r="1.92" fill="#84ba4a" stroke="#fff" stroke-width="0.75"/>
<circle cx="566.87" cy="512.09" r="2.13" fill="#84ba4a" stroke="#fff" stroke-width="0.75"/>
<circle cx="567.96" cy="518.4" r="1.59" fill="#84ba4a" stroke="#fff" stroke-width="0.75"/>
<circle cx="477.36" cy="520.45" r="2.71" fill="#84ba4a" stroke="#fff" stroke-width="0.75"/>
<circle cx="524.06" cy="522.66" r="1.45" fill="#84ba4a" stroke="#fff" stroke-width="0.75"/>
<circle cx="531.07" cy="522.66" r="1.9" fill="#84ba4a" stroke="#fff" stroke-width="0.75"/>
<circle cx="502.27" cy="527.86" r="1.61" fill="#84ba4a" stroke="#fff" stroke-width="0.75"/>
<circle cx="472.38" cy="532.12" r="1.81" fill="#84ba4a" stroke="#fff" stroke-width="0.75"/>
<circle cx="514.72" cy="532.9" r="1.6" fill="#84ba4a" stroke="#fff" stroke-width="0.75"/>
<circle cx="532.63" cy="534.95" r="1.69" fill="#84ba4a" stroke="#fff" stroke-width="0.75"/>
<circle cx="553.33" cy="545.99" r="1.75" fill="#84ba4a" stroke="#fff" stroke-width="0.75"/>
<circle cx="538.85" cy="552.3" r="2.2" fill="#84ba4a" stroke="#fff" stroke-width="0.75"/>
<circle cx="541.19" cy="555.76" r="1.47" fill="#84ba4a" stroke="#fff" stroke-width="0.75"/>
<circle cx="543.99" cy="555.13" r="1.8" fill="#84ba4a" stroke="#fff" stroke-width="0.75"/>
<circle cx="543.52" cy="560.18" r="1.93" fill="#84ba4a" stroke="#fff" stroke-width="0.75"/>
<circle cx="562.98" cy="560.49" r="2.05" fill="#84ba4a" stroke="#fff" stroke-width="0.75"/>
<circle cx="569.99" cy="551.51" r="2.19" fill="#84ba4a" stroke="#fff" stroke-width="0.75"/>
<circle cx="570.45" cy="563.02" r="1.85" fill="#84ba4a" stroke="#fff" stroke-width="0.75"/>
<circle cx="533.4" cy="568.06" r="1.81" fill="#84ba4a" stroke="#fff" stroke-width="0.75"/>
<circle cx="527.18" cy="573.11" r="1.88" fill="#84ba4a" stroke="#fff" stroke-width="0.75"/>
<circle cx="540.41" cy="574.37" r="1.85" fill="#84ba4a" stroke="#fff" stroke-width="0.75"/>
<circle cx="517.84" cy="575.94" r="2.34" fill="#84ba4a" stroke="#fff" stroke-width="0.75"/>
<circle cx="523.75" cy="575.94" r="1.47" fill="#84ba4a" stroke="#fff" stroke-width="0.75"/>
<circle cx="551.31" cy="574.68" r="1.61" fill="#84ba4a" stroke="#fff" stroke-width="0.75"/>
<circle cx="560.65" cy="573.89" r="1.81" fill="#84ba4a" stroke="#fff" stroke-width="0.75"/>
<circle cx="563.76" cy="574.05" r="1.51" fill="#84ba4a" stroke="#fff" stroke-width="0.75"/>
<circle cx="472.69" cy="576.73" r="1.78" fill="#84ba4a" stroke="#fff" stroke-width="0.75"/>
<circle cx="500.4" cy="581.46" r="1.93" fill="#84ba4a" stroke="#fff" stroke-width="0.75"/>
<circle cx="479.7" cy="583.04" r="1.47" fill="#84ba4a" stroke="#fff" stroke-width="0.75"/>
<circle cx="544.61" cy="582.57" r="2.07" fill="#84ba4a" stroke="#fff" stroke-width="0.75"/>
<circle cx="549.75" cy="582.25" r="1.83" fill="#84ba4a" stroke="#fff" stroke-width="0.75"/>
<circle cx="489.04" cy="587.3" r="2.8" fill="#84ba4a" stroke="#fff" stroke-width="0.75"/>
<circle cx="564.54" cy="586.66" r="1.79" fill="#84ba4a" stroke="#fff" stroke-width="0.75"/>
<circle cx="569.99" cy="586.19" r="1.59" fill="#84ba4a" stroke="#fff" stroke-width="0.75"/>
<circle cx="521.73" cy="582.25" r="1.44" fill="#84ba4a" stroke="#fff" stroke-width="0.75"/>
<circle cx="574.49" cy="509.46" r="1.85" fill="#84ba4a" stroke="#fff" stroke-width="0.75"/>
<circle cx="580.78" cy="508.98" r="1.84" fill="#84ba4a" stroke="#fff" stroke-width="0.75"/>
<circle cx="579.99" cy="505.8" r="1.56" fill="#84ba4a" stroke="#fff" stroke-width="0.75"/>
<circle cx="618.49" cy="508.98" r="1.92" fill="#84ba4a" stroke="#fff" stroke-width="0.75"/>
<circle cx="619.27" cy="511.37" r="1.7" fill="#84ba4a" stroke="#fff" stroke-width="0.75"/>
<circle cx="620.84" cy="505.8" r="1.86" fill="#84ba4a" stroke="#fff" stroke-width="0.75"/>
<circle cx="655.41" cy="505.8" r="1.6" fill="#84ba4a" stroke="#fff" stroke-width="0.75"/>
<circle cx="655.41" cy="511.37" r="1.72" fill="#84ba4a" stroke="#fff" stroke-width="0.75"/>
<circle cx="657.77" cy="514.23" r="1.61" fill="#84ba4a" stroke="#fff" stroke-width="0.75"/>
<circle cx="660.12" cy="516.46" r="1.47" fill="#84ba4a" stroke="#fff" stroke-width="0.75"/>
<circle cx="587.53" cy="519.64" r="2.64" fill="#84ba4a" stroke="#fff" stroke-width="0.75"/>
<circle cx="581.56" cy="524.89" r="2.55" fill="#84ba4a" stroke="#fff" stroke-width="0.75"/>
<circle cx="584.39" cy="521.71" r="1.87" fill="#84ba4a" stroke="#fff" stroke-width="0.75"/>
<circle cx="655.1" cy="525.37" r="1.51" fill="#84ba4a" stroke="#fff" stroke-width="0.75"/>
<circle cx="662.95" cy="524.41" r="1.65" fill="#84ba4a" stroke="#fff" stroke-width="0.75"/>
<circle cx="669.24" cy="524.41" r="1.89" fill="#84ba4a" stroke="#fff" stroke-width="0.75"/>
<circle cx="668.3" cy="529.67" r="1.76" fill="#84ba4a" stroke="#fff" stroke-width="0.75"/>
<circle cx="621.63" cy="536.03" r="1.64" fill="#84ba4a" stroke="#fff" stroke-width="0.75"/>
<circle cx="623.99" cy="537.62" r="1.72" fill="#84ba4a" stroke="#fff" stroke-width="0.75"/>
<circle cx="626.81" cy="534.92" r="1.52" fill="#84ba4a" stroke="#fff" stroke-width="0.75"/>
<circle cx="631.53" cy="536.03" r="1.87" fill="#84ba4a" stroke="#fff" stroke-width="0.75"/>
<circle cx="665.62" cy="538.1" r="1.88" fill="#84ba4a" stroke="#fff" stroke-width="0.75"/>
<circle cx="670.34" cy="540.33" r="2.47" fill="#84ba4a" stroke="#fff" stroke-width="0.75"/>
<circle cx="666.72" cy="543.19" r="1.73" fill="#84ba4a" stroke="#fff" stroke-width="0.75"/>
<circle cx="670.34" cy="543.99" r="1.78" fill="#84ba4a" stroke="#fff" stroke-width="0.75"/>
<circle cx="665.62" cy="547.65" r="2.99" fill="#84ba4a" stroke="#fff" stroke-width="0.75"/>
<circle cx="669.55" cy="549.88" r="2.84" fill="#84ba4a" stroke="#fff" stroke-width="0.75"/>
<circle cx="671.91" cy="551.94" r="1.92" fill="#84ba4a" stroke="#fff" stroke-width="0.75"/>
<circle cx="673.48" cy="554.33" r="1.76" fill="#84ba4a" stroke="#fff" stroke-width="0.75"/>
<circle cx="667.98" cy="556.72" r="1.4" fill="#84ba4a" stroke="#fff" stroke-width="0.75"/>
<circle cx="662.48" cy="559.9" r="1.8" fill="#84ba4a" stroke="#fff" stroke-width="0.75"/>
<circle cx="666.41" cy="559.11" r="1.71" fill="#84ba4a" stroke="#fff" stroke-width="0.75"/>
<circle cx="671.12" cy="563.08" r="1.52" fill="#84ba4a" stroke="#fff" stroke-width="0.75"/>
<circle cx="572.92" cy="548.76" r="1.42" fill="#84ba4a" stroke="#fff" stroke-width="0.75"/>
<circle cx="582.82" cy="549.56" r="1.79" fill="#84ba4a" stroke="#fff" stroke-width="0.75"/>
<circle cx="596.49" cy="551.47" r="1.74" fill="#84ba4a" stroke="#fff" stroke-width="0.75"/>
<circle cx="593.35" cy="556.24" r="2.98" fill="#84ba4a" stroke="#fff" stroke-width="0.75"/>
<circle cx="605.92" cy="548.76" r="2.07" fill="#84ba4a" stroke="#fff" stroke-width="0.75"/>
<circle cx="606.39" cy="553.54" r="1.77" fill="#84ba4a" stroke="#fff" stroke-width="0.75"/>
<circle cx="628.7" cy="554.65" r="1.62" fill="#84ba4a" stroke="#fff" stroke-width="0.75"/>
<circle cx="635.77" cy="554.33" r="1.45" fill="#84ba4a" stroke="#fff" stroke-width="0.75"/>
<circle cx="638.91" cy="554.65" r="1.96" fill="#84ba4a" stroke="#fff" stroke-width="0.75"/>
<circle cx="642.53" cy="554.65" r="1.92" fill="#84ba4a" stroke="#fff" stroke-width="0.75"/>
<circle cx="633.41" cy="559.11" r="1.48" fill="#84ba4a" stroke="#fff" stroke-width="0.75"/>
<circle cx="639.38" cy="559.9" r="1.76" fill="#84ba4a" stroke="#fff" stroke-width="0.75"/>
<circle cx="627.91" cy="560.7" r="2.36" fill="#84ba4a" stroke="#fff" stroke-width="0.75"/>
<circle cx="627.91" cy="564.68" r="2.87" fill="#84ba4a" stroke="#fff" stroke-width="0.75"/>
<circle cx="647.55" cy="560.7" r="1.88" fill="#84ba4a" stroke="#fff" stroke-width="0.75"/>
<circle cx="654.63" cy="553.54" r="2.43" fill="#84ba4a" stroke="#fff" stroke-width="0.75"/>
<circle cx="653.05" cy="565.15" r="1.85" fill="#84ba4a" stroke="#fff" stroke-width="0.75"/>
<circle cx="594.92" cy="567.06" r="2.74" fill="#84ba4a" stroke="#fff" stroke-width="0.75"/>
<circle cx="583.92" cy="575.02" r="1.43" fill="#84ba4a" stroke="#fff" stroke-width="0.75"/>
<circle cx="584.39" cy="572.63" r="1.52" fill="#84ba4a" stroke="#fff" stroke-width="0.75"/>
<circle cx="576.85" cy="582.18" r="1.7" fill="#84ba4a" stroke="#fff" stroke-width="0.75"/>
<circle cx="592.56" cy="588.55" r="1.72" fill="#84ba4a" stroke="#fff" stroke-width="0.75"/>
<circle cx="617.7" cy="590.61" r="1.79" fill="#84ba4a" stroke="#fff" stroke-width="0.75"/>
<circle cx="571.82" cy="562.29" r="1.68" fill="#84ba4a" stroke="#fff" stroke-width="0.75"/>
</g>
<text x="1" y="407.5" font-size="10" fill="#222">d)</text>
<g font-size="10.8" font-weight="bold" fill="#222" text-anchor="middle" style="stroke-width:0">
<text x="108.7" y="604" style="stroke:none">2014</text>
<text x="348.2" y="604" style="stroke:none">2018</text>
<text x="588" y="604" style="stroke:none">2022</text>
</g>
<path d="M372.4,582.9 H443.5" stroke="#5a5850" stroke-width="1.4"/>
<text x="409.7" y="580.4" font-size="10.2" fill="#111" text-anchor="middle" textLength="23.3" lengthAdjust="spacingAndGlyphs">40 m</text>
<defs><linearGradient id="cb" x1="0" x2="1" y1="0" y2="0"><stop offset="0" stop-color="#efe6a6"/><stop offset="0.5" stop-color="#d7b912"/><stop offset="0.75" stop-color="#ae9614"/><stop offset="1" stop-color="#6b5a1c"/></linearGradient></defs>
<rect x="273.9" y="626.1" width="70.3" height="12.7" fill="url(#cb)"/>
<text x="309.1" y="621.6" font-size="9.4" fill="#222" text-anchor="middle" textLength="46.3" lengthAdjust="spacingAndGlyphs">Height (m)</text>
<text x="268.5" y="650.8" font-size="9.4" fill="#222">1.5</text>
<text x="341.8" y="650.8" font-size="9.4" fill="#222">9</text>
<ellipse cx="369.6" cy="632.2" rx="5" ry="3.6" fill="#8cc63f"/>
<text x="378.8" y="635.5" font-size="9.2" fill="#222" textLength="61.9" lengthAdjust="spacingAndGlyphs">Patches (2013)</text>
</svg></body></html>
